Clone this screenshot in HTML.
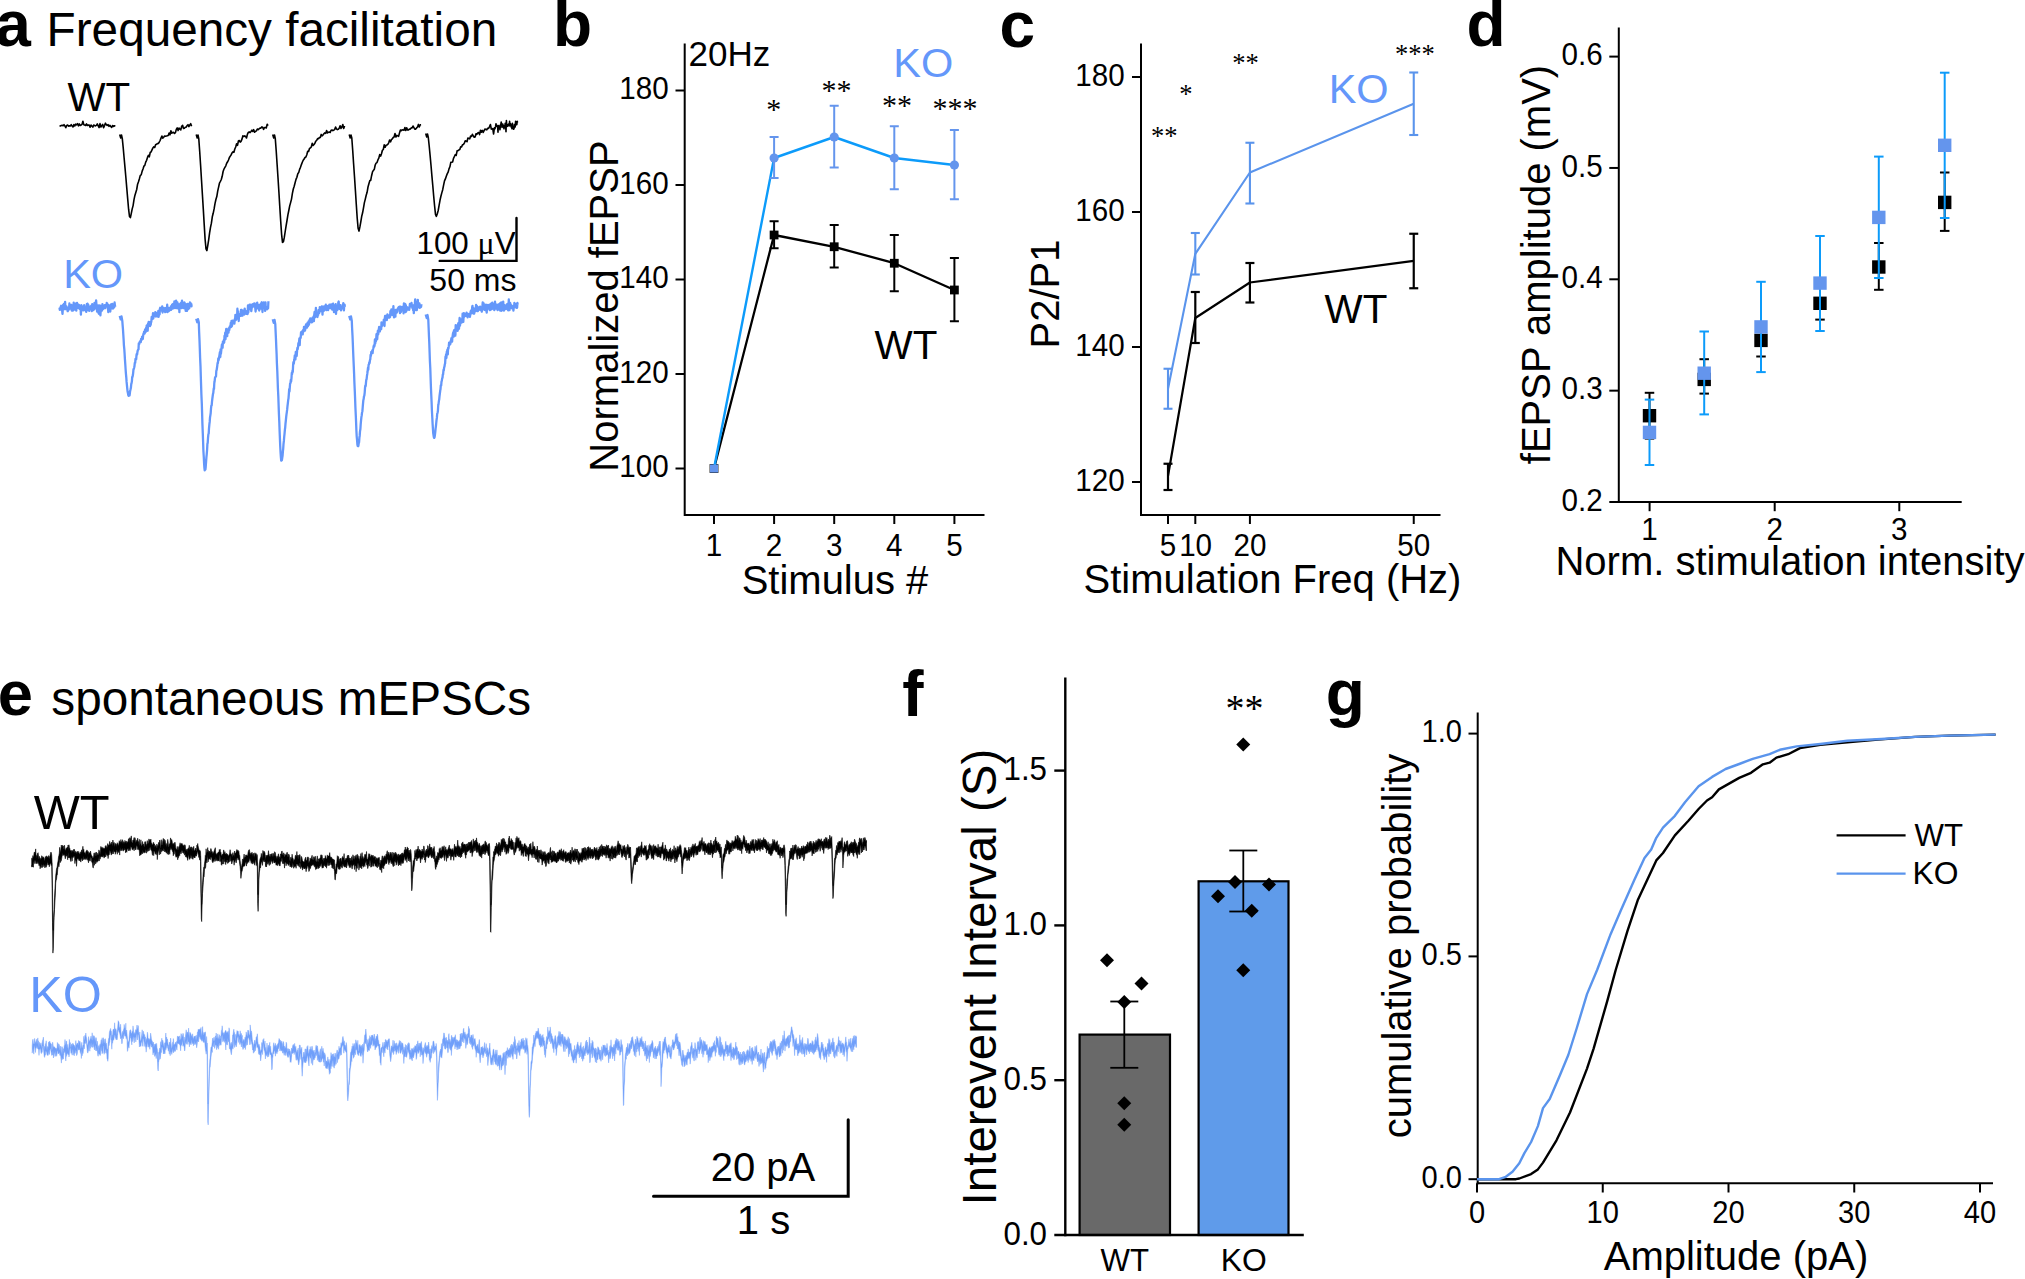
<!DOCTYPE html>
<html><head><meta charset="utf-8"><title>Figure</title>
<style>html,body{margin:0;padding:0;background:#fff;}svg{display:block;}text{white-space:pre;}</style>
</head><body>
<svg width="2025" height="1279" viewBox="0 0 2025 1279">
<rect width="2025" height="1279" fill="#fff"/>
<text x="-4.7" y="46" font-size="64" text-anchor="start" font-weight="bold" fill="#000" font-family='"Liberation Sans", sans-serif'>a</text>
<text x="46.6" y="45.6" font-size="47.7" text-anchor="start" fill="#000" font-family='"Liberation Sans", sans-serif'>Frequency facilitation</text>
<text x="67.4" y="111.4" font-size="40.4" text-anchor="start" fill="#000" font-family='"Liberation Sans", sans-serif'>WT</text>
<text x="63.2" y="287.6" font-size="41.5" text-anchor="start" fill="#6497FA" font-family='"Liberation Sans", sans-serif'>KO</text>
<polyline points="59.5,125.8 60.4,126.0 61.3,125.6 62.2,125.3 63.1,125.8 64.0,124.7 64.9,126.0 65.8,127.7 66.7,125.4 67.6,125.0 68.5,126.1 69.4,125.9 70.3,125.9 71.2,124.7 72.1,125.9 73.0,127.0 73.9,124.6 74.8,126.0 75.7,124.2 76.6,124.8 77.5,123.7 78.4,125.8 79.3,123.9 80.2,125.5 81.1,125.0 82.0,124.4 82.9,121.3 83.8,124.7 84.7,125.0 85.6,125.5 86.5,123.9 87.4,125.5 88.3,125.0 89.2,125.1 90.1,127.2 91.0,125.1 91.9,126.0 92.8,127.1 93.7,125.1 94.6,125.5 95.5,125.9 96.4,125.4 97.3,123.9 98.2,125.9 99.1,127.6 100.0,123.6 100.9,127.0 101.8,125.5 102.7,124.4 103.6,127.7 104.5,125.6 105.4,123.2 106.3,124.6 107.2,125.4 108.1,124.7 109.0,126.3 109.9,125.3 110.8,126.4 111.7,127.5 112.6,125.5 113.5,126.4 114.4,125.7 115.3,126.3" fill="none" stroke="#000" stroke-width="1.6" stroke-linejoin="round"/>
<polyline points="119.7,134.5 120.7,138.0 121.5,135.0 122.3,138.7 123.2,147.6 124.1,157.7 125.0,167.6 125.9,177.7 126.8,188.4 127.7,198.9 128.6,209.2 129.5,216.5 130.4,217.6 131.3,213.4 132.2,208.9 133.1,205.6 134.0,199.7 134.9,195.4 135.8,192.4 136.7,189.5 137.6,184.2 138.5,181.8 139.4,178.8 140.3,175.4 141.2,174.9 142.1,171.4 143.0,169.0 143.9,166.2 144.8,165.4 145.7,162.1 146.6,160.3 147.5,157.4 148.4,155.3 149.3,156.8 150.2,152.5 151.1,151.8 152.0,149.9 152.9,147.9 153.8,146.8 154.7,147.5 155.6,144.7 156.5,144.3 157.4,143.6 158.3,143.5 159.2,142.2 160.1,140.5 161.0,138.1 161.9,136.1 162.8,138.1 163.7,137.2 164.6,136.0 165.5,136.3 166.4,136.0 167.3,135.8 168.2,135.5 169.1,133.1 170.0,134.8 170.9,130.8 171.8,133.2 172.7,132.5 173.6,132.4 174.5,133.5 175.4,132.7 176.3,129.4 177.2,127.9 178.1,130.6 179.0,128.1 179.9,129.1 180.8,129.9 181.7,126.2 182.6,125.3 183.5,128.5 184.4,128.2 185.3,127.2 186.2,127.2 187.1,125.6 188.0,124.7 188.9,126.6 189.8,124.9 190.7,123.7 191.6,126.3" fill="none" stroke="#000" stroke-width="1.6" stroke-linejoin="round"/>
<polyline points="196.2,134.5 197.2,138.0 198.0,135.0 198.8,139.0 199.7,151.5 200.6,165.2 201.5,180.0 202.4,194.5 203.3,209.1 204.2,224.4 205.1,239.2 206.0,248.9 206.9,250.6 207.8,245.3 208.7,239.7 209.6,232.8 210.5,227.3 211.4,223.2 212.3,216.8 213.2,213.3 214.1,208.9 215.0,203.7 215.9,199.5 216.8,196.6 217.7,191.1 218.6,187.1 219.5,183.0 220.4,181.3 221.3,179.5 222.2,176.3 223.1,171.5 224.0,169.0 224.9,167.3 225.8,165.8 226.7,163.2 227.6,161.8 228.5,160.0 229.4,157.5 230.3,156.1 231.2,154.7 232.1,152.8 233.0,151.8 233.9,152.3 234.8,149.0 235.7,147.0 236.6,143.7 237.5,145.3 238.4,141.0 239.3,140.5 240.2,142.1 241.1,141.3 242.0,139.1 242.9,135.8 243.8,136.5 244.7,135.8 245.6,136.4 246.5,138.0 247.4,134.4 248.3,132.4 249.2,131.9 250.1,132.6 251.0,131.5 251.9,130.2 252.8,131.5 253.7,129.7 254.6,132.2 255.5,131.4 256.4,130.8 257.3,129.0 258.2,129.7 259.1,128.8 260.0,128.0 260.9,128.1 261.8,126.9 262.7,127.3 263.6,129.3 264.5,127.5 265.4,127.5 266.3,127.9 267.2,124.3 268.1,125.6" fill="none" stroke="#000" stroke-width="1.6" stroke-linejoin="round"/>
<polyline points="272.7,134.5 273.7,138.0 274.5,135.0 275.3,138.7 276.2,150.7 277.1,164.2 278.0,177.7 278.9,192.0 279.8,206.9 280.7,221.2 281.6,234.3 282.5,242.4 283.4,241.9 284.3,237.4 285.2,231.5 286.1,225.9 287.0,220.5 287.9,214.8 288.8,210.5 289.7,205.9 290.6,202.6 291.5,199.1 292.4,193.3 293.3,189.0 294.2,186.2 295.1,182.8 296.0,179.4 296.9,177.2 297.8,173.7 298.7,172.6 299.6,169.4 300.5,167.3 301.4,164.6 302.3,162.3 303.2,160.2 304.1,159.0 305.0,157.5 305.9,157.0 306.8,154.8 307.7,151.3 308.6,151.5 309.5,148.5 310.4,147.9 311.3,147.0 312.2,143.4 313.1,145.5 314.0,144.5 314.9,143.2 315.8,141.2 316.7,140.3 317.6,138.6 318.5,138.8 319.4,137.6 320.3,137.4 321.2,134.4 322.1,135.9 323.0,135.0 323.9,133.7 324.8,132.8 325.7,133.4 326.6,130.5 327.5,132.9 328.4,132.3 329.3,132.0 330.2,132.4 331.1,130.2 332.0,130.0 332.9,130.7 333.8,130.1 334.7,129.4 335.6,127.0 336.5,128.8 337.4,129.6 338.3,129.3 339.2,128.2 340.1,125.7 341.0,128.4 341.9,127.0 342.8,124.5 343.7,128.5 344.6,126.0" fill="none" stroke="#000" stroke-width="1.6" stroke-linejoin="round"/>
<polyline points="349.2,134.5 350.2,138.0 351.0,135.0 351.8,138.0 352.7,150.2 353.6,163.7 354.5,176.8 355.4,190.5 356.3,204.5 357.2,218.0 358.1,228.2 359.0,231.1 359.9,226.9 360.8,221.8 361.7,216.4 362.6,212.8 363.5,207.8 364.4,202.6 365.3,199.1 366.2,195.3 367.1,192.3 368.0,187.0 368.9,183.8 369.8,180.6 370.7,180.4 371.6,175.7 372.5,171.9 373.4,170.4 374.3,169.3 375.2,165.0 376.1,163.1 377.0,162.6 377.9,159.9 378.8,158.2 379.7,154.6 380.6,156.1 381.5,153.7 382.4,150.3 383.3,149.5 384.2,144.8 385.1,147.3 386.0,145.3 386.9,145.0 387.8,144.4 388.7,142.8 389.6,140.0 390.5,141.9 391.4,139.6 392.3,138.9 393.2,137.5 394.1,137.0 395.0,133.5 395.9,137.0 396.8,135.4 397.7,135.8 398.6,136.4 399.5,132.9 400.4,130.0 401.3,130.7 402.2,129.9 403.1,130.0 404.0,130.2 404.9,127.5 405.8,130.4 406.7,127.7 407.6,130.0 408.5,129.9 409.4,129.1 410.3,129.1 411.2,127.9 412.1,127.9 413.0,126.0 413.9,127.6 414.8,129.2 415.7,129.1 416.6,127.9 417.5,127.0 418.4,124.4 419.3,126.9 420.2,124.8 421.1,124.7" fill="none" stroke="#000" stroke-width="1.6" stroke-linejoin="round"/>
<polyline points="425.7,133.5 426.7,137.0 427.5,134.0 428.3,137.5 429.2,146.0 430.1,155.4 431.0,165.3 431.9,175.9 432.8,185.8 433.7,196.3 434.6,206.0 435.5,214.3 436.4,216.3 437.3,213.7 438.2,210.5 439.1,205.3 440.0,200.3 440.9,196.3 441.8,192.9 442.7,189.7 443.6,185.2 444.5,180.9 445.4,178.9 446.3,176.2 447.2,173.9 448.1,172.2 449.0,168.9 449.9,166.8 450.8,162.4 451.7,162.3 452.6,162.0 453.5,158.4 454.4,156.5 455.3,154.7 456.2,155.4 457.1,150.9 458.0,150.7 458.9,149.9 459.8,149.6 460.7,146.8 461.6,146.9 462.5,144.8 463.4,144.5 464.3,143.1 465.2,140.9 466.1,141.1 467.0,141.7 467.9,138.0 468.8,138.4 469.7,138.9 470.6,136.0 471.5,136.5 472.4,134.3 473.3,135.8 474.2,137.3 475.1,137.0 476.0,133.7 476.9,134.3 477.8,133.0 478.7,132.5 479.6,134.6 480.5,130.2 481.4,132.2 482.3,130.4 483.2,132.4 484.1,130.6 485.0,129.0 485.9,129.4 486.8,129.8 487.7,128.2 488.6,128.5 489.5,126.6 490.4,124.5 491.3,129.0 492.0,129.2 492.4,129.0 492.8,128.5 493.2,131.7 493.6,134.0 494.0,130.8 494.4,127.9 494.8,129.0 495.2,128.2 495.6,126.4 496.0,123.7 496.4,126.2 496.8,125.3 497.2,126.5 497.6,126.3 498.0,132.2 498.4,125.5 498.8,127.3 499.2,126.1 499.6,128.0 500.0,129.7 500.4,125.0 500.8,124.7 501.2,122.1 501.6,123.9 502.0,127.5 502.4,126.6 502.8,124.1 503.2,125.6 503.6,126.5 504.0,128.8 504.4,125.6 504.8,126.9 505.2,123.3 505.6,124.3 506.0,131.8 506.4,120.5 506.8,126.0 507.2,126.4 507.6,126.2 508.0,124.9 508.4,124.2 508.8,125.0 509.2,125.8 509.6,121.4 510.0,125.7 510.4,123.5 510.8,124.7 511.2,126.9 511.6,127.4 512.0,128.8 512.4,123.2 512.8,128.5 513.2,127.9 513.6,129.2 514.0,128.9 514.4,124.6 514.8,125.3 515.2,126.9 515.6,121.3 516.0,124.8 516.4,124.0 516.8,124.6 517.2,121.3 517.6,122.6" fill="none" stroke="#000" stroke-width="1.6" stroke-linejoin="round"/>
<polyline points="59.5,307.6 59.8,309.9 60.2,309.1 60.5,307.1 60.8,306.7 61.1,305.8 61.5,308.7 61.8,307.4 62.1,310.1 62.5,313.9 62.8,309.0 63.1,305.0 63.5,305.9 63.8,304.1 64.1,303.8 64.4,309.1 64.8,305.9 65.1,301.8 65.4,307.1 65.8,309.2 66.1,306.5 66.4,306.2 66.8,307.4 67.1,308.9 67.4,309.6 67.7,311.2 68.1,310.3 68.4,309.8 68.7,309.8 69.1,307.8 69.4,303.5 69.7,306.6 70.1,307.4 70.4,305.9 70.7,308.7 71.0,305.8 71.4,304.9 71.7,310.5 72.0,309.1 72.4,307.8 72.7,309.9 73.0,310.5 73.4,309.4 73.7,302.6 74.0,306.1 74.3,306.6 74.7,305.5 75.0,307.9 75.3,309.7 75.7,305.5 76.0,303.5 76.3,310.6 76.7,304.5 77.0,302.9 77.3,306.5 77.6,307.0 78.0,304.3 78.3,307.9 78.6,305.2 79.0,305.0 79.3,307.8 79.6,308.9 80.0,306.5 80.3,308.5 80.6,308.3 80.9,314.6 81.3,305.1 81.6,310.5 81.9,307.8 82.3,306.8 82.6,309.3 82.9,309.2 83.3,310.3 83.6,308.5 83.9,305.4 84.2,305.2 84.6,307.9 84.9,308.4 85.2,310.4 85.6,308.8 85.9,310.5 86.2,311.8 86.6,308.0 86.9,303.8 87.2,304.5 87.5,303.6 87.9,310.1 88.2,304.6 88.5,309.0 88.9,308.0 89.2,310.8 89.5,308.6 89.9,306.6 90.2,306.4 90.5,306.9 90.8,307.2 91.2,305.7 91.5,307.0 91.8,311.2 92.2,304.2 92.5,308.8 92.8,306.2 93.2,309.0 93.5,310.1 93.8,307.8 94.1,309.1 94.5,302.8 94.8,308.6 95.1,304.9 95.5,307.7 95.8,306.8 96.1,300.4 96.5,305.4 96.8,307.9 97.1,311.6 97.4,308.7 97.8,309.2 98.1,305.4 98.4,312.5 98.8,313.7 99.1,309.1 99.4,308.3 99.8,305.4 100.1,310.8 100.4,315.3 100.7,310.9 101.1,311.1 101.4,310.0 101.7,305.8 102.1,310.5 102.4,304.2 102.7,306.3 103.1,307.1 103.4,308.8 103.7,307.2 104.0,308.0 104.4,305.9 104.7,305.1 105.0,308.2 105.4,306.3 105.7,305.0 106.0,305.6 106.4,306.3 106.7,303.0 107.0,304.9 107.3,303.7 107.7,308.3 108.0,308.7 108.3,312.2 108.7,305.1 109.0,306.4 109.3,309.2 109.7,307.6 110.0,307.0 110.3,311.5 110.6,306.8 111.0,304.4 111.3,304.9 111.6,308.3 112.0,308.1 112.3,303.9 112.6,305.1 113.0,308.5 113.3,308.0 113.6,304.7 113.9,307.6 114.3,307.0 114.6,302.5 114.9,305.3 115.3,306.7" fill="none" stroke="#6497FA" stroke-width="2.3" stroke-linejoin="round"/>
<polyline points="119.7,315.9 120.7,319.4 121.5,316.4 122.3,320.9 122.6,324.9 123.0,329.7 123.3,334.5 123.6,339.1 123.9,345.1 124.3,349.2 124.6,353.6 124.9,358.9 125.3,364.5 125.6,369.2 125.9,373.3 126.3,377.7 126.6,381.9 126.9,384.8 127.2,388.1 127.6,391.6 127.9,392.9 128.2,394.9 128.6,395.9 128.9,395.7 129.2,394.6 129.6,395.4 129.9,392.9 130.2,390.6 130.5,389.6 130.9,387.8 131.2,384.5 131.5,383.4 131.9,381.3 132.2,377.0 132.5,377.0 132.9,375.1 133.2,372.6 133.5,369.2 133.8,369.0 134.2,367.5 134.5,366.0 134.8,362.8 135.2,362.8 135.5,358.9 135.8,358.7 136.2,359.1 136.5,355.1 136.8,353.8 137.1,354.7 137.5,351.6 137.8,350.4 138.1,349.7 138.5,349.5 138.8,343.4 139.1,344.4 139.5,342.8 139.8,341.8 140.1,341.4 140.4,341.0 140.8,342.1 141.1,338.8 141.4,340.0 141.8,339.6 142.1,336.7 142.4,337.1 142.8,338.9 143.1,336.0 143.4,333.9 143.7,334.0 144.1,331.7 144.4,333.0 144.7,333.5 145.1,329.4 145.4,329.6 145.7,331.9 146.1,327.8 146.4,328.8 146.7,325.5 147.0,325.2 147.4,325.6 147.7,330.8 148.0,323.9 148.4,322.9 148.7,321.9 149.0,323.0 149.4,324.4 149.7,322.6 150.0,326.2 150.3,322.0 150.7,324.8 151.0,322.3 151.3,321.8 151.7,316.8 152.0,319.3 152.3,319.0 152.7,318.1 153.0,313.1 153.3,318.5 153.6,315.6 154.0,315.1 154.3,315.0 154.6,314.6 155.0,316.2 155.3,312.2 155.6,313.7 156.0,316.5 156.3,315.6 156.6,314.5 156.9,314.1 157.3,312.8 157.6,314.2 157.9,316.5 158.3,311.0 158.6,316.9 158.9,314.8 159.3,311.6 159.6,314.4 159.9,308.8 160.2,307.8 160.6,308.3 160.9,309.9 161.2,309.9 161.6,309.2 161.9,310.9 162.2,306.3 162.6,312.5 162.9,307.9 163.2,310.3 163.5,310.9 163.9,309.2 164.2,308.0 164.5,308.4 164.9,310.9 165.2,312.1 165.5,311.9 165.9,307.8 166.2,308.4 166.5,307.6 166.8,311.1 167.2,304.7 167.5,312.2 167.8,307.7 168.2,307.6 168.5,309.5 168.8,311.2 169.2,308.6 169.5,310.3 169.8,308.0 170.1,310.1 170.5,309.5 170.8,306.5 171.1,309.8 171.5,307.4 171.8,307.6 172.1,304.6 172.5,306.1 172.8,308.5 173.1,303.9 173.4,308.3 173.8,307.4 174.1,306.4 174.4,301.4 174.8,306.2 175.1,308.0 175.4,304.6 175.8,306.7 176.1,300.6 176.4,308.0 176.7,304.8 177.1,308.2 177.4,302.3 177.7,308.3 178.1,305.9 178.4,308.5 178.7,304.7 179.1,305.7 179.4,312.1 179.7,304.3 180.0,304.0 180.4,305.1 180.7,303.1 181.0,307.8 181.4,308.1 181.7,302.4 182.0,300.6 182.4,307.2 182.7,307.2 183.0,307.2 183.3,308.1 183.7,303.7 184.0,305.7 184.3,302.3 184.7,303.0 185.0,308.7 185.3,304.3 185.7,310.9 186.0,306.1 186.3,304.5 186.6,308.6 187.0,310.8 187.3,307.4 187.6,303.8 188.0,307.0 188.3,309.2 188.6,304.7 189.0,304.3 189.3,308.1 189.6,305.6 189.9,302.5 190.3,304.6 190.6,303.2 190.9,305.3 191.3,304.0 191.6,306.4 191.9,306.0" fill="none" stroke="#6497FA" stroke-width="2.3" stroke-linejoin="round"/>
<polyline points="196.2,318.7 197.2,322.2 198.0,319.2 198.8,322.3 199.1,331.3 199.5,340.1 199.8,348.4 200.1,357.6 200.5,366.1 200.8,376.4 201.1,385.6 201.4,394.8 201.8,403.4 202.1,413.1 202.4,423.6 202.8,433.4 203.1,441.8 203.4,450.7 203.8,457.3 204.1,463.5 204.4,467.8 204.7,470.4 205.1,469.2 205.4,469.5 205.7,467.0 206.1,461.4 206.4,457.3 206.7,454.6 207.1,449.7 207.4,443.9 207.7,442.9 208.0,438.2 208.4,434.2 208.7,433.6 209.0,428.3 209.4,424.2 209.7,421.9 210.0,417.7 210.4,415.1 210.7,413.0 211.0,408.6 211.3,405.8 211.7,405.3 212.0,401.6 212.3,399.0 212.7,396.0 213.0,393.8 213.3,392.9 213.7,388.5 214.0,388.9 214.3,383.0 214.6,381.6 215.0,377.8 215.3,377.2 215.6,376.7 216.0,376.5 216.3,371.0 216.6,370.2 217.0,367.8 217.3,365.6 217.6,362.9 217.9,363.1 218.3,358.3 218.6,360.3 218.9,358.5 219.3,356.2 219.6,354.3 219.9,352.2 220.3,357.2 220.6,349.5 220.9,353.9 221.2,351.1 221.6,347.5 221.9,344.5 222.2,347.6 222.6,347.7 222.9,341.5 223.2,341.4 223.6,343.1 223.9,339.8 224.2,342.5 224.5,335.8 224.9,337.3 225.2,332.7 225.5,339.3 225.9,332.2 226.2,329.0 226.5,332.9 226.9,332.4 227.2,336.2 227.5,329.6 227.8,329.9 228.2,330.7 228.5,332.7 228.8,328.2 229.2,330.3 229.5,328.6 229.8,326.5 230.2,326.7 230.5,326.1 230.8,322.8 231.1,327.0 231.5,321.0 231.8,326.3 232.1,325.1 232.5,322.4 232.8,320.6 233.1,321.8 233.5,323.0 233.8,323.4 234.1,322.2 234.4,323.6 234.8,319.2 235.1,319.8 235.4,314.8 235.8,320.0 236.1,317.6 236.4,315.8 236.8,318.6 237.1,316.8 237.4,308.7 237.7,314.9 238.1,311.3 238.4,317.1 238.7,321.0 239.1,314.4 239.4,315.7 239.7,314.5 240.1,315.1 240.4,315.0 240.7,315.9 241.0,309.8 241.4,315.4 241.7,309.8 242.0,312.7 242.4,315.7 242.7,315.1 243.0,310.8 243.4,310.7 243.7,310.5 244.0,311.6 244.3,314.5 244.7,308.7 245.0,311.8 245.3,312.3 245.7,312.1 246.0,312.2 246.3,313.9 246.7,311.2 247.0,311.5 247.3,311.3 247.6,314.0 248.0,305.4 248.3,312.5 248.6,308.8 249.0,308.7 249.3,307.0 249.6,304.7 250.0,307.8 250.3,306.6 250.6,309.5 250.9,304.7 251.3,311.2 251.6,308.7 251.9,306.8 252.3,305.5 252.6,305.5 252.9,304.1 253.3,305.3 253.6,306.5 253.9,305.8 254.2,303.5 254.6,306.2 254.9,305.0 255.2,307.3 255.6,311.5 255.9,308.6 256.2,306.4 256.6,303.1 256.9,303.3 257.2,302.6 257.5,308.4 257.9,304.8 258.2,306.3 258.5,304.8 258.9,307.3 259.2,310.5 259.5,305.7 259.9,306.4 260.2,304.6 260.5,308.7 260.8,303.9 261.2,303.3 261.5,302.7 261.8,302.3 262.2,306.4 262.5,312.0 262.8,303.5 263.2,308.2 263.5,305.7 263.8,302.5 264.1,304.9 264.5,305.6 264.8,304.7 265.1,310.9 265.5,302.4 265.8,308.4 266.1,308.8 266.5,306.8 266.8,307.8 267.1,309.3 267.4,307.6 267.8,307.9 268.1,308.3 268.4,301.2" fill="none" stroke="#6497FA" stroke-width="2.3" stroke-linejoin="round"/>
<polyline points="272.7,319.3 273.7,322.8 274.5,319.8 275.3,324.3 275.6,331.4 276.0,339.7 276.3,347.4 276.6,354.0 276.9,363.1 277.3,371.2 277.6,379.5 277.9,388.2 278.3,396.0 278.6,404.8 278.9,413.4 279.3,422.0 279.6,430.8 279.9,438.3 280.2,445.8 280.6,452.9 280.9,457.4 281.2,460.7 281.6,459.9 281.9,460.1 282.2,458.0 282.6,455.5 282.9,451.4 283.2,448.8 283.5,444.1 283.9,440.7 284.2,436.8 284.5,434.1 284.9,429.6 285.2,427.5 285.5,423.6 285.9,420.0 286.2,416.9 286.5,414.4 286.8,412.3 287.2,409.2 287.5,406.0 287.8,403.7 288.2,400.1 288.5,398.6 288.8,394.7 289.2,389.1 289.5,391.5 289.8,387.3 290.1,383.6 290.5,383.0 290.8,380.0 291.1,381.7 291.5,378.0 291.8,372.9 292.1,374.1 292.5,370.6 292.8,372.0 293.1,365.2 293.4,362.1 293.8,363.7 294.1,361.0 294.4,359.3 294.8,355.4 295.1,358.5 295.4,359.4 295.8,351.9 296.1,356.2 296.4,352.0 296.7,356.0 297.1,350.5 297.4,347.9 297.7,349.2 298.1,346.5 298.4,343.2 298.7,344.8 299.1,341.5 299.4,338.3 299.7,345.1 300.0,338.8 300.4,337.2 300.7,337.9 301.0,332.6 301.4,331.9 301.7,332.5 302.0,331.5 302.4,332.6 302.7,334.4 303.0,330.1 303.3,331.9 303.7,331.4 304.0,326.9 304.3,329.6 304.7,326.8 305.0,330.5 305.3,329.0 305.7,327.7 306.0,324.5 306.3,327.3 306.6,325.3 307.0,327.6 307.3,325.3 307.6,322.7 308.0,326.0 308.3,324.6 308.6,321.3 309.0,324.6 309.3,320.6 309.6,319.8 309.9,320.7 310.3,318.3 310.6,318.9 310.9,318.9 311.3,322.4 311.6,322.3 311.9,318.7 312.3,322.0 312.6,317.7 312.9,318.0 313.2,318.6 313.6,316.4 313.9,321.2 314.2,315.2 314.6,311.8 314.9,317.4 315.2,313.6 315.6,314.3 315.9,307.9 316.2,316.4 316.5,316.2 316.9,315.9 317.2,315.6 317.5,317.0 317.9,313.0 318.2,314.9 318.5,310.1 318.9,310.0 319.2,312.9 319.5,311.4 319.8,307.2 320.2,310.4 320.5,309.1 320.8,308.3 321.2,311.1 321.5,309.3 321.8,306.3 322.2,307.8 322.5,314.6 322.8,306.9 323.1,310.4 323.5,311.3 323.8,310.7 324.1,306.3 324.5,307.2 324.8,308.2 325.1,309.7 325.5,306.3 325.8,304.7 326.1,309.7 326.4,310.1 326.8,308.4 327.1,306.1 327.4,308.3 327.8,308.1 328.1,310.2 328.4,305.6 328.8,308.1 329.1,307.0 329.4,304.6 329.7,308.2 330.1,307.5 330.4,306.5 330.7,308.2 331.1,304.4 331.4,307.7 331.7,308.8 332.1,308.1 332.4,309.7 332.7,304.1 333.0,303.6 333.4,307.7 333.7,308.1 334.0,312.1 334.4,308.6 334.7,305.2 335.0,309.5 335.4,305.8 335.7,304.2 336.0,313.9 336.3,307.8 336.7,308.4 337.0,307.3 337.3,310.1 337.7,305.6 338.0,308.0 338.3,302.4 338.7,301.5 339.0,308.1 339.3,308.9 339.6,306.5 340.0,306.9 340.3,306.6 340.6,305.1 341.0,310.3 341.3,308.5 341.6,308.1 342.0,307.5 342.3,308.4 342.6,307.0 342.9,307.4 343.3,303.2 343.6,306.7 343.9,310.3 344.3,304.4 344.6,304.8 344.9,306.9" fill="none" stroke="#6497FA" stroke-width="2.3" stroke-linejoin="round"/>
<polyline points="349.2,315.9 350.2,319.4 351.0,316.4 351.8,321.0 352.1,328.3 352.5,335.5 352.8,342.6 353.1,350.5 353.4,357.8 353.8,366.6 354.1,373.9 354.4,382.5 354.8,391.3 355.1,398.7 355.4,407.2 355.8,415.5 356.1,422.5 356.4,430.8 356.7,436.5 357.1,440.5 357.4,444.6 357.7,445.9 358.1,446.3 358.4,445.9 358.7,443.3 359.1,442.1 359.4,437.6 359.7,435.7 360.0,431.4 360.4,429.0 360.7,424.3 361.0,421.0 361.4,417.1 361.7,415.5 362.0,412.8 362.4,411.2 362.7,407.5 363.0,403.8 363.3,400.6 363.7,398.8 364.0,396.2 364.3,395.9 364.7,392.7 365.0,388.1 365.3,385.7 365.7,386.0 366.0,382.4 366.3,379.6 366.6,379.2 367.0,375.5 367.3,373.7 367.6,371.5 368.0,367.7 368.3,369.8 368.6,364.9 369.0,364.2 369.3,362.3 369.6,363.2 369.9,360.5 370.3,359.2 370.6,354.8 370.9,355.8 371.3,351.9 371.6,353.4 371.9,352.1 372.3,350.4 372.6,353.1 372.9,349.7 373.2,348.8 373.6,347.1 373.9,345.3 374.2,346.6 374.6,345.3 374.9,339.5 375.2,343.6 375.6,341.5 375.9,341.4 376.2,339.2 376.5,334.1 376.9,333.8 377.2,339.3 377.5,334.4 377.9,330.6 378.2,334.4 378.5,332.1 378.9,328.7 379.2,326.8 379.5,327.7 379.8,331.4 380.2,329.5 380.5,328.1 380.8,329.1 381.2,329.1 381.5,322.4 381.8,326.2 382.2,324.4 382.5,323.0 382.8,324.1 383.1,324.5 383.5,323.6 383.8,319.7 384.1,321.1 384.5,326.0 384.8,318.4 385.1,316.0 385.5,319.4 385.8,319.7 386.1,319.5 386.4,315.6 386.8,320.1 387.1,316.0 387.4,314.5 387.8,315.6 388.1,316.1 388.4,317.5 388.8,317.2 389.1,316.0 389.4,317.6 389.7,315.2 390.1,316.9 390.4,311.4 390.7,310.7 391.1,315.0 391.4,309.5 391.7,311.9 392.1,312.4 392.4,311.6 392.7,311.4 393.0,315.1 393.4,306.2 393.7,314.1 394.0,317.3 394.4,311.8 394.7,311.7 395.0,313.4 395.4,316.6 395.7,309.8 396.0,312.1 396.3,311.2 396.7,312.7 397.0,311.0 397.3,311.6 397.7,308.6 398.0,309.4 398.3,307.7 398.7,307.2 399.0,308.9 399.3,309.0 399.6,306.7 400.0,313.1 400.3,309.5 400.6,306.7 401.0,311.9 401.3,306.9 401.6,310.0 402.0,308.9 402.3,309.5 402.6,308.4 402.9,306.7 403.3,308.3 403.6,313.4 403.9,303.3 404.3,308.8 404.6,308.9 404.9,305.4 405.3,304.0 405.6,312.1 405.9,305.5 406.2,311.4 406.6,307.9 406.9,307.0 407.2,308.0 407.6,308.6 407.9,309.7 408.2,308.7 408.6,307.7 408.9,307.5 409.2,309.9 409.5,308.3 409.9,303.9 410.2,304.6 410.5,306.4 410.9,304.1 411.2,304.2 411.5,302.9 411.9,305.5 412.2,306.9 412.5,308.3 412.8,305.8 413.2,310.3 413.5,305.4 413.8,313.1 414.2,308.1 414.5,306.7 414.8,304.6 415.2,299.3 415.5,305.6 415.8,306.4 416.1,310.1 416.5,302.3 416.8,310.2 417.1,305.2 417.5,307.4 417.8,299.9 418.1,306.0 418.5,305.3 418.8,307.3 419.1,306.1 419.4,303.3 419.8,307.8 420.1,306.9 420.4,306.4 420.8,307.1 421.1,307.0 421.4,304.1" fill="none" stroke="#6497FA" stroke-width="2.3" stroke-linejoin="round"/>
<polyline points="425.7,314.5 426.7,318.0 427.5,315.0 428.3,319.7 428.6,327.3 429.0,336.7 429.3,343.4 429.6,352.1 429.9,361.0 430.3,368.5 430.6,377.7 430.9,386.5 431.3,395.8 431.6,402.4 431.9,410.5 432.3,417.8 432.6,423.8 432.9,428.3 433.2,433.0 433.6,435.7 433.9,437.4 434.2,437.9 434.6,437.2 434.9,435.0 435.2,432.6 435.6,428.6 435.9,426.3 436.2,423.5 436.5,420.3 436.9,417.7 437.2,413.8 437.5,413.1 437.9,411.1 438.2,405.8 438.5,404.3 438.9,400.9 439.2,399.6 439.5,396.4 439.8,394.0 440.2,390.8 440.5,389.3 440.8,385.4 441.2,385.5 441.5,381.7 441.8,380.8 442.2,378.1 442.5,377.9 442.8,374.6 443.1,374.5 443.5,369.9 443.8,370.3 444.1,367.6 444.5,366.5 444.8,364.3 445.1,363.6 445.5,356.6 445.8,358.7 446.1,354.4 446.4,358.0 446.8,351.6 447.1,351.9 447.4,349.6 447.8,354.4 448.1,347.9 448.4,348.8 448.8,346.2 449.1,342.6 449.4,344.1 449.7,344.7 450.1,342.6 450.4,344.0 450.7,341.1 451.1,340.3 451.4,338.2 451.7,339.1 452.1,341.7 452.4,337.2 452.7,335.6 453.0,333.3 453.4,332.2 453.7,336.7 454.0,330.4 454.4,330.0 454.7,331.9 455.0,331.0 455.4,335.7 455.7,325.1 456.0,330.2 456.3,330.6 456.7,325.9 457.0,326.3 457.3,328.7 457.7,330.8 458.0,324.7 458.3,323.2 458.7,328.4 459.0,328.7 459.3,323.2 459.6,318.0 460.0,325.6 460.3,321.4 460.6,323.3 461.0,320.5 461.3,319.1 461.6,319.1 462.0,322.3 462.3,322.1 462.6,313.7 462.9,316.3 463.3,321.9 463.6,316.7 463.9,313.2 464.3,316.6 464.6,316.3 464.9,315.3 465.3,314.6 465.6,314.4 465.9,313.6 466.2,315.9 466.6,312.7 466.9,314.2 467.2,314.1 467.6,317.3 467.9,315.4 468.2,313.8 468.6,314.5 468.9,314.4 469.2,314.9 469.5,314.0 469.9,316.8 470.2,315.2 470.5,312.1 470.9,310.8 471.2,313.5 471.5,312.3 471.9,310.7 472.2,307.1 472.5,305.8 472.8,311.5 473.2,313.5 473.5,313.6 473.8,308.6 474.2,313.6 474.5,309.6 474.8,311.9 475.2,310.9 475.5,307.8 475.8,308.0 476.1,304.9 476.5,307.4 476.8,305.9 477.1,311.1 477.5,309.6 477.8,311.2 478.1,309.7 478.5,307.5 478.8,309.7 479.1,307.5 479.4,309.4 479.8,309.7 480.1,306.6 480.4,308.7 480.8,308.2 481.1,307.6 481.4,310.2 481.8,311.7 482.1,306.8 482.4,306.7 482.7,302.5 483.1,307.7 483.4,307.1 483.7,303.5 484.1,309.5 484.4,309.9 484.7,306.6 485.1,307.7 485.4,306.3 485.7,310.3 486.0,304.6 486.4,306.9 486.7,312.6 487.0,308.6 487.4,309.0 487.7,307.4 488.0,304.8 488.4,307.6 488.7,308.7 489.0,305.3 489.3,308.2 489.7,310.1 490.0,310.1 490.3,304.1 490.7,305.2 491.0,303.6 491.3,309.4 491.7,308.7 492.0,309.0 492.3,302.7 492.6,307.3 493.0,305.8 493.3,308.0 493.6,304.1 494.0,305.7 494.3,310.2 494.6,304.8 495.0,301.6 495.3,305.5 495.6,304.0 495.9,306.3 496.3,308.7 496.6,304.8 496.9,308.3 497.3,306.2 497.6,310.1 497.9,309.9 498.3,304.4 498.6,305.7 498.9,305.2 499.2,306.3 499.6,308.2 499.9,303.5 500.2,310.6 500.6,304.2 500.9,306.3 501.2,302.3 501.6,310.8 501.9,304.5 502.2,305.8 502.5,305.8 502.9,308.2 503.2,301.6 503.5,306.3 503.9,310.7 504.2,304.9 504.5,306.6 504.9,308.9 505.2,305.6 505.5,307.4 505.8,309.2 506.2,306.4 506.5,307.0 506.8,304.3 507.2,308.1 507.5,303.8 507.8,309.1 508.2,310.3 508.5,305.0 508.8,299.5 509.1,308.3 509.5,310.1 509.8,304.4 510.1,302.8 510.5,304.2 510.8,308.2 511.1,307.4 511.5,305.4 511.8,306.0 512.1,308.3 512.4,306.6 512.8,306.6 513.1,306.1 513.4,310.6 513.8,307.2 514.1,306.7 514.4,302.8 514.8,304.1 515.1,305.9 515.4,303.8 515.7,307.4 516.1,306.8 516.4,305.1 516.7,307.9 517.1,307.7 517.4,302.9 517.7,304.6" fill="none" stroke="#6497FA" stroke-width="2.3" stroke-linejoin="round"/>
<polyline points="439.7,260.9 516.5,260.9 516.5,218" fill="none" stroke="#000" stroke-width="2.4" stroke-linecap="round" stroke-linejoin="miter"/>
<text x="515.5" y="253.7" font-size="31.3" text-anchor="end" font-family='"Liberation Sans", sans-serif'>100 <tspan font-family='"Liberation Serif", serif' font-size="32">μ</tspan>V</text>
<text x="516.5" y="291.1" font-size="32" text-anchor="end" fill="#000" font-family='"Liberation Sans", sans-serif'>50 ms</text>
<text x="553" y="46" font-size="64" text-anchor="start" font-weight="bold" fill="#000" font-family='"Liberation Sans", sans-serif'>b</text>
<polyline points="684.7,43.5 684.7,515 984.5,515" fill="none" stroke="#000" stroke-width="2"/>
<line x1="675.5" y1="468.5" x2="684.7" y2="468.5" stroke="#000" stroke-width="2" stroke-linecap="butt"/>
<text transform="translate(668.6 477.3) scale(0.94 1)" font-size="31.5" text-anchor="end" fill="#000" font-family='"Liberation Sans", sans-serif'>100</text>
<line x1="675.5" y1="374.0" x2="684.7" y2="374.0" stroke="#000" stroke-width="2" stroke-linecap="butt"/>
<text transform="translate(668.6 382.8) scale(0.94 1)" font-size="31.5" text-anchor="end" fill="#000" font-family='"Liberation Sans", sans-serif'>120</text>
<line x1="675.5" y1="279.5" x2="684.7" y2="279.5" stroke="#000" stroke-width="2" stroke-linecap="butt"/>
<text transform="translate(668.6 288.3) scale(0.94 1)" font-size="31.5" text-anchor="end" fill="#000" font-family='"Liberation Sans", sans-serif'>140</text>
<line x1="675.5" y1="185.0" x2="684.7" y2="185.0" stroke="#000" stroke-width="2" stroke-linecap="butt"/>
<text transform="translate(668.6 193.8) scale(0.94 1)" font-size="31.5" text-anchor="end" fill="#000" font-family='"Liberation Sans", sans-serif'>160</text>
<line x1="675.5" y1="90.5" x2="684.7" y2="90.5" stroke="#000" stroke-width="2" stroke-linecap="butt"/>
<text transform="translate(668.6 99.3) scale(0.94 1)" font-size="31.5" text-anchor="end" fill="#000" font-family='"Liberation Sans", sans-serif'>180</text>
<line x1="714.0" y1="515" x2="714.0" y2="524" stroke="#000" stroke-width="2" stroke-linecap="butt"/>
<text transform="translate(714.0 556) scale(0.94 1)" font-size="31.5" text-anchor="middle" fill="#000" font-family='"Liberation Sans", sans-serif'>1</text>
<line x1="774.1" y1="515" x2="774.1" y2="524" stroke="#000" stroke-width="2" stroke-linecap="butt"/>
<text transform="translate(774.1 556) scale(0.94 1)" font-size="31.5" text-anchor="middle" fill="#000" font-family='"Liberation Sans", sans-serif'>2</text>
<line x1="834.2" y1="515" x2="834.2" y2="524" stroke="#000" stroke-width="2" stroke-linecap="butt"/>
<text transform="translate(834.2 556) scale(0.94 1)" font-size="31.5" text-anchor="middle" fill="#000" font-family='"Liberation Sans", sans-serif'>3</text>
<line x1="894.3" y1="515" x2="894.3" y2="524" stroke="#000" stroke-width="2" stroke-linecap="butt"/>
<text transform="translate(894.3 556) scale(0.94 1)" font-size="31.5" text-anchor="middle" fill="#000" font-family='"Liberation Sans", sans-serif'>4</text>
<line x1="954.4" y1="515" x2="954.4" y2="524" stroke="#000" stroke-width="2" stroke-linecap="butt"/>
<text transform="translate(954.4 556) scale(0.94 1)" font-size="31.5" text-anchor="middle" fill="#000" font-family='"Liberation Sans", sans-serif'>5</text>
<text x="835" y="594" font-size="40" text-anchor="middle" fill="#000" font-family='"Liberation Sans", sans-serif'>Stimulus #</text>
<text x="618.3" y="306" font-size="40" text-anchor="middle" fill="#000" font-family='"Liberation Sans", sans-serif' transform="rotate(-90 618.3 306)">Normalized fEPSP</text>
<text x="688.6" y="65.8" font-size="35" text-anchor="start" fill="#000" font-family='"Liberation Sans", sans-serif'>20Hz</text>
<text x="893.3" y="77" font-size="41.5" text-anchor="start" fill="#6497FA" font-family='"Liberation Sans", sans-serif'>KO</text>
<text x="874.6" y="358.7" font-size="40.4" text-anchor="start" fill="#000" font-family='"Liberation Sans", sans-serif'>WT</text>
<polyline points="714.0,468.5 774.1,235.0 834.2,246.8 894.3,263.2 954.4,290.0" fill="none" stroke="#000" stroke-width="2.3" stroke-linejoin="round"/>
<rect x="709.6" y="464.1" width="8.8" height="8.8" fill="#000"/>
<line x1="774.1" y1="221.25" x2="774.1" y2="248.25" stroke="#000" stroke-width="2" stroke-linecap="butt"/>
<line x1="769.6" y1="221.25" x2="778.6" y2="221.25" stroke="#000" stroke-width="2" stroke-linecap="butt"/>
<line x1="769.6" y1="248.25" x2="778.6" y2="248.25" stroke="#000" stroke-width="2" stroke-linecap="butt"/>
<rect x="769.7" y="230.6" width="8.8" height="8.8" fill="#000"/>
<line x1="834.2" y1="225" x2="834.2" y2="267.5" stroke="#000" stroke-width="2" stroke-linecap="butt"/>
<line x1="829.7" y1="225" x2="838.7" y2="225" stroke="#000" stroke-width="2" stroke-linecap="butt"/>
<line x1="829.7" y1="267.5" x2="838.7" y2="267.5" stroke="#000" stroke-width="2" stroke-linecap="butt"/>
<rect x="829.8000000000001" y="242.35" width="8.8" height="8.8" fill="#000"/>
<line x1="894.3" y1="235" x2="894.3" y2="291.25" stroke="#000" stroke-width="2" stroke-linecap="butt"/>
<line x1="889.8" y1="235" x2="898.8" y2="235" stroke="#000" stroke-width="2" stroke-linecap="butt"/>
<line x1="889.8" y1="291.25" x2="898.8" y2="291.25" stroke="#000" stroke-width="2" stroke-linecap="butt"/>
<rect x="889.9" y="258.85" width="8.8" height="8.8" fill="#000"/>
<line x1="954.4" y1="258" x2="954.4" y2="321.25" stroke="#000" stroke-width="2" stroke-linecap="butt"/>
<line x1="949.9" y1="258" x2="958.9" y2="258" stroke="#000" stroke-width="2" stroke-linecap="butt"/>
<line x1="949.9" y1="321.25" x2="958.9" y2="321.25" stroke="#000" stroke-width="2" stroke-linecap="butt"/>
<rect x="950.0" y="285.6" width="8.8" height="8.8" fill="#000"/>
<polyline points="714.0,468.5 774.1,158.0 834.2,137.0 894.3,158.0 954.4,165.0" fill="none" stroke="#0C9BFA" stroke-width="2.4" stroke-linejoin="round"/>
<rect x="710.0" y="464.5" width="8" height="8" fill="#6495ED"/>
<line x1="774.1" y1="137" x2="774.1" y2="178" stroke="#6495ED" stroke-width="2" stroke-linecap="butt"/>
<line x1="769.6" y1="137" x2="778.6" y2="137" stroke="#6495ED" stroke-width="2" stroke-linecap="butt"/>
<line x1="769.6" y1="178" x2="778.6" y2="178" stroke="#6495ED" stroke-width="2" stroke-linecap="butt"/>
<circle cx="774.1" cy="158" r="4.6" fill="#6495ED"/>
<line x1="834.2" y1="105.75" x2="834.2" y2="167.5" stroke="#6495ED" stroke-width="2" stroke-linecap="butt"/>
<line x1="829.7" y1="105.75" x2="838.7" y2="105.75" stroke="#6495ED" stroke-width="2" stroke-linecap="butt"/>
<line x1="829.7" y1="167.5" x2="838.7" y2="167.5" stroke="#6495ED" stroke-width="2" stroke-linecap="butt"/>
<circle cx="834.2" cy="137" r="4.6" fill="#6495ED"/>
<line x1="894.3" y1="126.25" x2="894.3" y2="189.25" stroke="#6495ED" stroke-width="2" stroke-linecap="butt"/>
<line x1="889.8" y1="126.25" x2="898.8" y2="126.25" stroke="#6495ED" stroke-width="2" stroke-linecap="butt"/>
<line x1="889.8" y1="189.25" x2="898.8" y2="189.25" stroke="#6495ED" stroke-width="2" stroke-linecap="butt"/>
<circle cx="894.3" cy="158" r="4.6" fill="#6495ED"/>
<line x1="954.4" y1="130" x2="954.4" y2="199.25" stroke="#6495ED" stroke-width="2" stroke-linecap="butt"/>
<line x1="949.9" y1="130" x2="958.9" y2="130" stroke="#6495ED" stroke-width="2" stroke-linecap="butt"/>
<line x1="949.9" y1="199.25" x2="958.9" y2="199.25" stroke="#6495ED" stroke-width="2" stroke-linecap="butt"/>
<circle cx="954.4" cy="165" r="4.6" fill="#6495ED"/>
<text x="773.75" y="118.75" font-size="30" text-anchor="middle" fill="#000" font-family='"Liberation Serif", serif'>*</text>
<text x="836.5" y="99.7" font-size="30" text-anchor="middle" fill="#000" font-family='"Liberation Serif", serif'>**</text>
<text x="897" y="115" font-size="30" text-anchor="middle" fill="#000" font-family='"Liberation Serif", serif'>**</text>
<text x="955" y="118.1" font-size="30" text-anchor="middle" fill="#000" font-family='"Liberation Serif", serif'>***</text>
<text x="999.4" y="46.5" font-size="64" text-anchor="start" font-weight="bold" fill="#000" font-family='"Liberation Sans", sans-serif'>c</text>
<polyline points="1141,43.5 1141,515 1440.5,515" fill="none" stroke="#000" stroke-width="2"/>
<line x1="1132" y1="482.0" x2="1141" y2="482.0" stroke="#000" stroke-width="2" stroke-linecap="butt"/>
<text transform="translate(1124.7 490.8) scale(0.94 1)" font-size="31.5" text-anchor="end" fill="#000" font-family='"Liberation Sans", sans-serif'>120</text>
<line x1="1132" y1="347.0" x2="1141" y2="347.0" stroke="#000" stroke-width="2" stroke-linecap="butt"/>
<text transform="translate(1124.7 355.8) scale(0.94 1)" font-size="31.5" text-anchor="end" fill="#000" font-family='"Liberation Sans", sans-serif'>140</text>
<line x1="1132" y1="212.0" x2="1141" y2="212.0" stroke="#000" stroke-width="2" stroke-linecap="butt"/>
<text transform="translate(1124.7 220.8) scale(0.94 1)" font-size="31.5" text-anchor="end" fill="#000" font-family='"Liberation Sans", sans-serif'>160</text>
<line x1="1132" y1="77.0" x2="1141" y2="77.0" stroke="#000" stroke-width="2" stroke-linecap="butt"/>
<text transform="translate(1124.7 85.8) scale(0.94 1)" font-size="31.5" text-anchor="end" fill="#000" font-family='"Liberation Sans", sans-serif'>180</text>
<line x1="1168.0" y1="515" x2="1168.0" y2="524" stroke="#000" stroke-width="2" stroke-linecap="butt"/>
<text transform="translate(1168.0 555.5) scale(0.94 1)" font-size="31.5" text-anchor="middle" fill="#000" font-family='"Liberation Sans", sans-serif'>5</text>
<line x1="1195.305" y1="515" x2="1195.305" y2="524" stroke="#000" stroke-width="2" stroke-linecap="butt"/>
<text transform="translate(1195.605 555.5) scale(0.94 1)" font-size="31.5" text-anchor="middle" fill="#000" font-family='"Liberation Sans", sans-serif'>10</text>
<line x1="1249.915" y1="515" x2="1249.915" y2="524" stroke="#000" stroke-width="2" stroke-linecap="butt"/>
<text transform="translate(1249.915 555.5) scale(0.94 1)" font-size="31.5" text-anchor="middle" fill="#000" font-family='"Liberation Sans", sans-serif'>20</text>
<line x1="1413.745" y1="515" x2="1413.745" y2="524" stroke="#000" stroke-width="2" stroke-linecap="butt"/>
<text transform="translate(1413.745 555.5) scale(0.94 1)" font-size="31.5" text-anchor="middle" fill="#000" font-family='"Liberation Sans", sans-serif'>50</text>
<text x="1272.5" y="593" font-size="40" text-anchor="middle" fill="#000" font-family='"Liberation Sans", sans-serif'>Stimulation Freq (Hz)</text>
<text x="1058.5" y="294" font-size="40" text-anchor="middle" fill="#000" font-family='"Liberation Sans", sans-serif' transform="rotate(-90 1058.5 294)">P2/P1</text>
<text x="1328.7" y="102.5" font-size="41.5" text-anchor="start" fill="#6497FA" font-family='"Liberation Sans", sans-serif'>KO</text>
<text x="1324.6" y="322.5" font-size="40.4" text-anchor="start" fill="#000" font-family='"Liberation Sans", sans-serif'>WT</text>
<polyline points="1168.0,476.0 1195.3,318.0 1249.9,282.5 1413.7,260.8" fill="none" stroke="#000" stroke-width="2.2" stroke-linejoin="round"/>
<line x1="1168.0" y1="463.75" x2="1168.0" y2="490" stroke="#000" stroke-width="2.2" stroke-linecap="butt"/>
<line x1="1163.5" y1="463.75" x2="1172.5" y2="463.75" stroke="#000" stroke-width="2.2" stroke-linecap="butt"/>
<line x1="1163.5" y1="490" x2="1172.5" y2="490" stroke="#000" stroke-width="2.2" stroke-linecap="butt"/>
<line x1="1195.305" y1="292" x2="1195.305" y2="343" stroke="#000" stroke-width="2.2" stroke-linecap="butt"/>
<line x1="1190.805" y1="292" x2="1199.805" y2="292" stroke="#000" stroke-width="2.2" stroke-linecap="butt"/>
<line x1="1190.805" y1="343" x2="1199.805" y2="343" stroke="#000" stroke-width="2.2" stroke-linecap="butt"/>
<line x1="1249.915" y1="263" x2="1249.915" y2="302.5" stroke="#000" stroke-width="2.2" stroke-linecap="butt"/>
<line x1="1245.415" y1="263" x2="1254.415" y2="263" stroke="#000" stroke-width="2.2" stroke-linecap="butt"/>
<line x1="1245.415" y1="302.5" x2="1254.415" y2="302.5" stroke="#000" stroke-width="2.2" stroke-linecap="butt"/>
<line x1="1413.745" y1="233.75" x2="1413.745" y2="288.25" stroke="#000" stroke-width="2.2" stroke-linecap="butt"/>
<line x1="1409.245" y1="233.75" x2="1418.245" y2="233.75" stroke="#000" stroke-width="2.2" stroke-linecap="butt"/>
<line x1="1409.245" y1="288.25" x2="1418.245" y2="288.25" stroke="#000" stroke-width="2.2" stroke-linecap="butt"/>
<polyline points="1168.0,388.8 1195.3,253.8 1249.9,172.5 1413.7,103.8" fill="none" stroke="#5A94EC" stroke-width="2.1" stroke-linejoin="round"/>
<line x1="1168.0" y1="368.75" x2="1168.0" y2="408.75" stroke="#5A94EC" stroke-width="2.1" stroke-linecap="butt"/>
<line x1="1163.5" y1="368.75" x2="1172.5" y2="368.75" stroke="#5A94EC" stroke-width="2.1" stroke-linecap="butt"/>
<line x1="1163.5" y1="408.75" x2="1172.5" y2="408.75" stroke="#5A94EC" stroke-width="2.1" stroke-linecap="butt"/>
<line x1="1195.305" y1="233" x2="1195.305" y2="274.5" stroke="#5A94EC" stroke-width="2.1" stroke-linecap="butt"/>
<line x1="1190.805" y1="233" x2="1199.805" y2="233" stroke="#5A94EC" stroke-width="2.1" stroke-linecap="butt"/>
<line x1="1190.805" y1="274.5" x2="1199.805" y2="274.5" stroke="#5A94EC" stroke-width="2.1" stroke-linecap="butt"/>
<line x1="1249.915" y1="142.75" x2="1249.915" y2="203.5" stroke="#5A94EC" stroke-width="2.1" stroke-linecap="butt"/>
<line x1="1245.415" y1="142.75" x2="1254.415" y2="142.75" stroke="#5A94EC" stroke-width="2.1" stroke-linecap="butt"/>
<line x1="1245.415" y1="203.5" x2="1254.415" y2="203.5" stroke="#5A94EC" stroke-width="2.1" stroke-linecap="butt"/>
<line x1="1413.745" y1="72.5" x2="1413.745" y2="135" stroke="#5A94EC" stroke-width="2.1" stroke-linecap="butt"/>
<line x1="1409.245" y1="72.5" x2="1418.245" y2="72.5" stroke="#5A94EC" stroke-width="2.1" stroke-linecap="butt"/>
<line x1="1409.245" y1="135" x2="1418.245" y2="135" stroke="#5A94EC" stroke-width="2.1" stroke-linecap="butt"/>
<text x="1164.3" y="145.4" font-size="26.5" text-anchor="middle" fill="#000" font-family='"Liberation Serif", serif'>**</text>
<text x="1185.75" y="103.4" font-size="26.5" text-anchor="middle" fill="#000" font-family='"Liberation Serif", serif'>*</text>
<text x="1245.5" y="71.9" font-size="26.5" text-anchor="middle" fill="#000" font-family='"Liberation Serif", serif'>**</text>
<text x="1414.8" y="62.7" font-size="26.5" text-anchor="middle" fill="#000" font-family='"Liberation Serif", serif'>***</text>
<text x="1466.4" y="46" font-size="64" text-anchor="start" font-weight="bold" fill="#000" font-family='"Liberation Sans", sans-serif'>d</text>
<line x1="1618.8" y1="27.5" x2="1618.8" y2="503" stroke="#000" stroke-width="2"/>
<line x1="1609.3" y1="502" x2="1961.7" y2="502" stroke="#000" stroke-width="2"/>
<line x1="1609.3" y1="390.65000000000003" x2="1618.8" y2="390.65000000000003" stroke="#000" stroke-width="2" stroke-linecap="butt"/>
<line x1="1609.3" y1="279.29999999999995" x2="1618.8" y2="279.29999999999995" stroke="#000" stroke-width="2" stroke-linecap="butt"/>
<line x1="1609.3" y1="167.95" x2="1618.8" y2="167.95" stroke="#000" stroke-width="2" stroke-linecap="butt"/>
<line x1="1609.3" y1="56.60000000000002" x2="1618.8" y2="56.60000000000002" stroke="#000" stroke-width="2" stroke-linecap="butt"/>
<text transform="translate(1602.7 510.8) scale(0.94 1)" font-size="31.5" text-anchor="end" fill="#000" font-family='"Liberation Sans", sans-serif'>0.2</text>
<text transform="translate(1602.7 399.45000000000005) scale(0.94 1)" font-size="31.5" text-anchor="end" fill="#000" font-family='"Liberation Sans", sans-serif'>0.3</text>
<text transform="translate(1602.7 288.09999999999997) scale(0.94 1)" font-size="31.5" text-anchor="end" fill="#000" font-family='"Liberation Sans", sans-serif'>0.4</text>
<text transform="translate(1602.7 176.75) scale(0.94 1)" font-size="31.5" text-anchor="end" fill="#000" font-family='"Liberation Sans", sans-serif'>0.5</text>
<text transform="translate(1602.7 65.40000000000002) scale(0.94 1)" font-size="31.5" text-anchor="end" fill="#000" font-family='"Liberation Sans", sans-serif'>0.6</text>
<line x1="1649.6" y1="502" x2="1649.6" y2="511.2" stroke="#000" stroke-width="2" stroke-linecap="butt"/>
<text transform="translate(1649.6 540.3) scale(0.94 1)" font-size="31.5" text-anchor="middle" fill="#000" font-family='"Liberation Sans", sans-serif'>1</text>
<line x1="1774.7" y1="502" x2="1774.7" y2="511.2" stroke="#000" stroke-width="2" stroke-linecap="butt"/>
<text transform="translate(1774.7 540.3) scale(0.94 1)" font-size="31.5" text-anchor="middle" fill="#000" font-family='"Liberation Sans", sans-serif'>2</text>
<line x1="1899.3" y1="502" x2="1899.3" y2="511.2" stroke="#000" stroke-width="2" stroke-linecap="butt"/>
<text transform="translate(1899.3 540.3) scale(0.94 1)" font-size="31.5" text-anchor="middle" fill="#000" font-family='"Liberation Sans", sans-serif'>3</text>
<text x="1790" y="574.7" font-size="40" text-anchor="middle" fill="#000" font-family='"Liberation Sans", sans-serif'>Norm. stimulation intensity</text>
<text x="1550" y="264.5" font-size="40" text-anchor="middle" fill="#000" font-family='"Liberation Sans", sans-serif' transform="rotate(-90 1550 264.5)">fEPSP amplitude (mV)</text>
<line x1="1649.5" y1="392.8" x2="1649.5" y2="438.6" stroke="#000" stroke-width="2" stroke-linecap="butt"/>
<line x1="1644.75" y1="392.8" x2="1654.25" y2="392.8" stroke="#000" stroke-width="2" stroke-linecap="butt"/>
<line x1="1644.75" y1="438.6" x2="1654.25" y2="438.6" stroke="#000" stroke-width="2" stroke-linecap="butt"/>
<rect x="1642.8" y="409.0" width="13.4" height="13.4" fill="#000"/>
<line x1="1704.2" y1="359.2" x2="1704.2" y2="393.6" stroke="#000" stroke-width="2" stroke-linecap="butt"/>
<line x1="1699.45" y1="359.2" x2="1708.95" y2="359.2" stroke="#000" stroke-width="2" stroke-linecap="butt"/>
<line x1="1699.45" y1="393.6" x2="1708.95" y2="393.6" stroke="#000" stroke-width="2" stroke-linecap="butt"/>
<rect x="1697.5" y="372.7" width="13.4" height="13.4" fill="#000"/>
<line x1="1761" y1="324" x2="1761" y2="356.5" stroke="#000" stroke-width="2" stroke-linecap="butt"/>
<line x1="1756.25" y1="324" x2="1765.75" y2="324" stroke="#000" stroke-width="2" stroke-linecap="butt"/>
<line x1="1756.25" y1="356.5" x2="1765.75" y2="356.5" stroke="#000" stroke-width="2" stroke-linecap="butt"/>
<rect x="1754.3" y="333.7" width="13.4" height="13.4" fill="#000"/>
<line x1="1820" y1="287" x2="1820" y2="319.6" stroke="#000" stroke-width="2" stroke-linecap="butt"/>
<line x1="1815.25" y1="287" x2="1824.75" y2="287" stroke="#000" stroke-width="2" stroke-linecap="butt"/>
<line x1="1815.25" y1="319.6" x2="1824.75" y2="319.6" stroke="#000" stroke-width="2" stroke-linecap="butt"/>
<rect x="1813.3" y="296.6" width="13.4" height="13.4" fill="#000"/>
<line x1="1878.8" y1="243" x2="1878.8" y2="289.8" stroke="#000" stroke-width="2" stroke-linecap="butt"/>
<line x1="1874.05" y1="243" x2="1883.55" y2="243" stroke="#000" stroke-width="2" stroke-linecap="butt"/>
<line x1="1874.05" y1="289.8" x2="1883.55" y2="289.8" stroke="#000" stroke-width="2" stroke-linecap="butt"/>
<rect x="1872.1" y="260.3" width="13.4" height="13.4" fill="#000"/>
<line x1="1944.7" y1="172.5" x2="1944.7" y2="230.9" stroke="#000" stroke-width="2" stroke-linecap="butt"/>
<line x1="1939.95" y1="172.5" x2="1949.45" y2="172.5" stroke="#000" stroke-width="2" stroke-linecap="butt"/>
<line x1="1939.95" y1="230.9" x2="1949.45" y2="230.9" stroke="#000" stroke-width="2" stroke-linecap="butt"/>
<rect x="1938.0" y="195.70000000000002" width="13.4" height="13.4" fill="#000"/>
<line x1="1649.5" y1="399.6" x2="1649.5" y2="465" stroke="#0C9BFA" stroke-width="2" stroke-linecap="butt"/>
<line x1="1644.75" y1="399.6" x2="1654.25" y2="399.6" stroke="#0C9BFA" stroke-width="2" stroke-linecap="butt"/>
<line x1="1644.75" y1="465" x2="1654.25" y2="465" stroke="#0C9BFA" stroke-width="2" stroke-linecap="butt"/>
<rect x="1642.8" y="425.7" width="13.4" height="13.4" fill="#6495ED"/>
<line x1="1704.2" y1="331.5" x2="1704.2" y2="414.4" stroke="#0C9BFA" stroke-width="2" stroke-linecap="butt"/>
<line x1="1699.45" y1="331.5" x2="1708.95" y2="331.5" stroke="#0C9BFA" stroke-width="2" stroke-linecap="butt"/>
<line x1="1699.45" y1="414.4" x2="1708.95" y2="414.4" stroke="#0C9BFA" stroke-width="2" stroke-linecap="butt"/>
<rect x="1697.5" y="366.5" width="13.4" height="13.4" fill="#6495ED"/>
<line x1="1761" y1="281.8" x2="1761" y2="372.1" stroke="#0C9BFA" stroke-width="2" stroke-linecap="butt"/>
<line x1="1756.25" y1="281.8" x2="1765.75" y2="281.8" stroke="#0C9BFA" stroke-width="2" stroke-linecap="butt"/>
<line x1="1756.25" y1="372.1" x2="1765.75" y2="372.1" stroke="#0C9BFA" stroke-width="2" stroke-linecap="butt"/>
<rect x="1754.3" y="320.2" width="13.4" height="13.4" fill="#6495ED"/>
<line x1="1820" y1="236" x2="1820" y2="331" stroke="#0C9BFA" stroke-width="2" stroke-linecap="butt"/>
<line x1="1815.25" y1="236" x2="1824.75" y2="236" stroke="#0C9BFA" stroke-width="2" stroke-linecap="butt"/>
<line x1="1815.25" y1="331" x2="1824.75" y2="331" stroke="#0C9BFA" stroke-width="2" stroke-linecap="butt"/>
<rect x="1813.3" y="276.40000000000003" width="13.4" height="13.4" fill="#6495ED"/>
<line x1="1878.8" y1="156.6" x2="1878.8" y2="278" stroke="#0C9BFA" stroke-width="2" stroke-linecap="butt"/>
<line x1="1874.05" y1="156.6" x2="1883.55" y2="156.6" stroke="#0C9BFA" stroke-width="2" stroke-linecap="butt"/>
<line x1="1874.05" y1="278" x2="1883.55" y2="278" stroke="#0C9BFA" stroke-width="2" stroke-linecap="butt"/>
<rect x="1872.1" y="210.70000000000002" width="13.4" height="13.4" fill="#6495ED"/>
<line x1="1944.7" y1="72.7" x2="1944.7" y2="218" stroke="#0C9BFA" stroke-width="2" stroke-linecap="butt"/>
<line x1="1939.95" y1="72.7" x2="1949.45" y2="72.7" stroke="#0C9BFA" stroke-width="2" stroke-linecap="butt"/>
<line x1="1939.95" y1="218" x2="1949.45" y2="218" stroke="#0C9BFA" stroke-width="2" stroke-linecap="butt"/>
<rect x="1938.0" y="138.60000000000002" width="13.4" height="13.4" fill="#6495ED"/>
<text x="-2.2" y="715.3" font-size="63.3" text-anchor="start" font-weight="bold" fill="#000" font-family='"Liberation Sans", sans-serif'>e</text>
<text x="51.3" y="715" font-size="47.7" text-anchor="start" fill="#000" font-family='"Liberation Sans", sans-serif'>spontaneous mEPSCs</text>
<text x="33.7" y="829" font-size="48.8" text-anchor="start" fill="#000" font-family='"Liberation Sans", sans-serif'>WT</text>
<text x="29.3" y="1011.6" font-size="50.3" text-anchor="start" fill="#6497FA" font-family='"Liberation Sans", sans-serif'>KO</text>
<polygon points="31.7,858.7 32.1,857.8 32.5,860.4 32.9,855.6 33.3,857.3 33.7,857.0 34.1,852.8 34.5,852.0 34.9,854.1 35.3,851.7 35.7,848.9 36.1,856.9 36.5,855.5 36.9,858.0 37.3,853.7 37.7,853.2 38.1,852.7 38.5,856.1 38.9,859.5 39.3,856.3 39.7,857.3 40.1,859.7 40.5,858.4 40.9,858.5 41.3,858.5 41.7,855.7 42.1,856.2 42.5,857.2 42.9,857.4 43.3,856.8 43.7,857.8 44.1,857.8 44.5,860.9 44.9,859.9 45.3,856.8 45.7,857.3 46.1,856.0 46.5,855.9 46.9,857.4 47.3,856.9 47.7,856.7 48.1,858.3 48.5,855.6 48.9,857.8 49.3,858.7 49.7,856.2 50.1,855.4 50.5,853.4 50.9,852.1 51.3,852.7 51.7,855.0 52.1,863.3 52.5,888.1 52.9,922.2 53.3,930.3 53.7,915.1 54.1,909.5 54.5,897.8 54.9,890.1 55.3,883.0 55.7,875.8 56.1,872.5 56.5,868.8 56.9,867.7 57.3,866.2 57.7,862.7 58.1,861.0 58.5,857.0 58.9,855.5 59.3,853.2 59.7,847.3 60.1,849.6 60.5,853.2 60.9,850.1 61.3,845.0 61.7,847.2 62.1,846.7 62.5,845.3 62.9,846.7 63.3,845.8 63.7,848.6 64.1,849.4 64.5,845.2 64.9,849.0 65.3,850.5 65.7,849.7 66.1,848.3 66.5,847.9 66.9,848.6 67.3,847.0 67.7,848.9 68.1,845.0 68.5,850.7 68.9,844.8 69.3,847.7 69.7,848.0 70.1,849.9 70.5,850.9 70.9,850.6 71.3,850.5 71.7,852.7 72.1,850.3 72.5,851.2 72.9,851.3 73.3,851.5 73.7,849.3 74.1,850.9 74.5,849.4 74.9,852.9 75.3,852.3 75.7,851.3 76.1,854.1 76.5,852.3 76.9,852.5 77.3,851.4 77.7,853.4 78.1,851.2 78.5,852.6 78.9,853.0 79.3,853.9 79.7,854.3 80.1,851.8 80.5,853.2 80.9,853.4 81.3,851.6 81.7,849.8 82.1,852.6 82.5,849.9 82.9,846.3 83.3,851.1 83.7,849.2 84.1,852.3 84.5,853.1 84.9,852.6 85.3,854.8 85.7,852.8 86.1,851.1 86.5,851.2 86.9,849.9 87.3,850.5 87.7,852.2 88.1,851.4 88.5,852.3 88.9,854.5 89.3,852.6 89.7,853.1 90.1,852.9 90.5,851.1 90.9,853.3 91.3,854.9 91.7,855.6 92.1,856.0 92.5,857.4 92.9,858.0 93.3,857.6 93.7,856.1 94.1,852.9 94.5,856.8 94.9,853.0 95.3,852.5 95.7,855.4 96.1,856.1 96.5,852.1 96.9,853.7 97.3,853.2 97.7,855.0 98.1,855.3 98.5,853.6 98.9,849.9 99.3,851.1 99.7,851.9 100.1,854.7 100.5,849.6 100.9,846.4 101.3,848.8 101.7,847.6 102.1,847.3 102.5,848.9 102.9,847.5 103.3,847.9 103.7,848.7 104.1,848.6 104.5,848.5 104.9,848.3 105.3,846.2 105.7,845.7 106.1,845.6 106.5,849.1 106.9,846.7 107.3,847.5 107.7,843.6 108.1,845.4 108.5,844.8 108.9,845.2 109.3,844.7 109.7,841.4 110.1,843.1 110.5,844.3 110.9,844.6 111.3,843.2 111.7,842.1 112.1,846.1 112.5,843.5 112.9,840.0 113.3,842.7 113.7,843.5 114.1,842.4 114.5,844.8 114.9,846.8 115.3,843.3 115.7,845.6 116.1,843.8 116.5,846.9 116.9,844.7 117.3,842.7 117.7,843.6 118.1,845.0 118.5,845.8 118.9,843.2 119.3,840.7 119.7,843.0 120.1,841.8 120.5,843.4 120.9,839.5 121.3,842.8 121.7,841.5 122.1,843.4 122.5,839.7 122.9,841.3 123.3,841.5 123.7,843.4 124.1,842.2 124.5,843.9 124.9,840.4 125.3,841.3 125.7,841.8 126.1,843.4 126.5,841.4 126.9,841.2 127.3,841.8 127.7,843.0 128.1,841.8 128.5,839.0 128.9,838.6 129.3,842.9 129.7,837.8 130.1,837.8 130.5,840.5 130.9,838.0 131.3,835.9 131.7,841.1 132.1,842.7 132.5,843.2 132.9,840.1 133.3,840.6 133.7,839.4 134.1,837.6 134.5,841.2 134.9,837.7 135.3,839.2 135.7,842.8 136.1,841.8 136.5,840.5 136.9,840.6 137.3,839.6 137.7,838.2 138.1,843.2 138.5,841.5 138.9,844.1 139.3,839.3 139.7,845.8 140.1,843.8 140.5,844.5 140.9,839.8 141.3,845.2 141.7,845.8 142.1,845.2 142.5,841.5 142.9,844.2 143.3,844.3 143.7,843.9 144.1,846.7 144.5,847.0 144.9,841.7 145.3,844.6 145.7,841.6 146.1,844.7 146.5,844.4 146.9,846.0 147.3,840.6 147.7,844.1 148.1,843.5 148.5,842.1 148.9,838.9 149.3,839.9 149.7,841.4 150.1,839.6 150.5,841.1 150.9,839.2 151.3,843.6 151.7,842.9 152.1,845.3 152.5,844.6 152.9,844.6 153.3,842.4 153.7,842.5 154.1,845.2 154.5,843.9 154.9,847.5 155.3,845.4 155.7,845.8 156.1,847.8 156.5,847.5 156.9,844.0 157.3,847.7 157.7,845.4 158.1,845.8 158.5,842.9 158.9,842.3 159.3,844.0 159.7,840.0 160.1,841.2 160.5,847.4 160.9,847.3 161.3,839.7 161.7,844.7 162.1,845.2 162.5,842.4 162.9,840.2 163.3,838.4 163.7,840.0 164.1,842.4 164.5,839.4 164.9,840.6 165.3,840.6 165.7,845.3 166.1,843.4 166.5,844.9 166.9,846.7 167.3,843.2 167.7,839.4 168.1,841.8 168.5,846.6 168.9,847.2 169.3,843.8 169.7,844.0 170.1,843.2 170.5,837.9 170.9,839.2 171.3,840.6 171.7,839.6 172.1,841.1 172.5,844.5 172.9,843.6 173.3,843.8 173.7,844.6 174.1,842.9 174.5,846.4 174.9,842.1 175.3,844.3 175.7,847.6 176.1,849.1 176.5,850.1 176.9,848.8 177.3,846.4 177.7,849.8 178.1,849.7 178.5,847.4 178.9,846.4 179.3,846.5 179.7,845.0 180.1,842.8 180.5,845.8 180.9,844.0 181.3,843.5 181.7,844.3 182.1,843.5 182.5,845.1 182.9,845.2 183.3,846.0 183.7,846.1 184.1,844.7 184.5,847.7 184.9,844.8 185.3,846.0 185.7,850.5 186.1,849.3 186.5,850.0 186.9,850.7 187.3,848.8 187.7,852.4 188.1,848.4 188.5,848.1 188.9,847.8 189.3,845.3 189.7,849.9 190.1,848.6 190.5,847.2 190.9,846.8 191.3,847.0 191.7,847.1 192.1,851.0 192.5,849.0 192.9,847.5 193.3,850.8 193.7,846.3 194.1,850.1 194.5,850.4 194.9,850.8 195.3,848.7 195.7,848.1 196.1,851.3 196.5,850.3 196.9,845.2 197.3,846.6 197.7,843.5 198.1,846.1 198.5,847.7 198.9,849.4 199.3,849.9 199.7,850.8 200.1,850.5 200.5,851.4 200.9,861.6 201.3,892.1 201.7,904.5 202.1,893.1 202.5,884.4 202.9,878.0 203.3,871.9 203.7,867.4 204.1,867.9 204.5,863.4 204.9,860.9 205.3,855.4 205.7,856.7 206.1,848.8 206.5,853.9 206.9,852.5 207.3,851.8 207.7,847.6 208.1,851.4 208.5,850.5 208.9,852.5 209.3,851.0 209.7,851.7 210.1,852.9 210.5,849.8 210.9,848.5 211.3,849.6 211.7,851.9 212.1,851.4 212.5,852.2 212.9,854.0 213.3,852.7 213.7,852.1 214.1,851.1 214.5,849.8 214.9,848.9 215.3,847.7 215.7,853.2 216.1,853.4 216.5,853.9 216.9,855.1 217.3,853.2 217.7,853.8 218.1,852.1 218.5,852.0 218.9,853.0 219.3,849.7 219.7,850.5 220.1,849.2 220.5,851.9 220.9,852.3 221.3,854.9 221.7,856.1 222.1,855.2 222.5,854.0 222.9,854.7 223.3,852.7 223.7,849.9 224.1,852.4 224.5,854.1 224.9,851.6 225.3,854.2 225.7,854.1 226.1,854.0 226.5,853.3 226.9,854.4 227.3,854.4 227.7,854.1 228.1,856.3 228.5,855.7 228.9,855.0 229.3,854.6 229.7,853.1 230.1,849.7 230.5,853.0 230.9,853.5 231.3,856.1 231.7,854.2 232.1,857.0 232.5,854.9 232.9,852.6 233.3,854.6 233.7,855.0 234.1,856.8 234.5,851.1 234.9,854.2 235.3,853.1 235.7,854.3 236.1,851.4 236.5,851.0 236.9,849.5 237.3,850.5 237.7,851.0 238.1,850.3 238.5,852.1 238.9,851.4 239.3,855.6 239.7,855.4 240.1,860.4 240.5,863.6 240.9,867.6 241.3,867.6 241.7,865.6 242.1,863.4 242.5,859.3 242.9,858.9 243.3,859.8 243.7,858.0 244.1,854.1 244.5,859.1 244.9,857.3 245.3,856.9 245.7,854.9 246.1,855.4 246.5,855.2 246.9,854.9 247.3,855.9 247.7,855.5 248.1,852.3 248.5,850.8 248.9,849.9 249.3,849.6 249.7,851.5 250.1,855.0 250.5,853.7 250.9,852.9 251.3,852.8 251.7,855.1 252.1,852.3 252.5,856.7 252.9,854.2 253.3,857.1 253.7,853.1 254.1,855.4 254.5,857.8 254.9,852.7 255.3,854.6 255.7,853.7 256.1,853.3 256.5,857.8 256.9,854.3 257.3,855.6 257.7,867.8 258.1,894.7 258.5,879.5 258.9,871.7 259.3,864.3 259.7,861.1 260.1,858.4 260.5,858.1 260.9,856.8 261.3,853.4 261.7,854.9 262.1,858.7 262.5,855.6 262.9,850.5 263.3,851.6 263.7,854.2 264.1,851.2 264.5,852.4 264.9,852.4 265.3,857.0 265.7,859.7 266.1,855.0 266.5,857.1 266.9,856.2 267.3,855.1 267.7,856.5 268.1,854.2 268.5,850.7 268.9,855.0 269.3,855.8 269.7,857.3 270.1,854.0 270.5,855.9 270.9,856.8 271.3,853.9 271.7,855.4 272.1,853.4 272.5,856.4 272.9,856.1 273.3,853.3 273.7,856.2 274.1,856.0 274.5,851.7 274.9,852.2 275.3,852.6 275.7,855.2 276.1,856.9 276.5,859.3 276.9,856.3 277.3,856.4 277.7,858.5 278.1,855.0 278.5,853.8 278.9,858.2 279.3,856.7 279.7,858.7 280.1,857.7 280.5,853.9 280.9,854.9 281.3,853.4 281.7,851.3 282.1,851.0 282.5,854.8 282.9,854.5 283.3,854.7 283.7,852.8 284.1,856.9 284.5,856.8 284.9,853.8 285.3,855.0 285.7,855.3 286.1,854.9 286.5,854.3 286.9,852.4 287.3,852.4 287.7,856.3 288.1,857.0 288.5,854.3 288.9,854.2 289.3,855.1 289.7,859.4 290.1,861.6 290.5,858.5 290.9,857.1 291.3,859.0 291.7,858.6 292.1,854.2 292.5,857.4 292.9,857.9 293.3,859.6 293.7,862.3 294.1,859.5 294.5,860.6 294.9,859.0 295.3,855.5 295.7,855.3 296.1,856.0 296.5,857.0 296.9,851.5 297.3,858.8 297.7,855.1 298.1,859.2 298.5,856.6 298.9,855.0 299.3,857.1 299.7,854.5 300.1,855.2 300.5,862.5 300.9,861.9 301.3,856.4 301.7,857.0 302.1,858.5 302.5,861.1 302.9,861.1 303.3,862.0 303.7,861.8 304.1,862.0 304.5,861.2 304.9,859.0 305.3,858.1 305.7,857.2 306.1,860.8 306.5,860.3 306.9,860.8 307.3,857.2 307.7,857.2 308.1,856.9 308.5,857.8 308.9,863.2 309.3,861.5 309.7,861.8 310.1,857.9 310.5,859.5 310.9,859.4 311.3,858.4 311.7,856.7 312.1,855.3 312.5,859.5 312.9,859.4 313.3,860.2 313.7,856.8 314.1,856.7 314.5,859.7 314.9,857.3 315.3,856.2 315.7,860.1 316.1,861.6 316.5,861.9 316.9,858.5 317.3,855.9 317.7,860.8 318.1,862.3 318.5,858.9 318.9,858.9 319.3,858.5 319.7,860.2 320.1,857.8 320.5,857.8 320.9,854.8 321.3,856.9 321.7,854.8 322.1,855.3 322.5,858.8 322.9,860.0 323.3,861.8 323.7,858.2 324.1,859.8 324.5,858.3 324.9,859.4 325.3,855.6 325.7,856.4 326.1,858.5 326.5,858.7 326.9,859.0 327.3,854.9 327.7,856.7 328.1,856.0 328.5,856.1 328.9,855.7 329.3,855.6 329.7,852.6 330.1,856.3 330.5,857.4 330.9,856.9 331.3,857.3 331.7,857.4 332.1,859.3 332.5,859.1 332.9,858.8 333.3,860.6 333.7,859.3 334.1,859.9 334.5,860.1 334.9,868.5 335.3,870.6 335.7,869.0 336.1,863.9 336.5,864.8 336.9,861.3 337.3,855.7 337.7,856.4 338.1,861.2 338.5,856.5 338.9,859.0 339.3,859.0 339.7,862.7 340.1,858.8 340.5,858.8 340.9,858.0 341.3,861.7 341.7,860.5 342.1,858.0 342.5,856.5 342.9,858.1 343.3,858.1 343.7,857.4 344.1,853.6 344.5,860.4 344.9,860.1 345.3,860.1 345.7,858.5 346.1,858.0 346.5,858.8 346.9,858.4 347.3,855.5 347.7,855.6 348.1,859.0 348.5,855.0 348.9,856.0 349.3,859.7 349.7,858.0 350.1,858.9 350.5,858.3 350.9,860.9 351.3,859.7 351.7,856.6 352.1,860.8 352.5,859.5 352.9,854.8 353.3,856.0 353.7,858.2 354.1,859.2 354.5,859.0 354.9,855.9 355.3,858.2 355.7,856.3 356.1,854.9 356.5,856.8 356.9,859.1 357.3,854.2 357.7,858.0 358.1,855.6 358.5,858.6 358.9,858.3 359.3,861.5 359.7,858.6 360.1,856.1 360.5,858.4 360.9,853.5 361.3,859.2 361.7,857.7 362.1,852.6 362.5,859.2 362.9,856.4 363.3,858.3 363.7,858.7 364.1,858.0 364.5,856.5 364.9,854.3 365.3,856.1 365.7,854.4 366.1,855.6 366.5,851.5 366.9,858.8 367.3,859.1 367.7,860.0 368.1,857.5 368.5,856.2 368.9,853.6 369.3,856.5 369.7,853.9 370.1,856.3 370.5,856.4 370.9,857.5 371.3,854.8 371.7,856.1 372.1,856.3 372.5,855.9 372.9,855.0 373.3,855.7 373.7,858.3 374.1,856.9 374.5,856.4 374.9,857.8 375.3,856.6 375.7,859.5 376.1,859.6 376.5,857.7 376.9,858.6 377.3,859.6 377.7,858.3 378.1,857.6 378.5,858.8 378.9,857.6 379.3,857.5 379.7,862.9 380.1,864.2 380.5,861.6 380.9,860.0 381.3,860.8 381.7,860.0 382.1,855.8 382.5,856.1 382.9,860.5 383.3,857.6 383.7,859.9 384.1,856.2 384.5,858.1 384.9,855.6 385.3,856.7 385.7,857.4 386.1,854.1 386.5,855.5 386.9,851.9 387.3,850.7 387.7,854.7 388.1,854.0 388.5,852.2 388.9,853.8 389.3,856.0 389.7,854.4 390.1,852.1 390.5,852.8 390.9,853.7 391.3,853.5 391.7,856.5 392.1,852.0 392.5,855.8 392.9,858.5 393.3,854.3 393.7,852.8 394.1,852.6 394.5,853.8 394.9,854.4 395.3,853.1 395.7,852.2 396.1,855.8 396.5,853.6 396.9,854.7 397.3,856.9 397.7,854.8 398.1,854.4 398.5,853.9 398.9,856.4 399.3,854.7 399.7,855.7 400.1,854.9 400.5,854.4 400.9,854.4 401.3,856.0 401.7,853.2 402.1,855.1 402.5,852.8 402.9,853.3 403.3,853.8 403.7,855.4 404.1,851.8 404.5,849.7 404.9,851.2 405.3,847.0 405.7,851.6 406.1,849.3 406.5,850.6 406.9,848.8 407.3,846.9 407.7,849.3 408.1,848.0 408.5,852.8 408.9,850.0 409.3,850.3 409.7,851.9 410.1,853.8 410.5,849.4 410.9,850.7 411.3,855.6 411.7,877.8 412.1,877.4 412.5,867.9 412.9,864.8 413.3,860.5 413.7,862.2 414.1,859.0 414.5,857.3 414.9,850.4 415.3,853.9 415.7,852.7 416.1,849.4 416.5,852.9 416.9,850.0 417.3,849.1 417.7,850.1 418.1,846.1 418.5,850.6 418.9,851.2 419.3,849.5 419.7,849.4 420.1,850.2 420.5,850.5 420.9,851.4 421.3,851.2 421.7,851.8 422.1,849.0 422.5,850.5 422.9,851.2 423.3,851.2 423.7,845.9 424.1,846.4 424.5,850.4 424.9,854.4 425.3,851.7 425.7,850.5 426.1,850.9 426.5,849.1 426.9,851.1 427.3,850.2 427.7,845.6 428.1,845.9 428.5,849.8 428.9,849.2 429.3,847.3 429.7,843.9 430.1,847.6 430.5,847.2 430.9,847.4 431.3,849.1 431.7,847.0 432.1,851.4 432.5,850.6 432.9,848.5 433.3,848.3 433.7,850.3 434.1,846.4 434.5,851.0 434.9,851.8 435.3,859.4 435.7,858.4 436.1,857.9 436.5,855.9 436.9,859.1 437.3,855.0 437.7,852.4 438.1,853.2 438.5,853.1 438.9,852.6 439.3,848.6 439.7,851.8 440.1,847.7 440.5,850.0 440.9,850.7 441.3,850.3 441.7,849.6 442.1,846.7 442.5,849.8 442.9,846.5 443.3,847.0 443.7,849.7 444.1,845.7 444.5,850.2 444.9,850.4 445.3,849.8 445.7,846.8 446.1,850.1 446.5,850.4 446.9,849.3 447.3,850.1 447.7,850.8 448.1,848.8 448.5,847.5 448.9,846.6 449.3,845.1 449.7,848.3 450.1,848.9 450.5,849.2 450.9,848.6 451.3,850.4 451.7,849.6 452.1,850.0 452.5,849.6 452.9,848.4 453.3,850.2 453.7,853.0 454.1,848.1 454.5,844.2 454.9,846.6 455.3,847.4 455.7,846.5 456.1,846.3 456.5,847.9 456.9,847.6 457.3,845.4 457.7,840.1 458.1,844.6 458.5,848.0 458.9,845.7 459.3,847.8 459.7,847.3 460.1,846.5 460.5,850.1 460.9,848.2 461.3,848.3 461.7,843.4 462.1,845.1 462.5,842.3 462.9,841.9 463.3,845.0 463.7,845.1 464.1,843.9 464.5,845.2 464.9,844.0 465.3,847.2 465.7,844.6 466.1,847.5 466.5,844.0 466.9,844.5 467.3,843.5 467.7,845.6 468.1,845.5 468.5,842.9 468.9,842.1 469.3,844.6 469.7,842.3 470.1,843.4 470.5,841.8 470.9,842.6 471.3,841.5 471.7,840.4 472.1,844.4 472.5,847.0 472.9,843.7 473.3,838.9 473.7,843.4 474.1,842.6 474.5,840.8 474.9,842.6 475.3,842.2 475.7,840.1 476.1,841.7 476.5,837.9 476.9,841.5 477.3,842.2 477.7,842.4 478.1,845.4 478.5,844.7 478.9,845.7 479.3,843.2 479.7,845.0 480.1,845.9 480.5,850.5 480.9,845.8 481.3,848.1 481.7,846.1 482.1,845.1 482.5,844.9 482.9,846.8 483.3,844.2 483.7,843.9 484.1,844.5 484.5,847.1 484.9,842.0 485.3,840.9 485.7,844.3 486.1,842.3 486.5,844.3 486.9,845.0 487.3,845.5 487.7,847.0 488.1,844.4 488.5,843.8 488.9,847.5 489.3,843.3 489.7,846.9 490.1,861.2 490.5,892.8 490.9,904.9 491.3,893.9 491.7,880.8 492.1,872.2 492.5,868.2 492.9,857.0 493.3,857.0 493.7,851.5 494.1,852.8 494.5,849.2 494.9,849.0 495.3,846.0 495.7,846.4 496.1,847.2 496.5,842.9 496.9,846.0 497.3,846.5 497.7,845.2 498.1,844.1 498.5,845.9 498.9,842.2 499.3,847.8 499.7,842.7 500.1,844.2 500.5,845.5 500.9,844.2 501.3,839.4 501.7,841.1 502.1,840.6 502.5,838.6 502.9,839.5 503.3,842.2 503.7,838.2 504.1,839.5 504.5,839.4 504.9,841.5 505.3,842.3 505.7,841.8 506.1,846.3 506.5,844.3 506.9,845.5 507.3,844.6 507.7,845.0 508.1,844.5 508.5,838.4 508.9,838.6 509.3,836.0 509.7,839.3 510.1,842.0 510.5,840.8 510.9,842.4 511.3,838.5 511.7,841.2 512.1,839.9 512.5,841.5 512.9,841.8 513.3,841.9 513.7,846.1 514.1,849.2 514.5,849.0 514.9,842.5 515.3,843.5 515.7,841.6 516.1,837.9 516.5,842.3 516.9,836.4 517.3,837.8 517.7,840.4 518.1,838.4 518.5,840.8 518.9,837.7 519.3,842.2 519.7,841.4 520.1,840.5 520.5,841.0 520.9,841.6 521.3,845.7 521.7,844.5 522.1,843.9 522.5,845.2 522.9,847.2 523.3,846.8 523.7,846.5 524.1,844.1 524.5,843.9 524.9,843.4 525.3,845.9 525.7,844.8 526.1,848.7 526.5,845.8 526.9,848.0 527.3,848.6 527.7,848.4 528.1,846.7 528.5,850.0 528.9,847.2 529.3,847.9 529.7,844.1 530.1,846.8 530.5,844.0 530.9,843.3 531.3,848.5 531.7,849.8 532.1,849.0 532.5,848.6 532.9,841.7 533.3,846.5 533.7,846.4 534.1,848.0 534.5,846.2 534.9,847.5 535.3,849.3 535.7,851.9 536.1,850.0 536.5,849.4 536.9,851.1 537.3,846.0 537.7,850.6 538.1,851.6 538.5,850.3 538.9,850.6 539.3,850.0 539.7,850.8 540.1,853.9 540.5,851.2 540.9,849.7 541.3,850.7 541.7,852.8 542.1,854.9 542.5,854.7 542.9,851.3 543.3,855.2 543.7,852.3 544.1,855.4 544.5,852.1 544.9,851.5 545.3,852.6 545.7,855.0 546.1,855.2 546.5,854.9 546.9,853.7 547.3,855.1 547.7,853.0 548.1,853.2 548.5,852.7 548.9,852.3 549.3,852.9 549.7,853.4 550.1,849.2 550.5,847.4 550.9,853.8 551.3,851.6 551.7,854.5 552.1,856.8 552.5,850.6 552.9,854.0 553.3,855.2 553.7,850.9 554.1,853.7 554.5,851.5 554.9,852.8 555.3,853.3 555.7,854.2 556.1,853.2 556.5,856.8 556.9,854.8 557.3,852.2 557.7,851.8 558.1,852.9 558.5,852.2 558.9,852.1 559.3,849.9 559.7,849.9 560.1,852.6 560.5,850.5 560.9,851.5 561.3,848.7 561.7,852.9 562.1,851.1 562.5,853.7 562.9,852.3 563.3,850.4 563.7,849.7 564.1,852.1 564.5,853.6 564.9,852.6 565.3,851.5 565.7,852.9 566.1,851.7 566.5,854.4 566.9,854.6 567.3,853.0 567.7,853.1 568.1,852.8 568.5,853.5 568.9,852.3 569.3,852.9 569.7,853.7 570.1,851.4 570.5,850.1 570.9,851.9 571.3,854.3 571.7,852.6 572.1,847.2 572.5,854.1 572.9,851.5 573.3,851.0 573.7,850.3 574.1,850.7 574.5,853.8 574.9,848.7 575.3,853.8 575.7,850.2 576.1,849.0 576.5,851.7 576.9,851.5 577.3,849.1 577.7,852.8 578.1,857.9 578.5,851.5 578.9,852.5 579.3,853.2 579.7,853.6 580.1,852.7 580.5,854.9 580.9,853.9 581.3,852.6 581.7,853.8 582.1,848.4 582.5,851.3 582.9,848.5 583.3,848.0 583.7,848.0 584.1,851.7 584.5,850.2 584.9,847.2 585.3,852.5 585.7,847.9 586.1,848.5 586.5,850.6 586.9,850.7 587.3,849.2 587.7,847.1 588.1,848.1 588.5,846.6 588.9,848.4 589.3,848.1 589.7,851.5 590.1,847.4 590.5,848.6 590.9,851.0 591.3,849.4 591.7,849.8 592.1,849.1 592.5,849.3 592.9,850.6 593.3,851.8 593.7,849.9 594.1,848.2 594.5,847.1 594.9,849.0 595.3,848.4 595.7,849.9 596.1,849.6 596.5,849.4 596.9,847.4 597.3,850.6 597.7,850.9 598.1,851.0 598.5,849.3 598.9,850.1 599.3,846.8 599.7,851.0 600.1,848.7 600.5,845.7 600.9,849.8 601.3,848.6 601.7,844.4 602.1,845.8 602.5,846.4 602.9,846.5 603.3,846.0 603.7,847.8 604.1,848.8 604.5,847.8 604.9,846.0 605.3,848.4 605.7,846.9 606.1,849.4 606.5,844.8 606.9,845.2 607.3,847.5 607.7,845.8 608.1,846.6 608.5,845.1 608.9,851.1 609.3,848.3 609.7,850.6 610.1,848.7 610.5,849.7 610.9,848.4 611.3,846.9 611.7,847.4 612.1,845.7 612.5,851.1 612.9,846.6 613.3,848.2 613.7,849.2 614.1,848.5 614.5,847.8 614.9,846.3 615.3,846.2 615.7,847.6 616.1,850.4 616.5,849.4 616.9,845.9 617.3,844.7 617.7,843.3 618.1,840.8 618.5,842.9 618.9,844.8 619.3,843.5 619.7,844.8 620.1,845.3 620.5,844.9 620.9,844.6 621.3,848.4 621.7,848.9 622.1,849.3 622.5,850.4 622.9,845.7 623.3,846.7 623.7,848.3 624.1,845.4 624.5,845.5 624.9,847.9 625.3,847.5 625.7,849.9 626.1,851.5 626.5,848.4 626.9,846.7 627.3,847.5 627.7,844.3 628.1,844.9 628.5,847.3 628.9,847.7 629.3,846.8 629.7,847.7 630.1,849.1 630.5,847.0 630.9,854.8 631.3,864.7 631.7,873.9 632.1,871.5 632.5,869.0 632.9,866.3 633.3,862.7 633.7,860.9 634.1,856.2 634.5,856.4 634.9,855.3 635.3,855.1 635.7,854.3 636.1,852.9 636.5,847.9 636.9,848.2 637.3,848.9 637.7,847.7 638.1,848.0 638.5,846.6 638.9,848.2 639.3,846.3 639.7,850.3 640.1,848.4 640.5,846.4 640.9,845.4 641.3,845.5 641.7,841.8 642.1,846.0 642.5,849.5 642.9,849.8 643.3,847.9 643.7,849.2 644.1,847.9 644.5,845.5 644.9,846.3 645.3,846.8 645.7,846.2 646.1,845.4 646.5,849.7 646.9,851.1 647.3,850.6 647.7,852.4 648.1,849.1 648.5,849.9 648.9,845.4 649.3,846.6 649.7,843.7 650.1,845.9 650.5,845.2 650.9,845.6 651.3,846.5 651.7,849.2 652.1,845.5 652.5,848.6 652.9,850.7 653.3,847.7 653.7,844.5 654.1,846.1 654.5,848.0 654.9,846.0 655.3,848.1 655.7,845.7 656.1,847.7 656.5,847.6 656.9,848.3 657.3,848.2 657.7,848.9 658.1,844.2 658.5,850.2 658.9,848.1 659.3,846.8 659.7,849.7 660.1,851.0 660.5,846.8 660.9,847.4 661.3,846.8 661.7,847.2 662.1,845.2 662.5,844.3 662.9,842.2 663.3,848.6 663.7,850.5 664.1,848.4 664.5,849.4 664.9,848.4 665.3,844.9 665.7,847.7 666.1,851.8 666.5,849.0 666.9,849.1 667.3,850.9 667.7,851.4 668.1,851.6 668.5,852.1 668.9,851.7 669.3,849.1 669.7,849.9 670.1,851.0 670.5,847.8 670.9,851.9 671.3,850.7 671.7,852.6 672.1,851.9 672.5,849.3 672.9,850.1 673.3,850.6 673.7,850.0 674.1,845.7 674.5,851.0 674.9,850.8 675.3,849.9 675.7,847.7 676.1,849.0 676.5,851.0 676.9,850.2 677.3,846.3 677.7,848.7 678.1,849.2 678.5,847.4 678.9,846.6 679.3,847.0 679.7,845.7 680.1,844.6 680.5,846.5 680.9,845.8 681.3,849.6 681.7,852.1 682.1,862.7 682.5,858.0 682.9,855.6 683.3,853.6 683.7,854.1 684.1,850.5 684.5,847.6 684.9,849.3 685.3,849.1 685.7,847.6 686.1,850.6 686.5,851.0 686.9,850.2 687.3,853.3 687.7,852.8 688.1,850.7 688.5,849.8 688.9,847.0 689.3,853.9 689.7,848.9 690.1,850.9 690.5,849.6 690.9,847.2 691.3,847.9 691.7,848.2 692.1,845.7 692.5,848.1 692.9,843.9 693.3,845.4 693.7,846.7 694.1,845.8 694.5,845.2 694.9,844.3 695.3,843.4 695.7,846.6 696.1,847.0 696.5,846.5 696.9,846.0 697.3,847.3 697.7,845.8 698.1,845.6 698.5,845.2 698.9,844.2 699.3,841.6 699.7,843.7 700.1,840.6 700.5,843.2 700.9,844.2 701.3,840.3 701.7,840.5 702.1,837.5 702.5,843.3 702.9,843.1 703.3,845.1 703.7,841.8 704.1,841.4 704.5,844.5 704.9,843.7 705.3,844.1 705.7,843.4 706.1,844.3 706.5,846.7 706.9,845.5 707.3,845.1 707.7,843.6 708.1,845.5 708.5,842.7 708.9,845.5 709.3,848.1 709.7,843.0 710.1,842.9 710.5,845.5 710.9,840.1 711.3,844.9 711.7,843.2 712.1,846.0 712.5,844.6 712.9,846.2 713.3,844.3 713.7,841.0 714.1,844.7 714.5,845.0 714.9,839.6 715.3,842.1 715.7,837.0 716.1,840.7 716.5,841.4 716.9,840.9 717.3,844.5 717.7,843.2 718.1,842.8 718.5,842.3 718.9,844.3 719.3,846.9 719.7,843.9 720.1,844.2 720.5,850.7 720.9,847.5 721.3,846.9 721.7,856.9 722.1,868.0 722.5,863.9 722.9,855.5 723.3,853.8 723.7,854.6 724.1,851.5 724.5,848.3 724.9,851.5 725.3,845.9 725.7,844.3 726.1,847.8 726.5,842.9 726.9,839.9 727.3,843.2 727.7,840.8 728.1,842.6 728.5,841.4 728.9,842.4 729.3,842.5 729.7,844.9 730.1,842.8 730.5,843.1 730.9,844.8 731.3,843.1 731.7,842.4 732.1,840.4 732.5,841.4 732.9,842.9 733.3,841.6 733.7,843.2 734.1,840.7 734.5,841.3 734.9,840.3 735.3,836.3 735.7,837.8 736.1,840.3 736.5,839.1 736.9,838.6 737.3,835.0 737.7,840.5 738.1,835.7 738.5,839.3 738.9,840.9 739.3,837.6 739.7,839.4 740.1,838.5 740.5,844.3 740.9,839.9 741.3,842.6 741.7,842.2 742.1,841.9 742.5,842.3 742.9,840.6 743.3,838.0 743.7,835.4 744.1,836.7 744.5,836.8 744.9,839.0 745.3,843.0 745.7,843.2 746.1,840.1 746.5,841.7 746.9,843.7 747.3,843.2 747.7,844.5 748.1,843.6 748.5,843.7 748.9,842.9 749.3,844.7 749.7,845.0 750.1,844.9 750.5,842.2 750.9,841.3 751.3,844.1 751.7,841.8 752.1,839.6 752.5,840.9 752.9,841.6 753.3,839.3 753.7,843.5 754.1,843.8 754.5,847.0 754.9,842.5 755.3,839.4 755.7,844.0 756.1,843.2 756.5,840.3 756.9,842.2 757.3,842.2 757.7,840.9 758.1,838.6 758.5,839.5 758.9,840.3 759.3,841.6 759.7,840.0 760.1,838.5 760.5,841.6 760.9,843.1 761.3,841.2 761.7,839.9 762.1,841.5 762.5,839.8 762.9,840.5 763.3,840.4 763.7,837.5 764.1,841.2 764.5,839.2 764.9,841.0 765.3,839.3 765.7,840.5 766.1,840.4 766.5,841.0 766.9,842.6 767.3,844.9 767.7,844.5 768.1,841.8 768.5,846.0 768.9,845.8 769.3,843.6 769.7,847.1 770.1,847.7 770.5,845.9 770.9,843.7 771.3,845.4 771.7,846.2 772.1,843.3 772.5,845.8 772.9,839.2 773.3,842.8 773.7,841.4 774.1,841.4 774.5,839.7 774.9,841.7 775.3,844.2 775.7,843.9 776.1,841.8 776.5,843.3 776.9,842.0 777.3,840.7 777.7,845.7 778.1,845.3 778.5,846.8 778.9,844.4 779.3,849.6 779.7,849.4 780.1,846.9 780.5,849.0 780.9,847.6 781.3,848.2 781.7,849.5 782.1,848.1 782.5,848.5 782.9,847.7 783.3,849.3 783.7,845.5 784.1,844.8 784.5,846.5 784.9,848.8 785.3,865.3 785.7,886.3 786.1,904.7 786.5,892.1 786.9,879.5 787.3,877.4 787.7,872.6 788.1,867.1 788.5,865.1 788.9,859.4 789.3,859.1 789.7,851.0 790.1,852.0 790.5,849.8 790.9,848.1 791.3,848.1 791.7,850.4 792.1,847.9 792.5,852.2 792.9,845.0 793.3,849.4 793.7,848.9 794.1,847.3 794.5,845.4 794.9,845.0 795.3,844.6 795.7,847.7 796.1,844.9 796.5,849.5 796.9,849.5 797.3,848.8 797.7,848.1 798.1,846.5 798.5,848.9 798.9,848.7 799.3,847.9 799.7,849.1 800.1,850.0 800.5,848.5 800.9,848.5 801.3,847.9 801.7,846.0 802.1,847.9 802.5,848.1 802.9,848.3 803.3,845.6 803.7,848.8 804.1,846.5 804.5,850.4 804.9,846.4 805.3,846.7 805.7,846.1 806.1,847.0 806.5,844.5 806.9,845.2 807.3,844.8 807.7,841.9 808.1,846.4 808.5,845.2 808.9,842.8 809.3,843.6 809.7,842.1 810.1,841.3 810.5,844.0 810.9,841.1 811.3,842.4 811.7,845.0 812.1,843.3 812.5,846.8 812.9,845.1 813.3,841.2 813.7,842.3 814.1,844.0 814.5,843.6 814.9,842.3 815.3,844.9 815.7,842.3 816.1,840.3 816.5,843.2 816.9,842.3 817.3,840.9 817.7,841.2 818.1,838.9 818.5,841.5 818.9,838.7 819.3,839.1 819.7,840.3 820.1,840.2 820.5,840.4 820.9,839.7 821.3,838.7 821.7,841.9 822.1,841.5 822.5,841.0 822.9,841.8 823.3,843.0 823.7,840.6 824.1,839.3 824.5,838.8 824.9,840.7 825.3,841.7 825.7,837.3 826.1,838.1 826.5,840.0 826.9,837.6 827.3,841.6 827.7,841.4 828.1,839.6 828.5,839.1 828.9,841.4 829.3,839.6 829.7,835.2 830.1,835.8 830.5,841.5 830.9,837.8 831.3,839.1 831.7,836.5 832.1,845.8 832.5,862.9 832.9,880.3 833.3,885.8 833.7,873.9 834.1,868.9 834.5,858.5 834.9,859.0 835.3,855.2 835.7,850.4 836.1,851.1 836.5,845.5 836.9,846.9 837.3,848.3 837.7,842.6 838.1,843.1 838.5,842.7 838.9,841.3 839.3,841.5 839.7,841.5 840.1,841.4 840.5,842.9 840.9,840.6 841.3,842.9 841.7,840.3 842.1,837.6 842.5,842.2 842.9,851.0 843.3,847.2 843.7,848.7 844.1,843.9 844.5,841.7 844.9,843.1 845.3,845.5 845.7,844.4 846.1,844.8 846.5,841.5 846.9,841.6 847.3,840.6 847.7,842.1 848.1,847.9 848.5,846.1 848.9,845.0 849.3,844.3 849.7,845.5 850.1,843.9 850.5,842.9 850.9,844.7 851.3,841.7 851.7,843.7 852.1,844.7 852.5,842.5 852.9,843.7 853.3,842.1 853.7,844.0 854.1,842.7 854.5,839.2 854.9,839.9 855.3,841.5 855.7,841.9 856.1,845.8 856.5,843.4 856.9,847.1 857.3,846.8 857.7,845.5 858.1,845.6 858.5,842.2 858.9,845.3 859.3,839.1 859.7,837.9 860.1,838.2 860.5,841.2 860.9,839.2 861.3,843.4 861.7,838.2 862.1,840.1 862.5,845.4 862.9,842.1 863.3,841.3 863.7,837.8 864.1,840.3 864.5,838.7 864.9,837.4 865.3,838.5 865.7,839.9 866.1,842.6 866.5,840.4 866.5,850.5 866.1,850.9 865.7,848.0 865.3,846.4 864.9,845.8 864.5,847.1 864.1,850.0 863.7,850.0 863.3,848.5 862.9,848.2 862.5,852.0 862.1,845.4 861.7,849.8 861.3,853.0 860.9,849.7 860.5,845.0 860.1,845.7 859.7,854.6 859.3,850.2 858.9,854.5 858.5,851.8 858.1,852.5 857.7,852.4 857.3,858.3 856.9,854.9 856.5,854.8 856.1,854.0 855.7,850.1 855.3,852.6 854.9,848.8 854.5,853.0 854.1,850.6 853.7,856.5 853.3,855.4 852.9,854.7 852.5,851.4 852.1,853.0 851.7,851.4 851.3,853.0 850.9,851.9 850.5,851.3 850.1,853.5 849.7,853.4 849.3,855.6 848.9,854.0 848.5,852.9 848.1,854.5 847.7,856.4 847.3,852.3 846.9,847.3 846.5,851.2 846.1,850.2 845.7,850.7 845.3,851.5 844.9,852.2 844.5,851.6 844.1,853.0 843.7,855.2 843.3,862.4 842.9,868.0 842.5,851.8 842.1,846.1 841.7,849.6 841.3,849.4 840.9,852.3 840.5,849.1 840.1,848.8 839.7,850.6 839.3,852.9 838.9,852.6 838.5,849.5 838.1,852.8 837.7,851.0 837.3,854.9 836.9,854.6 836.5,854.1 836.1,858.3 835.7,858.5 835.3,860.5 834.9,866.0 834.5,874.1 834.1,880.2 833.7,885.8 833.3,896.6 832.9,898.6 832.5,881.8 832.1,864.1 831.7,848.5 831.3,846.3 830.9,848.0 830.5,848.3 830.1,844.9 829.7,848.7 829.3,845.5 828.9,848.4 828.5,847.0 828.1,849.6 827.7,845.2 827.3,848.0 826.9,847.2 826.5,847.6 826.1,848.4 825.7,845.2 825.3,848.1 824.9,848.0 824.5,845.4 824.1,850.2 823.7,853.5 823.3,851.1 822.9,846.3 822.5,849.9 822.1,848.6 821.7,847.9 821.3,846.3 820.9,845.2 820.5,849.8 820.1,851.3 819.7,848.3 819.3,846.2 818.9,847.0 818.5,849.4 818.1,847.8 817.7,851.5 817.3,848.2 816.9,849.6 816.5,851.6 816.1,851.0 815.7,852.5 815.3,850.4 814.9,848.7 814.5,849.8 814.1,853.9 813.7,853.1 813.3,853.6 812.9,852.4 812.5,853.2 812.1,855.9 811.7,850.2 811.3,849.9 810.9,851.4 810.5,850.3 810.1,850.9 809.7,852.3 809.3,850.6 808.9,850.6 808.5,852.4 808.1,851.5 807.7,852.0 807.3,853.2 806.9,853.1 806.5,853.1 806.1,853.7 805.7,853.6 805.3,853.5 804.9,853.8 804.5,858.5 804.1,858.3 803.7,860.8 803.3,853.6 802.9,854.9 802.5,855.2 802.1,857.3 801.7,853.6 801.3,855.4 800.9,854.6 800.5,857.7 800.1,858.4 799.7,856.3 799.3,859.0 798.9,854.8 798.5,855.7 798.1,854.4 797.7,855.9 797.3,859.5 796.9,858.3 796.5,855.7 796.1,852.6 795.7,853.1 795.3,850.0 794.9,853.7 794.5,852.6 794.1,854.5 793.7,856.6 793.3,859.8 792.9,854.6 792.5,859.6 792.1,858.9 791.7,858.4 791.3,856.9 790.9,859.2 790.5,858.9 790.1,857.8 789.7,859.9 789.3,865.0 788.9,866.8 788.5,871.1 788.1,874.2 787.7,878.8 787.3,886.7 786.9,892.6 786.5,905.5 786.1,916.4 785.7,913.2 785.3,886.7 784.9,865.3 784.5,854.7 784.1,851.8 783.7,852.7 783.3,856.3 782.9,857.7 782.5,854.5 782.1,854.8 781.7,856.0 781.3,854.7 780.9,852.4 780.5,854.0 780.1,858.3 779.7,853.8 779.3,855.4 778.9,855.1 778.5,854.4 778.1,854.7 777.7,854.4 777.3,849.3 776.9,852.2 776.5,850.3 776.1,852.2 775.7,850.7 775.3,850.7 774.9,850.1 774.5,848.2 774.1,850.2 773.7,848.4 773.3,851.1 772.9,850.8 772.5,853.5 772.1,852.4 771.7,855.5 771.3,854.2 770.9,853.4 770.5,855.6 770.1,853.5 769.7,854.2 769.3,852.5 768.9,853.9 768.5,852.9 768.1,849.7 767.7,849.9 767.3,850.4 766.9,849.5 766.5,852.9 766.1,848.4 765.7,849.0 765.3,848.0 764.9,847.5 764.5,847.1 764.1,847.5 763.7,846.3 763.3,846.8 762.9,850.0 762.5,846.0 762.1,849.2 761.7,846.8 761.3,847.4 760.9,849.0 760.5,846.9 760.1,851.4 759.7,848.0 759.3,849.7 758.9,847.1 758.5,849.4 758.1,848.3 757.7,850.4 757.3,850.9 756.9,848.3 756.5,850.5 756.1,849.9 755.7,848.2 755.3,847.8 754.9,849.8 754.5,852.9 754.1,851.0 753.7,850.1 753.3,850.7 752.9,848.6 752.5,848.3 752.1,850.7 751.7,848.8 751.3,850.5 750.9,849.4 750.5,849.6 750.1,853.4 749.7,853.4 749.3,851.7 748.9,853.7 748.5,850.0 748.1,849.9 747.7,850.2 747.3,851.3 746.9,853.0 746.5,851.1 746.1,848.6 745.7,850.8 745.3,848.0 744.9,847.3 744.5,847.1 744.1,844.9 743.7,843.8 743.3,844.7 742.9,849.3 742.5,848.3 742.1,848.3 741.7,853.7 741.3,849.3 740.9,847.3 740.5,850.7 740.1,847.4 739.7,850.5 739.3,849.0 738.9,847.8 738.5,849.0 738.1,850.1 737.7,850.0 737.3,848.2 736.9,848.4 736.5,845.6 736.1,848.4 735.7,847.3 735.3,846.3 734.9,849.2 734.5,847.0 734.1,848.2 733.7,848.6 733.3,847.4 732.9,851.0 732.5,845.2 732.1,847.0 731.7,849.6 731.3,851.9 730.9,851.8 730.5,852.0 730.1,851.0 729.7,854.2 729.3,851.0 728.9,854.2 728.5,850.2 728.1,848.8 727.7,850.2 727.3,850.2 726.9,850.5 726.5,852.4 726.1,853.9 725.7,850.0 725.3,854.9 724.9,857.3 724.5,857.3 724.1,860.6 723.7,862.2 723.3,863.1 722.9,868.5 722.5,872.5 722.1,878.8 721.7,873.1 721.3,856.9 720.9,856.9 720.5,856.9 720.1,857.9 719.7,853.2 719.3,853.8 718.9,851.2 718.5,852.1 718.1,849.8 717.7,850.6 717.3,850.1 716.9,850.4 716.5,852.4 716.1,849.8 715.7,845.0 715.3,853.0 714.9,849.4 714.5,852.6 714.1,850.4 713.7,852.3 713.3,854.2 712.9,852.8 712.5,857.7 712.1,854.5 711.7,851.6 711.3,853.1 710.9,852.5 710.5,854.8 710.1,853.3 709.7,852.4 709.3,854.8 708.9,854.0 708.5,853.5 708.1,854.6 707.7,853.6 707.3,851.6 706.9,851.7 706.5,853.0 706.1,852.0 705.7,851.2 705.3,849.6 704.9,854.9 704.5,851.2 704.1,851.1 703.7,850.5 703.3,851.2 702.9,851.4 702.5,849.7 702.1,844.5 701.7,846.3 701.3,849.4 700.9,849.7 700.5,851.3 700.1,847.6 699.7,852.1 699.3,851.7 698.9,850.2 698.5,851.1 698.1,852.5 697.7,854.8 697.3,854.3 696.9,854.7 696.5,852.1 696.1,855.3 695.7,853.6 695.3,850.5 694.9,853.3 694.5,853.1 694.1,855.2 693.7,857.4 693.3,855.2 692.9,855.2 692.5,853.3 692.1,853.6 691.7,856.3 691.3,856.9 690.9,853.9 690.5,855.1 690.1,857.3 689.7,858.5 689.3,860.7 688.9,859.6 688.5,859.6 688.1,857.2 687.7,858.4 687.3,860.3 686.9,860.8 686.5,857.5 686.1,858.1 685.7,858.1 685.3,856.6 684.9,858.8 684.5,856.8 684.1,858.9 683.7,859.8 683.3,860.9 682.9,865.8 682.5,868.5 682.1,874.0 681.7,866.7 681.3,854.4 680.9,857.2 680.5,854.6 680.1,854.3 679.7,854.3 679.3,853.6 678.9,854.7 678.5,856.7 678.1,857.1 677.7,857.9 677.3,859.0 676.9,861.7 676.5,858.6 676.1,859.7 675.7,857.9 675.3,858.6 674.9,863.0 674.5,858.8 674.1,856.8 673.7,854.6 673.3,859.0 672.9,859.0 672.5,859.1 672.1,857.3 671.7,859.6 671.3,858.7 670.9,861.9 670.5,858.8 670.1,858.2 669.7,857.5 669.3,858.9 668.9,861.2 668.5,859.1 668.1,858.9 667.7,856.9 667.3,857.7 666.9,857.4 666.5,860.9 666.1,861.0 665.7,855.4 665.3,855.2 664.9,858.6 664.5,858.8 664.1,858.2 663.7,860.2 663.3,855.9 662.9,853.2 662.5,853.7 662.1,852.8 661.7,853.7 661.3,854.4 660.9,857.4 660.5,858.2 660.1,856.6 659.7,857.3 659.3,854.7 658.9,855.2 658.5,856.9 658.1,856.1 657.7,857.2 657.3,856.6 656.9,853.2 656.5,854.1 656.1,856.1 655.7,852.2 655.3,853.2 654.9,854.8 654.5,853.6 654.1,853.5 653.7,859.6 653.3,859.3 652.9,855.7 652.5,858.0 652.1,858.0 651.7,858.6 651.3,856.4 650.9,854.7 650.5,853.1 650.1,850.4 649.7,850.1 649.3,855.2 648.9,851.8 648.5,858.2 648.1,856.3 647.7,859.0 647.3,859.3 646.9,856.0 646.5,860.0 646.1,860.2 645.7,853.3 645.3,854.2 644.9,855.3 644.5,853.9 644.1,853.1 643.7,855.4 643.3,854.6 642.9,854.4 642.5,852.9 642.1,852.8 641.7,851.9 641.3,857.1 640.9,850.9 640.5,853.7 640.1,855.2 639.7,854.9 639.3,856.3 638.9,856.3 638.5,853.8 638.1,858.0 637.7,855.9 637.3,862.0 636.9,859.4 636.5,861.6 636.1,860.3 635.7,862.2 635.3,864.9 634.9,861.5 634.5,863.6 634.1,864.8 633.7,864.9 633.3,869.1 632.9,871.8 632.5,874.2 632.1,879.9 631.7,883.7 631.3,880.2 630.9,872.0 630.5,856.8 630.1,854.4 629.7,857.9 629.3,854.9 628.9,858.2 628.5,852.1 628.1,853.9 627.7,850.7 627.3,854.6 626.9,852.0 626.5,856.2 626.1,860.1 625.7,858.4 625.3,855.8 624.9,852.1 624.5,856.9 624.1,854.0 623.7,853.1 623.3,854.4 622.9,856.1 622.5,855.3 622.1,857.6 621.7,857.1 621.3,854.7 620.9,853.3 620.5,849.6 620.1,850.8 619.7,852.7 619.3,855.0 618.9,854.1 618.5,854.4 618.1,852.9 617.7,851.4 617.3,855.4 616.9,852.8 616.5,855.6 616.1,856.4 615.7,858.2 615.3,857.3 614.9,854.8 614.5,857.7 614.1,857.9 613.7,857.0 613.3,857.0 612.9,859.3 612.5,859.1 612.1,853.7 611.7,853.2 611.3,858.9 610.9,855.8 610.5,856.7 610.1,861.1 609.7,857.0 609.3,857.6 608.9,858.3 608.5,855.5 608.1,857.8 607.7,852.9 607.3,855.2 606.9,854.3 606.5,855.4 606.1,858.2 605.7,855.0 605.3,853.5 604.9,855.7 604.5,853.9 604.1,854.6 603.7,854.2 603.3,854.7 602.9,854.6 602.5,856.6 602.1,854.2 601.7,852.3 601.3,856.0 600.9,855.8 600.5,854.4 600.1,857.0 599.7,857.3 599.3,858.7 598.9,858.7 598.5,860.2 598.1,859.2 597.7,855.4 597.3,859.5 596.9,858.4 596.5,856.1 596.1,859.7 595.7,860.2 595.3,857.6 594.9,855.9 594.5,853.9 594.1,856.6 593.7,856.5 593.3,858.0 592.9,858.1 592.5,858.9 592.1,856.6 591.7,855.8 591.3,855.9 590.9,858.4 590.5,855.4 590.1,858.4 589.7,856.1 589.3,855.7 588.9,857.8 588.5,855.8 588.1,859.6 587.7,855.4 587.3,858.4 586.9,855.0 586.5,857.1 586.1,860.6 585.7,858.4 585.3,859.0 584.9,857.3 584.5,859.4 584.1,860.1 583.7,858.1 583.3,857.8 582.9,860.0 582.5,858.9 582.1,862.3 581.7,862.1 581.3,857.9 580.9,860.5 580.5,860.1 580.1,861.3 579.7,861.0 579.3,861.5 578.9,864.6 578.5,862.1 578.1,862.8 577.7,861.6 577.3,858.5 576.9,858.5 576.5,860.1 576.1,858.4 575.7,856.5 575.3,862.1 574.9,861.0 574.5,860.1 574.1,859.0 573.7,861.7 573.3,861.2 572.9,858.6 572.5,860.1 572.1,856.6 571.7,859.4 571.3,862.1 570.9,864.2 570.5,863.7 570.1,859.8 569.7,860.1 569.3,863.0 568.9,858.5 568.5,860.7 568.1,859.5 567.7,861.1 567.3,861.2 566.9,861.2 566.5,859.8 566.1,862.2 565.7,862.4 565.3,861.9 564.9,857.7 564.5,858.1 564.1,859.2 563.7,857.5 563.3,861.4 562.9,858.2 562.5,860.9 562.1,859.0 561.7,859.9 561.3,857.2 560.9,860.5 560.5,856.4 560.1,859.0 559.7,858.1 559.3,859.3 558.9,859.1 558.5,861.1 558.1,859.7 557.7,861.7 557.3,858.5 556.9,863.0 556.5,862.5 556.1,862.7 555.7,861.2 555.3,861.3 554.9,861.7 554.5,860.9 554.1,860.7 553.7,860.2 553.3,861.2 552.9,861.5 552.5,862.0 552.1,861.7 551.7,861.9 551.3,862.4 550.9,858.8 550.5,859.9 550.1,857.6 549.7,859.5 549.3,860.1 548.9,864.1 548.5,860.7 548.1,863.2 547.7,861.8 547.3,860.6 546.9,859.6 546.5,864.4 546.1,866.4 545.7,866.4 545.3,862.1 544.9,863.4 544.5,860.4 544.1,860.3 543.7,861.3 543.3,860.5 542.9,861.3 542.5,863.4 542.1,865.1 541.7,860.0 541.3,859.0 540.9,859.1 540.5,858.8 540.1,858.7 539.7,857.9 539.3,858.5 538.9,862.6 538.5,856.0 538.1,856.3 537.7,862.2 537.3,859.0 536.9,855.6 536.5,859.4 536.1,855.9 535.7,859.3 535.3,856.5 534.9,854.4 534.5,855.3 534.1,858.0 533.7,854.5 533.3,854.1 532.9,854.5 532.5,854.6 532.1,857.7 531.7,854.3 531.3,855.3 530.9,854.7 530.5,852.8 530.1,854.0 529.7,853.9 529.3,854.5 528.9,857.3 528.5,860.8 528.1,856.3 527.7,854.5 527.3,854.4 526.9,853.7 526.5,854.1 526.1,856.7 525.7,854.7 525.3,856.1 524.9,850.2 524.5,851.1 524.1,852.1 523.7,853.6 523.3,856.5 522.9,855.0 522.5,853.0 522.1,853.2 521.7,853.1 521.3,855.5 520.9,850.7 520.5,849.4 520.1,850.2 519.7,846.2 519.3,851.2 518.9,848.2 518.5,847.8 518.1,847.8 517.7,845.7 517.3,847.7 516.9,848.5 516.5,847.4 516.1,850.6 515.7,851.7 515.3,852.5 514.9,849.0 514.5,854.5 514.1,855.1 513.7,852.4 513.3,848.3 512.9,849.4 512.5,848.5 512.1,849.6 511.7,849.6 511.3,848.9 510.9,849.3 510.5,848.5 510.1,845.9 509.7,848.1 509.3,846.8 508.9,851.1 508.5,852.3 508.1,853.4 507.7,851.4 507.3,849.9 506.9,853.3 506.5,852.7 506.1,854.4 505.7,849.4 505.3,848.5 504.9,852.2 504.5,848.6 504.1,847.0 503.7,846.8 503.3,848.4 502.9,850.1 502.5,849.4 502.1,852.1 501.7,849.3 501.3,850.6 500.9,853.0 500.5,855.8 500.1,851.9 499.7,850.8 499.3,855.1 498.9,853.4 498.5,856.3 498.1,854.7 497.7,853.6 497.3,853.2 496.9,853.5 496.5,851.0 496.1,853.5 495.7,854.8 495.3,853.6 494.9,855.9 494.5,858.5 494.1,860.7 493.7,862.0 493.3,865.7 492.9,873.3 492.5,879.4 492.1,880.8 491.7,896.8 491.3,907.7 490.9,932.3 490.5,931.8 490.1,892.8 489.7,861.2 489.3,852.8 488.9,855.4 488.5,855.8 488.1,854.6 487.7,852.9 487.3,851.1 486.9,850.9 486.5,850.2 486.1,852.7 485.7,851.7 485.3,854.2 484.9,854.7 484.5,852.3 484.1,851.5 483.7,854.0 483.3,851.0 482.9,851.9 482.5,854.3 482.1,852.0 481.7,858.1 481.3,854.4 480.9,855.0 480.5,856.5 480.1,856.7 479.7,853.7 479.3,855.7 478.9,854.1 478.5,849.5 478.1,852.6 477.7,852.2 477.3,849.0 476.9,851.5 476.5,852.5 476.1,849.7 475.7,846.4 475.3,850.6 474.9,850.9 474.5,850.7 474.1,847.3 473.7,849.4 473.3,851.9 472.9,852.6 472.5,853.8 472.1,856.6 471.7,849.9 471.3,852.5 470.9,848.4 470.5,853.1 470.1,852.7 469.7,849.0 469.3,849.9 468.9,849.9 468.5,851.0 468.1,850.9 467.7,851.8 467.3,852.0 466.9,851.6 466.5,854.7 466.1,854.0 465.7,858.3 465.3,855.1 464.9,854.4 464.5,850.4 464.1,851.7 463.7,852.8 463.3,851.4 462.9,851.8 462.5,853.7 462.1,853.0 461.7,856.9 461.3,856.2 460.9,854.4 460.5,857.8 460.1,855.1 459.7,855.0 459.3,857.1 458.9,854.3 458.5,856.7 458.1,853.4 457.7,855.7 457.3,855.8 456.9,854.3 456.5,853.4 456.1,857.2 455.7,856.8 455.3,857.0 454.9,856.3 454.5,853.1 454.1,856.7 453.7,860.4 453.3,854.1 452.9,856.1 452.5,856.5 452.1,856.6 451.7,856.0 451.3,857.4 450.9,860.2 450.5,857.4 450.1,854.1 449.7,856.1 449.3,853.4 448.9,854.0 448.5,856.3 448.1,858.1 447.7,858.1 447.3,857.4 446.9,855.6 446.5,861.4 446.1,856.9 445.7,853.9 445.3,855.6 444.9,858.1 444.5,860.6 444.1,855.9 443.7,854.2 443.3,855.7 442.9,857.6 442.5,856.1 442.1,857.2 441.7,857.5 441.3,858.5 440.9,857.5 440.5,858.0 440.1,858.1 439.7,856.3 439.3,858.5 438.9,860.1 438.5,858.2 438.1,862.3 437.7,862.5 437.3,864.4 436.9,864.1 436.5,867.1 436.1,866.6 435.7,869.4 435.3,867.8 434.9,862.2 434.5,861.1 434.1,855.0 433.7,858.8 433.3,856.5 432.9,855.6 432.5,857.4 432.1,855.1 431.7,858.1 431.3,856.4 430.9,856.4 430.5,854.3 430.1,854.7 429.7,855.3 429.3,855.9 428.9,857.2 428.5,857.7 428.1,857.9 427.7,854.5 427.3,856.4 426.9,856.3 426.5,856.7 426.1,855.5 425.7,859.9 425.3,862.5 424.9,858.6 424.5,860.0 424.1,855.0 423.7,853.9 423.3,857.5 422.9,856.8 422.5,857.8 422.1,859.4 421.7,858.4 421.3,857.5 420.9,860.2 420.5,862.9 420.1,858.7 419.7,857.0 419.3,857.1 418.9,858.4 418.5,857.5 418.1,858.3 417.7,858.2 417.3,859.3 416.9,861.0 416.5,859.5 416.1,856.8 415.7,857.2 415.3,859.2 414.9,858.1 414.5,864.2 414.1,867.0 413.7,871.3 413.3,871.4 412.9,872.7 412.5,879.8 412.1,888.8 411.7,890.8 411.3,877.8 410.9,860.8 410.5,858.9 410.1,861.9 409.7,861.0 409.3,857.7 408.9,859.0 408.5,861.0 408.1,859.1 407.7,857.4 407.3,856.2 406.9,862.4 406.5,857.9 406.1,858.9 405.7,859.3 405.3,860.5 404.9,857.4 404.5,856.4 404.1,859.2 403.7,860.9 403.3,863.3 402.9,862.5 402.5,862.4 402.1,863.7 401.7,863.1 401.3,860.8 400.9,865.7 400.5,861.5 400.1,863.8 399.7,865.0 399.3,863.8 398.9,862.6 398.5,865.8 398.1,864.9 397.7,861.0 397.3,860.6 396.9,862.8 396.5,864.3 396.1,865.2 395.7,859.5 395.3,862.3 394.9,861.2 394.5,860.9 394.1,865.9 393.7,863.6 393.3,866.7 392.9,865.6 392.5,864.6 392.1,862.4 391.7,861.8 391.3,863.8 390.9,860.6 390.5,859.7 390.1,862.2 389.7,862.8 389.3,859.8 388.9,864.6 388.5,862.5 388.1,859.7 387.7,859.3 387.3,860.2 386.9,863.3 386.5,863.2 386.1,864.0 385.7,863.5 385.3,862.1 384.9,864.7 384.5,865.5 384.1,863.9 383.7,868.8 383.3,866.1 382.9,866.7 382.5,868.1 382.1,865.3 381.7,872.6 381.3,867.5 380.9,868.4 380.5,870.1 380.1,869.8 379.7,869.4 379.3,863.5 378.9,864.5 378.5,866.6 378.1,866.2 377.7,862.6 377.3,867.9 376.9,865.2 376.5,866.5 376.1,866.8 375.7,865.1 375.3,866.2 374.9,864.0 374.5,863.4 374.1,863.3 373.7,866.4 373.3,864.4 372.9,862.3 372.5,865.6 372.1,866.2 371.7,866.9 371.3,864.3 370.9,867.3 370.5,863.5 370.1,860.5 369.7,860.8 369.3,866.1 368.9,863.9 368.5,864.1 368.1,867.4 367.7,868.6 367.3,866.3 366.9,864.4 366.5,864.7 366.1,860.7 365.7,862.5 365.3,862.4 364.9,866.6 364.5,863.9 364.1,865.6 363.7,866.3 363.3,867.3 362.9,864.2 362.5,866.1 362.1,863.8 361.7,868.9 361.3,866.4 360.9,866.5 360.5,867.1 360.1,868.0 359.7,864.9 359.3,867.8 358.9,870.1 358.5,865.6 358.1,863.2 357.7,863.8 357.3,868.3 356.9,868.2 356.5,865.8 356.1,871.7 355.7,865.4 355.3,866.0 354.9,863.9 354.5,869.5 354.1,865.5 353.7,864.9 353.3,863.9 352.9,865.7 352.5,866.2 352.1,869.1 351.7,864.7 351.3,864.9 350.9,867.7 350.5,866.6 350.1,864.4 349.7,867.4 349.3,867.5 348.9,864.5 348.5,863.4 348.1,865.6 347.7,862.0 347.3,861.9 346.9,865.7 346.5,868.0 346.1,864.3 345.7,867.2 345.3,865.6 344.9,866.3 344.5,867.2 344.1,866.7 343.7,866.0 343.3,865.0 342.9,863.8 342.5,866.0 342.1,868.2 341.7,864.7 341.3,867.3 340.9,866.1 340.5,866.5 340.1,869.2 339.7,867.9 339.3,869.5 338.9,869.0 338.5,869.0 338.1,867.0 337.7,867.2 337.3,864.5 336.9,870.9 336.5,873.8 336.1,871.4 335.7,874.9 335.3,879.9 334.9,879.6 334.5,871.5 334.1,868.5 333.7,863.2 333.3,869.0 332.9,868.3 332.5,865.6 332.1,868.0 331.7,864.9 331.3,864.5 330.9,865.0 330.5,862.9 330.1,862.6 329.7,863.6 329.3,865.5 328.9,862.3 328.5,865.6 328.1,863.0 327.7,862.4 327.3,865.4 326.9,865.0 326.5,868.2 326.1,864.9 325.7,866.9 325.3,864.7 324.9,866.1 324.5,864.7 324.1,864.7 323.7,865.9 323.3,867.7 322.9,867.9 322.5,867.2 322.1,868.2 321.7,863.2 321.3,863.9 320.9,866.6 320.5,863.7 320.1,865.6 319.7,866.4 319.3,867.9 318.9,867.9 318.5,867.3 318.1,868.9 317.7,867.5 317.3,865.7 316.9,868.7 316.5,868.4 316.1,869.3 315.7,869.6 315.3,867.7 314.9,865.0 314.5,866.6 314.1,866.4 313.7,865.0 313.3,864.5 312.9,865.1 312.5,864.9 312.1,864.6 311.7,865.9 311.3,865.7 310.9,865.6 310.5,868.5 310.1,866.4 309.7,869.1 309.3,870.7 308.9,871.5 308.5,868.3 308.1,866.6 307.7,865.8 307.3,866.5 306.9,868.9 306.5,868.5 306.1,871.7 305.7,868.3 305.3,867.5 304.9,868.8 304.5,867.8 304.1,869.0 303.7,867.9 303.3,867.1 302.9,867.9 302.5,870.1 302.1,868.0 301.7,866.8 301.3,866.0 300.9,867.6 300.5,868.6 300.1,862.5 299.7,863.7 299.3,867.2 298.9,866.0 298.5,864.0 298.1,865.9 297.7,864.9 297.3,864.1 296.9,864.0 296.5,864.1 296.1,868.3 295.7,866.1 295.3,866.3 294.9,866.0 294.5,867.0 294.1,867.1 293.7,868.3 293.3,865.9 292.9,863.1 292.5,865.3 292.1,867.3 291.7,867.4 291.3,867.2 290.9,865.0 290.5,865.9 290.1,867.0 289.7,865.1 289.3,862.1 288.9,864.2 288.5,865.3 288.1,865.5 287.7,862.6 287.3,863.9 286.9,862.9 286.5,863.0 286.1,865.8 285.7,862.5 285.3,861.9 284.9,863.4 284.5,868.1 284.1,862.0 283.7,863.9 283.3,861.3 282.9,862.5 282.5,863.6 282.1,858.3 281.7,858.8 281.3,861.4 280.9,861.4 280.5,861.4 280.1,866.0 279.7,865.9 279.3,865.3 278.9,863.8 278.5,864.1 278.1,863.4 277.7,865.7 277.3,862.5 276.9,865.3 276.5,864.0 276.1,865.2 275.7,862.8 275.3,862.1 274.9,862.5 274.5,862.9 274.1,863.0 273.7,860.5 273.3,860.7 272.9,862.8 272.5,863.5 272.1,861.1 271.7,861.4 271.3,859.5 270.9,862.2 270.5,864.4 270.1,860.0 269.7,862.4 269.3,865.5 268.9,864.4 268.5,861.4 268.1,863.3 267.7,864.3 267.3,861.0 266.9,862.9 266.5,867.0 266.1,863.6 265.7,866.8 265.3,862.6 264.9,860.4 264.5,861.8 264.1,859.5 263.7,860.3 263.3,861.6 262.9,859.2 262.5,865.4 262.1,863.3 261.7,861.7 261.3,862.1 260.9,864.7 260.5,867.9 260.1,866.5 259.7,870.1 259.3,872.2 258.9,880.5 258.5,898.6 258.1,911.4 257.7,903.3 257.3,867.8 256.9,862.6 256.5,865.5 256.1,862.7 255.7,860.3 255.3,860.1 254.9,865.3 254.5,864.6 254.1,862.6 253.7,861.2 253.3,863.3 252.9,863.6 252.5,864.1 252.1,862.2 251.7,861.2 251.3,863.4 250.9,861.9 250.5,857.9 250.1,860.6 249.7,857.8 249.3,859.3 248.9,862.4 248.5,861.8 248.1,861.2 247.7,862.6 247.3,863.5 246.9,861.5 246.5,866.1 246.1,863.8 245.7,862.3 245.3,862.5 244.9,865.7 244.5,866.0 244.1,866.2 243.7,866.3 243.3,866.3 242.9,867.2 242.5,869.3 242.1,871.2 241.7,871.8 241.3,875.0 240.9,878.4 240.5,871.6 240.1,866.8 239.7,864.3 239.3,860.7 238.9,858.4 238.5,858.4 238.1,860.1 237.7,857.7 237.3,858.0 236.9,858.2 236.5,860.9 236.1,863.0 235.7,858.4 235.3,860.7 234.9,862.0 234.5,861.4 234.1,865.2 233.7,860.4 233.3,860.1 232.9,860.5 232.5,860.9 232.1,862.8 231.7,864.0 231.3,860.5 230.9,861.3 230.5,859.9 230.1,855.6 229.7,861.1 229.3,861.8 228.9,861.7 228.5,862.5 228.1,862.0 227.7,863.5 227.3,860.1 226.9,860.1 226.5,862.3 226.1,860.4 225.7,864.6 225.3,862.2 224.9,860.4 224.5,861.6 224.1,858.3 223.7,864.1 223.3,859.4 222.9,858.8 222.5,864.1 222.1,862.7 221.7,865.3 221.3,864.7 220.9,859.4 220.5,861.5 220.1,856.8 219.7,854.3 219.3,861.4 218.9,861.0 218.5,860.0 218.1,861.0 217.7,861.1 217.3,860.4 216.9,858.5 216.5,860.5 216.1,858.0 215.7,861.3 215.3,857.0 214.9,859.3 214.5,860.3 214.1,861.6 213.7,860.6 213.3,861.3 212.9,862.7 212.5,861.9 212.1,861.6 211.7,857.6 211.3,857.5 210.9,856.8 210.5,859.6 210.1,859.3 209.7,859.0 209.3,858.6 208.9,859.5 208.5,858.0 208.1,862.0 207.7,855.3 207.3,858.3 206.9,863.0 206.5,860.5 206.1,860.6 205.7,867.1 205.3,868.3 204.9,867.7 204.5,869.7 204.1,876.5 203.7,876.0 203.3,882.5 202.9,888.8 202.5,893.5 202.1,904.5 201.7,921.6 201.3,918.9 200.9,893.1 200.5,861.6 200.1,856.1 199.7,860.1 199.3,855.6 198.9,857.5 198.5,855.2 198.1,853.7 197.7,851.2 197.3,851.9 196.9,854.2 196.5,855.9 196.1,856.2 195.7,855.2 195.3,856.2 194.9,858.0 194.5,856.9 194.1,857.7 193.7,857.1 193.3,855.8 192.9,859.4 192.5,855.3 192.1,858.9 191.7,855.2 191.3,856.3 190.9,858.1 190.5,854.0 190.1,858.5 189.7,859.4 189.3,858.8 188.9,856.4 188.5,853.9 188.1,857.5 187.7,860.4 187.3,857.9 186.9,857.7 186.5,855.8 186.1,857.0 185.7,856.9 185.3,854.2 184.9,854.3 184.5,855.2 184.1,851.0 183.7,853.5 183.3,851.0 182.9,853.0 182.5,850.6 182.1,850.9 181.7,850.5 181.3,853.2 180.9,853.9 180.5,852.5 180.1,851.8 179.7,855.7 179.3,854.1 178.9,856.3 178.5,857.7 178.1,857.7 177.7,859.8 177.3,856.1 176.9,856.7 176.5,856.2 176.1,857.3 175.7,856.2 175.3,853.4 174.9,849.7 174.5,851.7 174.1,854.3 173.7,853.2 173.3,855.8 172.9,851.1 172.5,851.5 172.1,850.0 171.7,849.0 171.3,847.7 170.9,849.7 170.5,846.8 170.1,849.2 169.7,854.3 169.3,849.9 168.9,852.4 168.5,854.4 168.1,854.4 167.7,849.0 167.3,854.2 166.9,851.6 166.5,852.5 166.1,853.0 165.7,850.4 165.3,851.7 164.9,851.0 164.5,851.7 164.1,849.2 163.7,848.6 163.3,851.1 162.9,850.5 162.5,850.1 162.1,850.9 161.7,851.7 161.3,848.6 160.9,852.7 160.5,854.1 160.1,848.7 159.7,848.4 159.3,854.9 158.9,852.1 158.5,849.6 158.1,851.4 157.7,854.0 157.3,859.6 156.9,851.6 156.5,853.1 156.1,854.8 155.7,852.2 155.3,853.9 154.9,852.5 154.5,850.9 154.1,850.9 153.7,855.7 153.3,850.9 152.9,851.3 152.5,855.3 152.1,853.4 151.7,849.6 151.3,850.5 150.9,850.1 150.5,848.3 150.1,846.8 149.7,848.4 149.3,850.1 148.9,851.0 148.5,848.1 148.1,851.3 147.7,851.6 147.3,849.3 146.9,850.8 146.5,853.2 146.1,850.4 145.7,849.6 145.3,852.6 144.9,852.1 144.5,852.1 144.1,853.2 143.7,851.2 143.3,852.5 142.9,850.2 142.5,853.8 142.1,851.6 141.7,853.7 141.3,853.8 140.9,855.0 140.5,853.9 140.1,855.2 139.7,855.8 139.3,850.5 138.9,850.1 138.5,848.1 138.1,849.7 137.7,849.4 137.3,846.7 136.9,846.2 136.5,844.7 136.1,849.3 135.7,850.0 135.3,848.9 134.9,847.9 134.5,847.5 134.1,850.8 133.7,849.0 133.3,847.7 132.9,849.3 132.5,849.8 132.1,849.7 131.7,847.3 131.3,847.2 130.9,846.6 130.5,849.0 130.1,850.8 129.7,850.5 129.3,849.7 128.9,847.9 128.5,850.9 128.1,849.1 127.7,849.1 127.3,847.9 126.9,852.2 126.5,851.7 126.1,850.9 125.7,852.9 125.3,850.3 124.9,848.3 124.5,849.7 124.1,849.2 123.7,850.5 123.3,851.1 122.9,850.8 122.5,849.2 122.1,848.0 121.7,850.7 121.3,850.2 120.9,850.4 120.5,850.5 120.1,847.5 119.7,855.1 119.3,849.6 118.9,851.0 118.5,852.5 118.1,852.0 117.7,849.7 117.3,854.3 116.9,850.1 116.5,850.7 116.1,852.3 115.7,852.1 115.3,854.3 114.9,851.8 114.5,851.6 114.1,851.8 113.7,849.6 113.3,853.9 112.9,851.5 112.5,852.2 112.1,854.1 111.7,852.7 111.3,855.1 110.9,853.6 110.5,852.1 110.1,850.9 109.7,850.2 109.3,854.6 108.9,855.1 108.5,854.4 108.1,858.6 107.7,853.6 107.3,855.7 106.9,853.5 106.5,854.9 106.1,854.8 105.7,856.9 105.3,852.1 104.9,857.0 104.5,856.2 104.1,858.1 103.7,854.8 103.3,856.1 102.9,857.2 102.5,855.2 102.1,856.9 101.7,856.2 101.3,855.9 100.9,857.2 100.5,854.7 100.1,859.2 99.7,855.2 99.3,860.8 98.9,861.2 98.5,857.0 98.1,861.0 97.7,860.9 97.3,861.7 96.9,862.5 96.5,860.5 96.1,862.1 95.7,863.9 95.3,862.1 94.9,860.1 94.5,865.3 94.1,862.8 93.7,861.6 93.3,867.9 92.9,867.6 92.5,863.8 92.1,862.5 91.7,861.9 91.3,858.5 90.9,857.6 90.5,858.0 90.1,861.2 89.7,858.3 89.3,860.6 88.9,859.4 88.5,862.8 88.1,860.7 87.7,855.9 87.3,860.2 86.9,858.1 86.5,857.9 86.1,859.4 85.7,857.4 85.3,859.5 84.9,859.3 84.5,859.3 84.1,858.5 83.7,856.1 83.3,859.7 82.9,858.2 82.5,860.9 82.1,859.7 81.7,858.0 81.3,858.7 80.9,862.1 80.5,861.2 80.1,858.9 79.7,860.8 79.3,858.9 78.9,860.5 78.5,858.0 78.1,858.9 77.7,858.8 77.3,857.9 76.9,861.4 76.5,866.3 76.1,860.8 75.7,860.5 75.3,859.5 74.9,863.6 74.5,855.7 74.1,856.5 73.7,856.3 73.3,857.4 72.9,857.5 72.5,856.9 72.1,861.1 71.7,857.8 71.3,856.4 70.9,861.6 70.5,860.1 70.1,858.4 69.7,857.4 69.3,857.9 68.9,855.9 68.5,857.9 68.1,852.3 67.7,859.8 67.3,855.8 66.9,854.9 66.5,856.2 66.1,854.3 65.7,857.2 65.3,858.8 64.9,856.8 64.5,854.5 64.1,855.1 63.7,855.2 63.3,855.2 62.9,853.3 62.5,855.4 62.1,856.0 61.7,858.4 61.3,860.7 60.9,860.9 60.5,862.5 60.1,859.0 59.7,859.9 59.3,863.5 58.9,866.8 58.5,863.4 58.1,866.8 57.7,869.6 57.3,874.9 56.9,875.5 56.5,879.5 56.1,880.4 55.7,883.0 55.3,895.1 54.9,902.3 54.5,909.5 54.1,917.2 53.7,931.9 53.3,948.7 52.9,953.1 52.5,922.2 52.1,888.1 51.7,863.3 51.3,865.6 50.9,864.0 50.5,863.6 50.1,863.4 49.7,865.1 49.3,866.8 48.9,865.0 48.5,863.6 48.1,865.0 47.7,863.4 47.3,861.5 46.9,865.1 46.5,866.4 46.1,867.4 45.7,867.0 45.3,863.8 44.9,867.9 44.5,865.2 44.1,865.5 43.7,864.1 43.3,866.6 42.9,866.1 42.5,867.5 42.1,864.8 41.7,864.8 41.3,867.7 40.9,866.4 40.5,866.8 40.1,868.8 39.7,864.6 39.3,865.5 38.9,865.5 38.5,861.4 38.1,863.7 37.7,862.6 37.3,861.3 36.9,863.7 36.5,861.0 36.1,863.6 35.7,860.1 35.3,861.2 34.9,863.7 34.5,861.3 34.1,860.2 33.7,863.8 33.3,867.3 32.9,865.9 32.5,866.9 32.1,864.9 31.7,867.1" fill="#000" stroke="#000" stroke-width="0.6" stroke-linejoin="round" opacity="1.0"/>
<polygon points="32.2,1045.9 32.6,1040.4 33.0,1039.2 33.4,1042.9 33.8,1043.9 34.2,1043.9 34.6,1038.4 35.0,1040.4 35.4,1043.5 35.8,1042.0 36.2,1041.1 36.6,1039.2 37.0,1044.4 37.4,1040.9 37.8,1037.9 38.2,1041.2 38.6,1041.0 39.0,1048.7 39.4,1042.3 39.8,1043.2 40.2,1045.6 40.6,1044.2 41.0,1042.8 41.4,1045.9 41.8,1048.0 42.2,1042.9 42.6,1040.2 43.0,1039.3 43.4,1037.1 43.8,1046.9 44.2,1050.3 44.6,1046.3 45.0,1048.5 45.4,1043.7 45.8,1043.8 46.2,1040.8 46.6,1046.5 47.0,1050.5 47.4,1046.4 47.8,1048.3 48.2,1047.1 48.6,1041.9 49.0,1044.3 49.4,1041.8 49.8,1041.1 50.2,1043.8 50.6,1042.8 51.0,1044.4 51.4,1043.9 51.8,1050.8 52.2,1049.2 52.6,1042.2 53.0,1044.2 53.4,1048.0 53.8,1046.6 54.2,1047.3 54.6,1047.0 55.0,1047.4 55.4,1049.3 55.8,1048.1 56.2,1048.1 56.6,1048.9 57.0,1049.8 57.4,1042.5 57.8,1043.3 58.2,1048.6 58.6,1043.8 59.0,1044.3 59.4,1045.3 59.8,1049.9 60.2,1049.6 60.6,1046.1 61.0,1051.7 61.4,1054.7 61.8,1046.8 62.2,1046.8 62.6,1049.5 63.0,1055.0 63.4,1048.6 63.8,1049.9 64.2,1046.1 64.6,1044.7 65.0,1039.5 65.4,1043.9 65.8,1045.1 66.2,1041.3 66.6,1040.9 67.0,1047.5 67.4,1047.8 67.8,1044.3 68.2,1047.5 68.6,1050.9 69.0,1046.0 69.4,1039.4 69.8,1044.1 70.2,1042.5 70.6,1046.4 71.0,1047.7 71.4,1043.9 71.8,1044.3 72.2,1046.6 72.6,1043.6 73.0,1043.3 73.4,1044.2 73.8,1045.1 74.2,1045.3 74.6,1045.7 75.0,1047.0 75.4,1048.8 75.8,1040.6 76.2,1044.8 76.6,1045.1 77.0,1043.6 77.4,1043.1 77.8,1043.4 78.2,1045.6 78.6,1040.4 79.0,1042.5 79.4,1042.6 79.8,1041.0 80.2,1042.2 80.6,1048.5 81.0,1048.4 81.4,1045.7 81.8,1042.3 82.2,1047.7 82.6,1047.4 83.0,1045.0 83.4,1045.4 83.8,1036.3 84.2,1040.7 84.6,1039.1 85.0,1035.2 85.4,1037.6 85.8,1033.0 86.2,1036.4 86.6,1038.3 87.0,1043.2 87.4,1045.4 87.8,1045.1 88.2,1041.4 88.6,1036.6 89.0,1040.9 89.4,1040.5 89.8,1041.6 90.2,1038.7 90.6,1038.7 91.0,1036.1 91.4,1040.3 91.8,1038.1 92.2,1032.8 92.6,1040.1 93.0,1040.2 93.4,1035.6 93.8,1037.9 94.2,1035.8 94.6,1041.1 95.0,1037.5 95.4,1040.0 95.8,1042.0 96.2,1037.6 96.6,1044.8 97.0,1044.0 97.4,1041.2 97.8,1046.8 98.2,1052.1 98.6,1045.6 99.0,1049.0 99.4,1046.2 99.8,1044.9 100.2,1043.8 100.6,1046.1 101.0,1040.4 101.4,1039.6 101.8,1043.7 102.2,1037.8 102.6,1043.0 103.0,1044.1 103.4,1037.7 103.8,1040.3 104.2,1039.3 104.6,1042.7 105.0,1042.6 105.4,1038.7 105.8,1043.1 106.2,1046.0 106.6,1043.2 107.0,1049.4 107.4,1049.0 107.8,1049.0 108.2,1042.1 108.6,1038.5 109.0,1038.0 109.4,1032.3 109.8,1030.7 110.2,1029.7 110.6,1028.4 111.0,1031.4 111.4,1031.3 111.8,1040.1 112.2,1035.0 112.6,1035.0 113.0,1029.4 113.4,1029.6 113.8,1029.1 114.2,1031.2 114.6,1022.8 115.0,1028.6 115.4,1030.0 115.8,1028.6 116.2,1030.0 116.6,1033.1 117.0,1034.9 117.4,1029.9 117.8,1026.1 118.2,1020.7 118.6,1021.5 119.0,1022.0 119.4,1028.6 119.8,1027.2 120.2,1027.6 120.6,1024.2 121.0,1031.4 121.4,1034.7 121.8,1037.8 122.2,1034.0 122.6,1031.3 123.0,1034.3 123.4,1029.6 123.8,1029.4 124.2,1024.4 124.6,1028.3 125.0,1027.8 125.4,1033.3 125.8,1023.2 126.2,1033.4 126.6,1030.0 127.0,1033.7 127.4,1038.4 127.8,1043.8 128.2,1041.7 128.6,1041.5 129.0,1040.1 129.4,1034.2 129.8,1030.7 130.2,1030.0 130.6,1029.7 131.0,1032.4 131.4,1033.0 131.8,1033.7 132.2,1031.3 132.6,1032.3 133.0,1025.9 133.4,1029.4 133.8,1033.2 134.2,1034.3 134.6,1032.6 135.0,1034.6 135.4,1031.3 135.8,1029.5 136.2,1030.6 136.6,1029.6 137.0,1025.0 137.4,1029.6 137.8,1028.1 138.2,1025.5 138.6,1030.6 139.0,1034.0 139.4,1037.5 139.8,1032.0 140.2,1039.2 140.6,1040.4 141.0,1040.8 141.4,1037.3 141.8,1033.8 142.2,1029.8 142.6,1036.5 143.0,1036.3 143.4,1031.2 143.8,1033.4 144.2,1034.8 144.6,1034.6 145.0,1037.9 145.4,1036.9 145.8,1043.6 146.2,1038.5 146.6,1041.1 147.0,1037.4 147.4,1032.2 147.8,1034.4 148.2,1039.8 148.6,1038.6 149.0,1038.6 149.4,1040.5 149.8,1038.8 150.2,1039.1 150.6,1033.1 151.0,1035.2 151.4,1039.1 151.8,1040.2 152.2,1041.3 152.6,1041.7 153.0,1044.5 153.4,1042.1 153.8,1047.8 154.2,1044.0 154.6,1047.8 155.0,1045.3 155.4,1043.7 155.8,1044.0 156.2,1045.9 156.6,1043.3 157.0,1047.9 157.4,1049.3 157.8,1055.4 158.2,1061.8 158.6,1052.4 159.0,1052.8 159.4,1049.5 159.8,1048.1 160.2,1049.4 160.6,1041.7 161.0,1045.2 161.4,1044.3 161.8,1038.2 162.2,1043.1 162.6,1040.1 163.0,1041.0 163.4,1043.9 163.8,1045.4 164.2,1047.9 164.6,1043.0 165.0,1043.2 165.4,1041.5 165.8,1033.0 166.2,1038.8 166.6,1037.0 167.0,1040.7 167.4,1038.9 167.8,1042.3 168.2,1044.8 168.6,1045.0 169.0,1048.8 169.4,1042.0 169.8,1042.5 170.2,1045.1 170.6,1038.1 171.0,1042.1 171.4,1047.3 171.8,1048.4 172.2,1045.9 172.6,1042.3 173.0,1042.2 173.4,1038.6 173.8,1045.5 174.2,1043.9 174.6,1044.8 175.0,1044.7 175.4,1042.4 175.8,1042.2 176.2,1044.9 176.6,1041.4 177.0,1042.4 177.4,1036.3 177.8,1036.3 178.2,1037.0 178.6,1036.8 179.0,1036.3 179.4,1036.0 179.8,1040.3 180.2,1039.6 180.6,1039.0 181.0,1033.6 181.4,1034.2 181.8,1038.9 182.2,1036.3 182.6,1035.3 183.0,1033.3 183.4,1034.6 183.8,1042.1 184.2,1037.0 184.6,1044.9 185.0,1040.6 185.4,1036.7 185.8,1033.5 186.2,1029.8 186.6,1036.1 187.0,1031.8 187.4,1032.3 187.8,1032.7 188.2,1035.4 188.6,1028.1 189.0,1034.0 189.4,1039.1 189.8,1032.5 190.2,1032.4 190.6,1033.8 191.0,1033.7 191.4,1036.4 191.8,1035.5 192.2,1038.2 192.6,1033.8 193.0,1037.3 193.4,1039.5 193.8,1037.5 194.2,1036.0 194.6,1036.5 195.0,1036.9 195.4,1036.0 195.8,1040.2 196.2,1035.1 196.6,1041.0 197.0,1038.0 197.4,1032.1 197.8,1032.3 198.2,1029.4 198.6,1029.9 199.0,1029.0 199.4,1030.0 199.8,1029.6 200.2,1028.7 200.6,1030.5 201.0,1027.4 201.4,1036.4 201.8,1033.6 202.2,1030.6 202.6,1026.6 203.0,1034.5 203.4,1035.1 203.8,1032.4 204.2,1033.4 204.6,1032.4 205.0,1034.4 205.4,1031.8 205.8,1040.2 206.2,1047.3 206.6,1036.5 207.0,1044.0 207.4,1043.3 207.8,1085.0 208.2,1104.0 208.6,1091.4 209.0,1076.3 209.4,1067.8 209.8,1059.9 210.2,1057.6 210.6,1051.2 211.0,1047.1 211.4,1047.5 211.8,1045.7 212.2,1042.5 212.6,1038.1 213.0,1040.5 213.4,1041.3 213.8,1037.7 214.2,1037.2 214.6,1041.6 215.0,1040.1 215.4,1035.9 215.8,1037.2 216.2,1033.0 216.6,1038.0 217.0,1037.6 217.4,1038.9 217.8,1033.9 218.2,1036.7 218.6,1039.5 219.0,1037.8 219.4,1034.7 219.8,1039.3 220.2,1039.0 220.6,1035.9 221.0,1035.9 221.4,1030.5 221.8,1030.1 222.2,1025.8 222.6,1031.4 223.0,1033.2 223.4,1033.0 223.8,1035.1 224.2,1032.4 224.6,1034.8 225.0,1031.5 225.4,1030.7 225.8,1030.3 226.2,1031.5 226.6,1032.4 227.0,1032.9 227.4,1032.3 227.8,1031.5 228.2,1031.3 228.6,1035.5 229.0,1027.8 229.4,1029.6 229.8,1041.9 230.2,1043.0 230.6,1044.6 231.0,1047.0 231.4,1042.3 231.8,1043.4 232.2,1044.9 232.6,1035.1 233.0,1035.0 233.4,1031.9 233.8,1029.2 234.2,1032.2 234.6,1032.6 235.0,1039.7 235.4,1040.9 235.8,1034.2 236.2,1036.5 236.6,1033.9 237.0,1030.6 237.4,1031.1 237.8,1031.6 238.2,1031.2 238.6,1034.9 239.0,1034.2 239.4,1036.2 239.8,1035.2 240.2,1030.8 240.6,1034.8 241.0,1034.4 241.4,1033.4 241.8,1037.2 242.2,1035.3 242.6,1042.8 243.0,1041.1 243.4,1039.9 243.8,1039.3 244.2,1039.6 244.6,1043.0 245.0,1037.1 245.4,1038.7 245.8,1036.2 246.2,1031.9 246.6,1034.2 247.0,1035.4 247.4,1036.6 247.8,1030.0 248.2,1030.4 248.6,1030.6 249.0,1034.2 249.4,1034.7 249.8,1035.6 250.2,1024.9 250.6,1029.2 251.0,1033.8 251.4,1030.9 251.8,1033.3 252.2,1038.2 252.6,1042.4 253.0,1042.5 253.4,1047.7 253.8,1044.3 254.2,1043.9 254.6,1040.5 255.0,1040.2 255.4,1045.5 255.8,1041.0 256.2,1037.2 256.6,1036.7 257.0,1035.9 257.4,1033.8 257.8,1041.3 258.2,1044.0 258.6,1045.8 259.0,1044.2 259.4,1046.0 259.8,1046.4 260.2,1049.9 260.6,1052.0 261.0,1049.9 261.4,1049.5 261.8,1042.4 262.2,1045.2 262.6,1043.1 263.0,1039.5 263.4,1041.6 263.8,1038.5 264.2,1045.1 264.6,1044.0 265.0,1041.0 265.4,1051.2 265.8,1047.3 266.2,1051.1 266.6,1052.4 267.0,1043.0 267.4,1052.7 267.8,1047.4 268.2,1045.1 268.6,1045.9 269.0,1048.3 269.4,1044.7 269.8,1042.3 270.2,1050.1 270.6,1046.2 271.0,1051.2 271.4,1054.1 271.8,1052.7 272.2,1055.9 272.6,1054.1 273.0,1051.1 273.4,1045.0 273.8,1042.7 274.2,1044.9 274.6,1046.1 275.0,1046.7 275.4,1043.3 275.8,1045.5 276.2,1048.1 276.6,1045.4 277.0,1047.2 277.4,1044.2 277.8,1044.4 278.2,1042.9 278.6,1042.6 279.0,1038.5 279.4,1039.1 279.8,1040.3 280.2,1042.4 280.6,1040.3 281.0,1042.6 281.4,1042.6 281.8,1041.0 282.2,1047.6 282.6,1043.7 283.0,1042.3 283.4,1041.6 283.8,1043.8 284.2,1049.0 284.6,1046.1 285.0,1047.5 285.4,1048.4 285.8,1046.4 286.2,1042.2 286.6,1043.3 287.0,1050.2 287.4,1048.5 287.8,1052.4 288.2,1050.9 288.6,1048.6 289.0,1049.8 289.4,1049.1 289.8,1051.0 290.2,1050.9 290.6,1053.0 291.0,1056.5 291.4,1048.9 291.8,1048.0 292.2,1049.5 292.6,1046.2 293.0,1044.7 293.4,1044.5 293.8,1045.4 294.2,1047.2 294.6,1043.4 295.0,1046.1 295.4,1049.1 295.8,1046.3 296.2,1050.2 296.6,1051.7 297.0,1052.8 297.4,1049.7 297.8,1053.2 298.2,1048.0 298.6,1059.3 299.0,1055.6 299.4,1045.0 299.8,1045.2 300.2,1045.2 300.6,1050.7 301.0,1049.3 301.4,1048.4 301.8,1047.3 302.2,1060.9 302.6,1057.3 303.0,1058.1 303.4,1053.6 303.8,1052.0 304.2,1052.6 304.6,1057.4 305.0,1048.8 305.4,1049.0 305.8,1057.5 306.2,1049.1 306.6,1053.4 307.0,1046.5 307.4,1049.3 307.8,1045.6 308.2,1050.9 308.6,1054.0 309.0,1052.8 309.4,1049.3 309.8,1052.4 310.2,1046.5 310.6,1049.8 311.0,1049.1 311.4,1050.7 311.8,1046.4 312.2,1046.3 312.6,1050.0 313.0,1050.7 313.4,1052.2 313.8,1050.5 314.2,1050.1 314.6,1055.1 315.0,1052.3 315.4,1052.9 315.8,1046.8 316.2,1045.2 316.6,1048.0 317.0,1046.0 317.4,1045.9 317.8,1048.7 318.2,1051.3 318.6,1052.0 319.0,1055.4 319.4,1055.0 319.8,1051.3 320.2,1049.7 320.6,1048.7 321.0,1058.7 321.4,1052.4 321.8,1046.2 322.2,1050.8 322.6,1051.7 323.0,1048.2 323.4,1051.2 323.8,1052.1 324.2,1056.0 324.6,1052.9 325.0,1053.9 325.4,1055.2 325.8,1064.0 326.2,1061.0 326.6,1061.0 327.0,1061.2 327.4,1062.8 327.8,1056.9 328.2,1060.5 328.6,1062.6 329.0,1059.2 329.4,1063.9 329.8,1062.7 330.2,1060.3 330.6,1058.8 331.0,1052.6 331.4,1055.1 331.8,1056.3 332.2,1054.8 332.6,1054.0 333.0,1057.9 333.4,1053.6 333.8,1056.0 334.2,1057.1 334.6,1057.1 335.0,1053.0 335.4,1053.8 335.8,1057.4 336.2,1057.1 336.6,1052.9 337.0,1049.9 337.4,1050.5 337.8,1054.8 338.2,1051.7 338.6,1053.1 339.0,1046.2 339.4,1049.9 339.8,1048.2 340.2,1047.7 340.6,1047.8 341.0,1042.8 341.4,1044.7 341.8,1042.9 342.2,1041.4 342.6,1037.6 343.0,1036.4 343.4,1039.1 343.8,1043.0 344.2,1040.8 344.6,1044.2 345.0,1045.4 345.4,1045.4 345.8,1047.8 346.2,1042.5 346.6,1044.8 347.0,1051.2 347.4,1078.7 347.8,1088.6 348.2,1089.0 348.6,1085.0 349.0,1079.8 349.4,1068.5 349.8,1068.0 350.2,1059.1 350.6,1052.5 351.0,1052.1 351.4,1050.3 351.8,1048.5 352.2,1046.0 352.6,1049.7 353.0,1043.4 353.4,1046.4 353.8,1046.1 354.2,1045.3 354.6,1043.4 355.0,1049.9 355.4,1045.0 355.8,1039.8 356.2,1041.1 356.6,1043.1 357.0,1043.5 357.4,1046.9 357.8,1040.3 358.2,1051.2 358.6,1050.7 359.0,1044.7 359.4,1046.3 359.8,1044.4 360.2,1047.0 360.6,1046.6 361.0,1045.3 361.4,1048.2 361.8,1045.6 362.2,1046.4 362.6,1044.1 363.0,1049.0 363.4,1046.0 363.8,1042.6 364.2,1042.2 364.6,1035.4 365.0,1034.7 365.4,1034.0 365.8,1029.0 366.2,1032.7 366.6,1039.0 367.0,1044.5 367.4,1044.4 367.8,1039.5 368.2,1042.6 368.6,1043.5 369.0,1038.5 369.4,1041.7 369.8,1035.6 370.2,1043.1 370.6,1037.0 371.0,1039.5 371.4,1035.3 371.8,1036.1 372.2,1035.3 372.6,1035.0 373.0,1036.0 373.4,1039.2 373.8,1036.8 374.2,1034.0 374.6,1036.2 375.0,1041.5 375.4,1038.6 375.8,1040.0 376.2,1036.2 376.6,1036.5 377.0,1035.8 377.4,1034.1 377.8,1036.0 378.2,1040.1 378.6,1040.5 379.0,1043.9 379.4,1045.3 379.8,1044.0 380.2,1050.0 380.6,1054.6 381.0,1048.3 381.4,1047.8 381.8,1047.1 382.2,1047.3 382.6,1044.5 383.0,1042.2 383.4,1045.7 383.8,1048.0 384.2,1044.9 384.6,1042.1 385.0,1046.1 385.4,1039.7 385.8,1039.5 386.2,1041.5 386.6,1041.6 387.0,1040.1 387.4,1041.6 387.8,1042.4 388.2,1039.5 388.6,1039.6 389.0,1038.6 389.4,1039.0 389.8,1047.7 390.2,1051.3 390.6,1054.1 391.0,1048.4 391.4,1046.1 391.8,1045.8 392.2,1047.4 392.6,1046.2 393.0,1040.1 393.4,1046.9 393.8,1046.2 394.2,1040.8 394.6,1046.9 395.0,1043.2 395.4,1043.7 395.8,1045.6 396.2,1046.3 396.6,1042.8 397.0,1044.0 397.4,1045.8 397.8,1046.6 398.2,1045.3 398.6,1044.2 399.0,1042.4 399.4,1040.4 399.8,1042.3 400.2,1045.4 400.6,1040.9 401.0,1046.3 401.4,1042.5 401.8,1043.2 402.2,1043.2 402.6,1043.0 403.0,1044.5 403.4,1048.2 403.8,1051.3 404.2,1047.1 404.6,1051.8 405.0,1049.0 405.4,1044.4 405.8,1047.2 406.2,1052.9 406.6,1045.5 407.0,1045.3 407.4,1048.4 407.8,1043.6 408.2,1044.9 408.6,1042.8 409.0,1042.7 409.4,1043.9 409.8,1049.5 410.2,1051.5 410.6,1050.2 411.0,1053.4 411.4,1048.5 411.8,1053.2 412.2,1048.4 412.6,1048.8 413.0,1049.8 413.4,1050.5 413.8,1047.5 414.2,1049.5 414.6,1047.2 415.0,1045.5 415.4,1046.5 415.8,1045.9 416.2,1047.1 416.6,1044.1 417.0,1050.1 417.4,1043.7 417.8,1040.8 418.2,1043.9 418.6,1047.4 419.0,1043.0 419.4,1044.1 419.8,1046.9 420.2,1042.9 420.6,1044.8 421.0,1042.7 421.4,1041.5 421.8,1046.6 422.2,1047.8 422.6,1049.7 423.0,1052.3 423.4,1047.7 423.8,1050.0 424.2,1049.4 424.6,1045.8 425.0,1044.0 425.4,1042.5 425.8,1047.0 426.2,1047.4 426.6,1045.6 427.0,1046.9 427.4,1046.7 427.8,1045.3 428.2,1046.6 428.6,1042.0 429.0,1044.8 429.4,1052.7 429.8,1049.0 430.2,1056.8 430.6,1049.2 431.0,1048.6 431.4,1049.7 431.8,1045.5 432.2,1048.7 432.6,1047.0 433.0,1041.2 433.4,1041.2 433.8,1041.3 434.2,1044.1 434.6,1047.8 435.0,1046.8 435.4,1045.9 435.8,1048.3 436.2,1043.4 436.6,1048.8 437.0,1057.3 437.4,1083.4 437.8,1082.8 438.2,1073.2 438.6,1063.9 439.0,1060.1 439.4,1055.7 439.8,1051.7 440.2,1050.5 440.6,1049.1 441.0,1050.5 441.4,1043.6 441.8,1047.3 442.2,1047.2 442.6,1039.6 443.0,1038.9 443.4,1037.3 443.8,1032.9 444.2,1033.1 444.6,1036.0 445.0,1039.1 445.4,1038.1 445.8,1041.9 446.2,1037.1 446.6,1039.6 447.0,1041.8 447.4,1040.2 447.8,1041.6 448.2,1042.1 448.6,1035.4 449.0,1033.6 449.4,1043.0 449.8,1039.2 450.2,1040.4 450.6,1041.6 451.0,1042.9 451.4,1035.6 451.8,1035.4 452.2,1040.1 452.6,1037.4 453.0,1037.2 453.4,1039.9 453.8,1037.5 454.2,1038.1 454.6,1036.7 455.0,1037.3 455.4,1034.7 455.8,1040.6 456.2,1039.5 456.6,1040.0 457.0,1042.8 457.4,1039.8 457.8,1041.2 458.2,1041.4 458.6,1041.7 459.0,1040.5 459.4,1040.4 459.8,1042.6 460.2,1034.0 460.6,1035.8 461.0,1033.3 461.4,1038.8 461.8,1033.0 462.2,1033.4 462.6,1036.2 463.0,1032.9 463.4,1029.1 463.8,1028.3 464.2,1034.7 464.6,1033.0 465.0,1031.9 465.4,1037.0 465.8,1033.7 466.2,1038.8 466.6,1034.7 467.0,1038.4 467.4,1034.0 467.8,1033.8 468.2,1032.9 468.6,1026.3 469.0,1031.6 469.4,1028.5 469.8,1040.2 470.2,1037.0 470.6,1038.7 471.0,1035.3 471.4,1036.0 471.8,1034.9 472.2,1038.6 472.6,1037.6 473.0,1034.4 473.4,1037.7 473.8,1043.0 474.2,1038.8 474.6,1039.8 475.0,1038.4 475.4,1041.2 475.8,1044.3 476.2,1046.8 476.6,1046.2 477.0,1045.8 477.4,1045.1 477.8,1044.2 478.2,1049.5 478.6,1046.5 479.0,1041.3 479.4,1039.5 479.8,1048.7 480.2,1054.2 480.6,1052.3 481.0,1047.0 481.4,1047.0 481.8,1047.5 482.2,1048.5 482.6,1046.4 483.0,1049.5 483.4,1047.8 483.8,1051.9 484.2,1046.3 484.6,1042.5 485.0,1050.7 485.4,1048.5 485.8,1047.5 486.2,1043.6 486.6,1052.0 487.0,1050.5 487.4,1047.7 487.8,1049.7 488.2,1053.0 488.6,1051.9 489.0,1048.7 489.4,1047.6 489.8,1043.1 490.2,1050.3 490.6,1054.3 491.0,1057.4 491.4,1058.2 491.8,1057.4 492.2,1055.3 492.6,1056.3 493.0,1050.4 493.4,1049.2 493.8,1049.2 494.2,1052.2 494.6,1056.1 495.0,1054.0 495.4,1054.4 495.8,1049.9 496.2,1053.4 496.6,1054.3 497.0,1049.9 497.4,1056.7 497.8,1060.1 498.2,1055.0 498.6,1055.5 499.0,1056.7 499.4,1055.5 499.8,1056.1 500.2,1054.8 500.6,1056.3 501.0,1055.7 501.4,1064.2 501.8,1058.1 502.2,1057.6 502.6,1059.9 503.0,1053.3 503.4,1054.9 503.8,1052.7 504.2,1052.2 504.6,1053.9 505.0,1060.8 505.4,1052.1 505.8,1051.8 506.2,1050.8 506.6,1051.0 507.0,1050.8 507.4,1047.6 507.8,1052.0 508.2,1049.7 508.6,1050.0 509.0,1049.7 509.4,1048.2 509.8,1050.5 510.2,1049.1 510.6,1045.5 511.0,1050.8 511.4,1044.1 511.8,1046.4 512.2,1045.9 512.6,1044.5 513.0,1048.2 513.4,1045.8 513.8,1041.8 514.2,1043.8 514.6,1036.4 515.0,1039.1 515.4,1040.1 515.8,1046.9 516.2,1045.5 516.6,1048.2 517.0,1048.9 517.4,1045.7 517.8,1042.8 518.2,1045.2 518.6,1046.2 519.0,1040.4 519.4,1045.7 519.8,1045.7 520.2,1045.2 520.6,1042.0 521.0,1041.5 521.4,1038.8 521.8,1039.2 522.2,1041.8 522.6,1041.0 523.0,1038.0 523.4,1040.4 523.8,1042.3 524.2,1040.0 524.6,1046.4 525.0,1045.3 525.4,1045.5 525.8,1037.7 526.2,1040.3 526.6,1040.2 527.0,1038.4 527.4,1044.5 527.8,1045.8 528.2,1049.5 528.6,1071.2 529.0,1093.1 529.4,1106.5 529.8,1088.2 530.2,1081.1 530.6,1071.0 531.0,1061.5 531.4,1061.6 531.8,1059.7 532.2,1047.0 532.6,1047.1 533.0,1043.5 533.4,1042.9 533.8,1035.0 534.2,1037.4 534.6,1040.6 535.0,1036.8 535.4,1033.4 535.8,1033.3 536.2,1031.1 536.6,1032.3 537.0,1032.4 537.4,1030.8 537.8,1032.2 538.2,1028.1 538.6,1030.9 539.0,1032.9 539.4,1034.4 539.8,1034.6 540.2,1036.9 540.6,1033.8 541.0,1038.1 541.4,1038.3 541.8,1035.6 542.2,1038.5 542.6,1035.2 543.0,1034.5 543.4,1040.7 543.8,1037.3 544.2,1041.6 544.6,1040.8 545.0,1050.6 545.4,1049.7 545.8,1044.1 546.2,1040.4 546.6,1036.5 547.0,1037.7 547.4,1037.5 547.8,1027.0 548.2,1032.5 548.6,1032.8 549.0,1030.6 549.4,1031.6 549.8,1031.3 550.2,1026.9 550.6,1030.8 551.0,1036.3 551.4,1033.5 551.8,1036.0 552.2,1036.1 552.6,1039.3 553.0,1038.7 553.4,1040.4 553.8,1043.8 554.2,1041.3 554.6,1039.0 555.0,1035.6 555.4,1035.7 555.8,1037.8 556.2,1041.2 556.6,1043.1 557.0,1045.4 557.4,1037.3 557.8,1036.4 558.2,1036.3 558.6,1034.5 559.0,1031.3 559.4,1033.4 559.8,1036.9 560.2,1031.7 560.6,1034.7 561.0,1037.5 561.4,1035.8 561.8,1034.0 562.2,1035.8 562.6,1034.1 563.0,1035.1 563.4,1038.0 563.8,1042.1 564.2,1036.5 564.6,1040.0 565.0,1036.8 565.4,1042.0 565.8,1038.6 566.2,1041.6 566.6,1040.1 567.0,1041.7 567.4,1039.8 567.8,1038.8 568.2,1036.7 568.6,1039.6 569.0,1044.2 569.4,1038.5 569.8,1042.3 570.2,1044.0 570.6,1043.8 571.0,1043.3 571.4,1048.1 571.8,1050.0 572.2,1054.7 572.6,1051.9 573.0,1050.6 573.4,1049.7 573.8,1056.0 574.2,1052.2 574.6,1045.4 575.0,1049.2 575.4,1052.6 575.8,1049.0 576.2,1051.1 576.6,1046.8 577.0,1044.5 577.4,1044.0 577.8,1041.9 578.2,1044.8 578.6,1045.4 579.0,1047.8 579.4,1050.4 579.8,1045.9 580.2,1045.6 580.6,1045.1 581.0,1042.3 581.4,1049.9 581.8,1048.5 582.2,1047.2 582.6,1051.2 583.0,1048.6 583.4,1045.9 583.8,1052.7 584.2,1049.8 584.6,1048.5 585.0,1047.6 585.4,1044.2 585.8,1041.4 586.2,1040.9 586.6,1040.0 587.0,1047.2 587.4,1042.0 587.8,1050.0 588.2,1049.6 588.6,1047.0 589.0,1044.2 589.4,1037.0 589.8,1039.0 590.2,1051.7 590.6,1048.3 591.0,1043.1 591.4,1047.6 591.8,1045.0 592.2,1040.3 592.6,1044.0 593.0,1041.7 593.4,1047.7 593.8,1047.6 594.2,1049.4 594.6,1049.3 595.0,1048.3 595.4,1048.1 595.8,1050.9 596.2,1048.5 596.6,1052.8 597.0,1053.0 597.4,1051.2 597.8,1046.7 598.2,1047.7 598.6,1047.6 599.0,1049.2 599.4,1050.4 599.8,1049.9 600.2,1057.1 600.6,1050.1 601.0,1055.5 601.4,1052.6 601.8,1046.5 602.2,1049.0 602.6,1052.1 603.0,1044.9 603.4,1046.1 603.8,1045.3 604.2,1044.9 604.6,1047.8 605.0,1045.2 605.4,1046.9 605.8,1048.3 606.2,1047.8 606.6,1048.3 607.0,1043.4 607.4,1047.2 607.8,1051.0 608.2,1050.3 608.6,1054.6 609.0,1051.9 609.4,1052.1 609.8,1046.6 610.2,1045.5 610.6,1050.2 611.0,1039.8 611.4,1048.3 611.8,1046.7 612.2,1047.5 612.6,1047.1 613.0,1048.6 613.4,1047.1 613.8,1044.9 614.2,1044.2 614.6,1049.6 615.0,1043.1 615.4,1040.4 615.8,1041.9 616.2,1038.3 616.6,1039.7 617.0,1043.2 617.4,1041.2 617.8,1039.1 618.2,1040.6 618.6,1042.6 619.0,1040.8 619.4,1042.7 619.8,1045.9 620.2,1047.4 620.6,1046.8 621.0,1039.5 621.4,1042.1 621.8,1045.4 622.2,1044.6 622.6,1046.8 623.0,1055.1 623.4,1088.9 623.8,1083.9 624.2,1078.1 624.6,1065.3 625.0,1060.3 625.4,1054.1 625.8,1052.5 626.2,1048.5 626.6,1047.1 627.0,1049.2 627.4,1046.0 627.8,1043.2 628.2,1048.0 628.6,1049.5 629.0,1044.5 629.4,1045.1 629.8,1043.3 630.2,1046.0 630.6,1041.5 631.0,1040.6 631.4,1040.1 631.8,1037.3 632.2,1039.4 632.6,1036.6 633.0,1039.9 633.4,1042.0 633.8,1044.3 634.2,1046.4 634.6,1044.6 635.0,1043.4 635.4,1039.1 635.8,1044.2 636.2,1042.7 636.6,1040.7 637.0,1036.2 637.4,1039.1 637.8,1037.7 638.2,1040.3 638.6,1042.5 639.0,1043.0 639.4,1042.8 639.8,1040.4 640.2,1037.9 640.6,1040.3 641.0,1039.4 641.4,1040.2 641.8,1036.6 642.2,1040.7 642.6,1043.3 643.0,1041.1 643.4,1042.2 643.8,1045.8 644.2,1042.9 644.6,1049.8 645.0,1045.8 645.4,1040.9 645.8,1046.3 646.2,1048.2 646.6,1047.0 647.0,1045.2 647.4,1046.0 647.8,1049.0 648.2,1051.3 648.6,1049.4 649.0,1044.7 649.4,1050.9 649.8,1046.2 650.2,1046.8 650.6,1044.9 651.0,1043.9 651.4,1043.8 651.8,1042.8 652.2,1040.4 652.6,1042.0 653.0,1042.4 653.4,1051.8 653.8,1049.4 654.2,1048.5 654.6,1047.6 655.0,1049.9 655.4,1046.1 655.8,1047.9 656.2,1048.7 656.6,1051.1 657.0,1048.4 657.4,1049.3 657.8,1046.2 658.2,1049.9 658.6,1045.1 659.0,1043.8 659.4,1041.3 659.8,1047.9 660.2,1041.0 660.6,1050.6 661.0,1060.8 661.4,1063.8 661.8,1064.1 662.2,1051.3 662.6,1046.1 663.0,1041.4 663.4,1042.3 663.8,1043.1 664.2,1039.0 664.6,1038.8 665.0,1036.9 665.4,1037.1 665.8,1041.9 666.2,1043.5 666.6,1045.1 667.0,1046.6 667.4,1047.7 667.8,1048.4 668.2,1047.6 668.6,1045.0 669.0,1044.6 669.4,1047.2 669.8,1051.8 670.2,1046.4 670.6,1052.0 671.0,1054.3 671.4,1049.7 671.8,1045.1 672.2,1044.6 672.6,1040.0 673.0,1039.6 673.4,1042.2 673.8,1042.3 674.2,1042.0 674.6,1042.2 675.0,1040.0 675.4,1035.7 675.8,1033.9 676.2,1038.0 676.6,1033.8 677.0,1033.2 677.4,1040.1 677.8,1036.7 678.2,1041.5 678.6,1040.9 679.0,1044.7 679.4,1042.1 679.8,1042.0 680.2,1043.4 680.6,1047.5 681.0,1051.7 681.4,1056.0 681.8,1059.3 682.2,1058.1 682.6,1050.7 683.0,1050.1 683.4,1054.3 683.8,1054.6 684.2,1058.4 684.6,1057.4 685.0,1055.3 685.4,1057.1 685.8,1057.8 686.2,1055.2 686.6,1055.7 687.0,1052.8 687.4,1052.1 687.8,1053.1 688.2,1048.9 688.6,1054.2 689.0,1051.9 689.4,1052.7 689.8,1051.9 690.2,1051.7 690.6,1047.2 691.0,1045.9 691.4,1045.1 691.8,1042.2 692.2,1045.8 692.6,1051.7 693.0,1052.1 693.4,1048.2 693.8,1048.8 694.2,1049.8 694.6,1049.5 695.0,1042.6 695.4,1046.2 695.8,1049.7 696.2,1050.0 696.6,1048.8 697.0,1051.5 697.4,1044.1 697.8,1041.6 698.2,1043.9 698.6,1041.4 699.0,1047.8 699.4,1045.1 699.8,1038.3 700.2,1037.1 700.6,1042.5 701.0,1040.6 701.4,1039.6 701.8,1041.4 702.2,1043.0 702.6,1046.3 703.0,1042.5 703.4,1040.6 703.8,1047.3 704.2,1041.4 704.6,1044.2 705.0,1041.4 705.4,1044.3 705.8,1044.6 706.2,1045.0 706.6,1045.4 707.0,1044.3 707.4,1047.2 707.8,1051.0 708.2,1049.4 708.6,1051.4 709.0,1048.3 709.4,1047.6 709.8,1046.7 710.2,1048.9 710.6,1048.0 711.0,1047.6 711.4,1046.6 711.8,1048.0 712.2,1046.2 712.6,1046.1 713.0,1046.7 713.4,1042.6 713.8,1045.0 714.2,1044.3 714.6,1040.7 715.0,1047.1 715.4,1045.0 715.8,1047.7 716.2,1037.9 716.6,1036.3 717.0,1038.0 717.4,1039.5 717.8,1037.9 718.2,1040.5 718.6,1045.1 719.0,1048.7 719.4,1043.7 719.8,1036.4 720.2,1037.2 720.6,1038.4 721.0,1048.4 721.4,1042.2 721.8,1045.7 722.2,1047.9 722.6,1044.7 723.0,1046.2 723.4,1050.8 723.8,1048.9 724.2,1049.2 724.6,1049.5 725.0,1049.7 725.4,1043.8 725.8,1041.3 726.2,1044.4 726.6,1045.2 727.0,1046.0 727.4,1044.9 727.8,1046.2 728.2,1045.4 728.6,1050.9 729.0,1046.9 729.4,1045.3 729.8,1044.5 730.2,1043.6 730.6,1046.0 731.0,1042.7 731.4,1046.8 731.8,1050.5 732.2,1049.1 732.6,1054.2 733.0,1046.9 733.4,1047.9 733.8,1047.7 734.2,1048.9 734.6,1049.4 735.0,1047.9 735.4,1047.4 735.8,1042.1 736.2,1048.1 736.6,1046.3 737.0,1047.9 737.4,1047.8 737.8,1054.0 738.2,1051.1 738.6,1051.3 739.0,1051.8 739.4,1054.0 739.8,1054.1 740.2,1055.2 740.6,1052.0 741.0,1058.8 741.4,1054.4 741.8,1054.1 742.2,1056.3 742.6,1052.0 743.0,1054.1 743.4,1051.0 743.8,1058.5 744.2,1053.5 744.6,1051.7 745.0,1053.7 745.4,1054.3 745.8,1056.2 746.2,1055.2 746.6,1051.7 747.0,1050.5 747.4,1051.5 747.8,1049.5 748.2,1055.6 748.6,1050.5 749.0,1051.5 749.4,1051.5 749.8,1046.0 750.2,1049.1 750.6,1053.8 751.0,1056.9 751.4,1047.8 751.8,1050.6 752.2,1049.2 752.6,1047.3 753.0,1050.4 753.4,1051.3 753.8,1051.3 754.2,1054.6 754.6,1051.4 755.0,1046.2 755.4,1048.0 755.8,1053.2 756.2,1047.2 756.6,1045.4 757.0,1051.1 757.4,1053.9 757.8,1054.1 758.2,1052.6 758.6,1052.0 759.0,1059.3 759.4,1054.8 759.8,1054.8 760.2,1054.9 760.6,1056.8 761.0,1049.0 761.4,1058.3 761.8,1057.9 762.2,1055.4 762.6,1052.8 763.0,1054.2 763.4,1060.6 763.8,1053.7 764.2,1052.7 764.6,1052.2 765.0,1063.1 765.4,1063.1 765.8,1057.2 766.2,1056.7 766.6,1054.4 767.0,1051.4 767.4,1046.3 767.8,1052.6 768.2,1048.7 768.6,1048.2 769.0,1048.9 769.4,1048.1 769.8,1043.5 770.2,1043.4 770.6,1041.2 771.0,1043.8 771.4,1042.1 771.8,1042.1 772.2,1041.2 772.6,1046.7 773.0,1039.9 773.4,1042.5 773.8,1040.9 774.2,1039.3 774.6,1041.8 775.0,1040.9 775.4,1044.0 775.8,1045.4 776.2,1049.1 776.6,1049.3 777.0,1052.3 777.4,1047.3 777.8,1046.7 778.2,1046.7 778.6,1046.0 779.0,1049.2 779.4,1046.4 779.8,1045.5 780.2,1042.7 780.6,1043.9 781.0,1049.1 781.4,1041.1 781.8,1043.3 782.2,1040.8 782.6,1039.1 783.0,1035.1 783.4,1039.2 783.8,1039.6 784.2,1030.8 784.6,1036.9 785.0,1041.8 785.4,1040.9 785.8,1038.8 786.2,1038.6 786.6,1039.1 787.0,1037.4 787.4,1037.2 787.8,1036.3 788.2,1035.8 788.6,1039.8 789.0,1034.9 789.4,1042.9 789.8,1035.2 790.2,1036.6 790.6,1033.0 791.0,1030.7 791.4,1027.0 791.8,1026.7 792.2,1030.0 792.6,1030.4 793.0,1034.7 793.4,1034.5 793.8,1035.9 794.2,1040.3 794.6,1047.5 795.0,1039.1 795.4,1040.9 795.8,1041.2 796.2,1037.7 796.6,1042.1 797.0,1045.1 797.4,1044.0 797.8,1046.4 798.2,1043.4 798.6,1045.3 799.0,1045.9 799.4,1044.6 799.8,1034.9 800.2,1044.1 800.6,1041.4 801.0,1039.7 801.4,1043.4 801.8,1042.6 802.2,1040.0 802.6,1037.4 803.0,1043.8 803.4,1044.7 803.8,1047.5 804.2,1043.2 804.6,1049.1 805.0,1044.8 805.4,1043.6 805.8,1045.9 806.2,1044.7 806.6,1043.9 807.0,1047.4 807.4,1042.4 807.8,1038.2 808.2,1039.2 808.6,1044.0 809.0,1045.3 809.4,1044.6 809.8,1043.8 810.2,1042.9 810.6,1043.1 811.0,1043.7 811.4,1044.9 811.8,1043.3 812.2,1040.6 812.6,1043.5 813.0,1041.4 813.4,1045.6 813.8,1044.7 814.2,1044.3 814.6,1044.3 815.0,1039.7 815.4,1042.1 815.8,1036.9 816.2,1040.1 816.6,1041.9 817.0,1039.8 817.4,1033.5 817.8,1034.9 818.2,1038.0 818.6,1044.7 819.0,1044.9 819.4,1051.1 819.8,1047.3 820.2,1049.3 820.6,1053.6 821.0,1046.7 821.4,1042.5 821.8,1042.0 822.2,1042.4 822.6,1046.4 823.0,1044.2 823.4,1050.7 823.8,1047.9 824.2,1053.7 824.6,1051.8 825.0,1049.6 825.4,1046.7 825.8,1047.4 826.2,1049.9 826.6,1049.8 827.0,1049.8 827.4,1046.0 827.8,1043.2 828.2,1045.1 828.6,1042.5 829.0,1038.6 829.4,1045.0 829.8,1039.7 830.2,1045.5 830.6,1046.0 831.0,1043.2 831.4,1042.3 831.8,1044.5 832.2,1045.1 832.6,1039.3 833.0,1037.9 833.4,1043.4 833.8,1042.0 834.2,1042.2 834.6,1050.4 835.0,1052.6 835.4,1050.1 835.8,1049.4 836.2,1045.7 836.6,1045.3 837.0,1048.0 837.4,1045.5 837.8,1043.6 838.2,1042.2 838.6,1036.6 839.0,1041.8 839.4,1040.3 839.8,1043.3 840.2,1045.0 840.6,1041.7 841.0,1040.7 841.4,1045.2 841.8,1044.3 842.2,1043.3 842.6,1042.8 843.0,1045.2 843.4,1043.7 843.8,1044.8 844.2,1047.2 844.6,1047.3 845.0,1043.6 845.4,1041.5 845.8,1036.9 846.2,1041.6 846.6,1042.2 847.0,1049.1 847.4,1046.7 847.8,1045.5 848.2,1044.9 848.6,1042.1 849.0,1038.9 849.4,1044.2 849.8,1042.1 850.2,1041.2 850.6,1038.3 851.0,1046.8 851.4,1043.7 851.8,1042.6 852.2,1038.3 852.6,1040.1 853.0,1042.3 853.4,1036.2 853.8,1039.5 854.2,1035.3 854.6,1039.2 855.0,1041.0 855.4,1036.3 855.8,1035.7 856.2,1037.3 856.6,1036.6 856.6,1045.8 856.2,1047.7 855.8,1044.2 855.4,1043.4 855.0,1046.8 854.6,1045.8 854.2,1043.0 853.8,1049.8 853.4,1046.4 853.0,1049.5 852.6,1051.9 852.2,1044.4 851.8,1047.9 851.4,1051.7 851.0,1050.6 850.6,1049.0 850.2,1048.0 849.8,1047.2 849.4,1046.8 849.0,1045.6 848.6,1045.8 848.2,1048.8 847.8,1049.6 847.4,1055.0 847.0,1061.4 846.6,1051.8 846.2,1051.7 845.8,1046.9 845.4,1046.1 845.0,1051.1 844.6,1053.0 844.2,1056.6 843.8,1054.0 843.4,1051.1 843.0,1055.0 842.6,1049.3 842.2,1046.9 841.8,1052.7 841.4,1052.6 841.0,1051.5 840.6,1050.1 840.2,1053.4 839.8,1049.3 839.4,1046.4 839.0,1045.9 838.6,1046.3 838.2,1051.9 837.8,1050.2 837.4,1048.0 837.0,1056.4 836.6,1054.9 836.2,1050.2 835.8,1053.0 835.4,1055.2 835.0,1057.3 834.6,1058.2 834.2,1052.7 833.8,1056.6 833.4,1049.7 833.0,1051.9 832.6,1051.6 832.2,1049.9 831.8,1049.6 831.4,1047.4 831.0,1052.9 830.6,1054.1 830.2,1050.3 829.8,1053.7 829.4,1052.1 829.0,1056.8 828.6,1054.8 828.2,1050.8 827.8,1051.1 827.4,1054.3 827.0,1054.4 826.6,1062.4 826.2,1056.6 825.8,1056.9 825.4,1056.5 825.0,1054.5 824.6,1058.3 824.2,1059.8 823.8,1058.1 823.4,1055.6 823.0,1055.8 822.6,1050.9 822.2,1049.5 821.8,1051.9 821.4,1051.5 821.0,1053.6 820.6,1059.6 820.2,1058.5 819.8,1054.6 819.4,1057.8 819.0,1054.5 818.6,1049.0 818.2,1051.4 817.8,1046.3 817.4,1046.7 817.0,1050.0 816.6,1048.1 816.2,1047.9 815.8,1051.7 815.4,1050.6 815.0,1051.6 814.6,1052.6 814.2,1052.8 813.8,1054.5 813.4,1053.3 813.0,1049.2 812.6,1053.2 812.2,1050.1 811.8,1052.2 811.4,1050.4 811.0,1049.3 810.6,1051.8 810.2,1050.3 809.8,1050.5 809.4,1053.8 809.0,1050.6 808.6,1051.6 808.2,1051.5 807.8,1049.5 807.4,1049.5 807.0,1051.0 806.6,1054.9 806.2,1050.6 805.8,1048.5 805.4,1050.5 805.0,1054.2 804.6,1056.9 804.2,1053.6 803.8,1051.8 803.4,1054.1 803.0,1049.6 802.6,1049.3 802.2,1054.3 801.8,1054.1 801.4,1049.2 801.0,1052.9 800.6,1045.8 800.2,1051.9 799.8,1050.2 799.4,1051.2 799.0,1053.4 798.6,1053.0 798.2,1053.6 797.8,1055.9 797.4,1053.2 797.0,1048.0 796.6,1049.9 796.2,1047.9 795.8,1049.7 795.4,1049.1 795.0,1048.5 794.6,1055.7 794.2,1047.8 793.8,1043.1 793.4,1042.2 793.0,1046.5 792.6,1038.6 792.2,1037.7 791.8,1033.9 791.4,1032.1 791.0,1037.1 790.6,1041.6 790.2,1041.1 789.8,1042.9 789.4,1047.7 789.0,1046.7 788.6,1048.2 788.2,1045.3 787.8,1043.2 787.4,1044.3 787.0,1046.4 786.6,1044.0 786.2,1046.4 785.8,1046.0 785.4,1045.1 785.0,1051.1 784.6,1044.2 784.2,1045.3 783.8,1046.1 783.4,1050.3 783.0,1039.2 782.6,1053.2 782.2,1047.0 781.8,1047.2 781.4,1049.1 781.0,1055.8 780.6,1055.2 780.2,1053.3 779.8,1056.9 779.4,1056.9 779.0,1053.6 778.6,1050.0 778.2,1052.9 777.8,1054.9 777.4,1055.1 777.0,1059.7 776.6,1053.7 776.2,1055.6 775.8,1054.4 775.4,1053.6 775.0,1048.4 774.6,1048.5 774.2,1045.3 773.8,1051.2 773.4,1044.4 773.0,1050.3 772.6,1051.9 772.2,1055.5 771.8,1050.8 771.4,1053.4 771.0,1047.8 770.6,1050.1 770.2,1051.8 769.8,1048.3 769.4,1057.7 769.0,1052.6 768.6,1053.8 768.2,1058.1 767.8,1058.7 767.4,1057.4 767.0,1060.3 766.6,1061.3 766.2,1063.2 765.8,1068.1 765.4,1065.9 765.0,1069.5 764.6,1063.1 764.2,1062.9 763.8,1066.5 763.4,1072.1 763.0,1068.4 762.6,1061.7 762.2,1062.9 761.8,1063.4 761.4,1063.1 761.0,1060.6 760.6,1063.5 760.2,1064.5 759.8,1060.2 759.4,1062.8 759.0,1066.5 758.6,1061.4 758.2,1059.9 757.8,1062.0 757.4,1060.8 757.0,1059.3 756.6,1054.3 756.2,1053.2 755.8,1058.7 755.4,1054.8 755.0,1055.4 754.6,1057.6 754.2,1058.2 753.8,1060.8 753.4,1058.8 753.0,1060.2 752.6,1057.5 752.2,1064.5 751.8,1060.6 751.4,1058.5 751.0,1061.4 750.6,1057.5 750.2,1058.8 749.8,1057.3 749.4,1058.2 749.0,1060.3 748.6,1056.3 748.2,1062.6 747.8,1056.6 747.4,1060.7 747.0,1059.4 746.6,1058.7 746.2,1061.2 745.8,1061.9 745.4,1060.9 745.0,1063.8 744.6,1065.1 744.2,1063.5 743.8,1061.3 743.4,1058.8 743.0,1061.3 742.6,1063.8 742.2,1062.3 741.8,1061.6 741.4,1062.8 741.0,1064.8 740.6,1061.3 740.2,1061.5 739.8,1065.3 739.4,1058.3 739.0,1064.5 738.6,1059.0 738.2,1057.8 737.8,1058.8 737.4,1056.3 737.0,1053.0 736.6,1059.7 736.2,1053.1 735.8,1054.7 735.4,1055.4 735.0,1053.9 734.6,1055.7 734.2,1059.5 733.8,1059.7 733.4,1056.7 733.0,1056.2 732.6,1058.2 732.2,1054.2 731.8,1057.0 731.4,1055.7 731.0,1060.7 730.6,1054.9 730.2,1052.1 729.8,1052.8 729.4,1052.4 729.0,1056.1 728.6,1055.0 728.2,1051.5 727.8,1055.2 727.4,1056.5 727.0,1050.8 726.6,1054.0 726.2,1049.6 725.8,1051.6 725.4,1051.6 725.0,1056.4 724.6,1055.6 724.2,1054.6 723.8,1060.7 723.4,1057.4 723.0,1054.1 722.6,1052.5 722.2,1053.9 721.8,1055.2 721.4,1051.8 721.0,1056.6 720.6,1050.7 720.2,1056.7 719.8,1052.2 719.4,1055.0 719.0,1055.2 718.6,1053.4 718.2,1047.9 717.8,1046.3 717.4,1047.5 717.0,1045.1 716.6,1044.0 716.2,1052.5 715.8,1049.6 715.4,1056.3 715.0,1052.7 714.6,1048.7 714.2,1050.4 713.8,1051.4 713.4,1048.3 713.0,1051.8 712.6,1052.6 712.2,1053.6 711.8,1057.4 711.4,1053.7 711.0,1056.3 710.6,1057.5 710.2,1058.7 709.8,1060.8 709.4,1056.3 709.0,1056.9 708.6,1058.1 708.2,1062.7 707.8,1055.0 707.4,1054.2 707.0,1054.2 706.6,1054.8 706.2,1049.8 705.8,1049.9 705.4,1051.0 705.0,1050.7 704.6,1050.9 704.2,1049.9 703.8,1054.7 703.4,1047.3 703.0,1057.3 702.6,1051.6 702.2,1051.0 701.8,1053.8 701.4,1043.9 701.0,1048.2 700.6,1049.0 700.2,1050.0 699.8,1051.2 699.4,1052.5 699.0,1054.0 698.6,1048.6 698.2,1049.9 697.8,1047.2 697.4,1056.5 697.0,1058.1 696.6,1055.8 696.2,1056.1 695.8,1060.3 695.4,1052.7 695.0,1050.2 694.6,1056.5 694.2,1061.1 693.8,1060.3 693.4,1054.6 693.0,1058.3 692.6,1057.0 692.2,1053.9 691.8,1048.5 691.4,1053.6 691.0,1054.7 690.6,1059.1 690.2,1064.1 689.8,1059.1 689.4,1058.6 689.0,1057.6 688.6,1058.4 688.2,1057.6 687.8,1059.4 687.4,1059.8 687.0,1065.2 686.6,1061.6 686.2,1064.6 685.8,1061.0 685.4,1062.0 685.0,1065.9 684.6,1063.4 684.2,1067.0 683.8,1061.5 683.4,1061.6 683.0,1059.7 682.6,1066.5 682.2,1064.7 681.8,1065.2 681.4,1061.8 681.0,1059.8 680.6,1056.3 680.2,1056.1 679.8,1051.3 679.4,1051.7 679.0,1055.8 678.6,1049.4 678.2,1049.2 677.8,1045.8 677.4,1049.0 677.0,1040.9 676.6,1045.7 676.2,1041.8 675.8,1042.8 675.4,1043.8 675.0,1044.4 674.6,1047.5 674.2,1048.3 673.8,1049.9 673.4,1049.8 673.0,1047.6 672.6,1046.4 672.2,1048.5 671.8,1052.6 671.4,1056.1 671.0,1059.1 670.6,1057.9 670.2,1057.3 669.8,1056.6 669.4,1053.3 669.0,1051.9 668.6,1051.9 668.2,1052.0 667.8,1055.2 667.4,1058.5 667.0,1055.0 666.6,1052.5 666.2,1052.4 665.8,1047.5 665.4,1044.3 665.0,1050.3 664.6,1050.2 664.2,1047.0 663.8,1053.3 663.4,1050.6 663.0,1054.9 662.6,1059.6 662.2,1066.5 661.8,1068.4 661.4,1080.4 661.0,1086.7 660.6,1060.8 660.2,1051.7 659.8,1055.5 659.4,1049.7 659.0,1051.6 658.6,1050.3 658.2,1052.8 657.8,1053.7 657.4,1056.0 657.0,1056.2 656.6,1056.0 656.2,1059.0 655.8,1056.8 655.4,1053.8 655.0,1059.0 654.6,1055.1 654.2,1052.8 653.8,1057.5 653.4,1057.8 653.0,1052.0 652.6,1049.4 652.2,1051.2 651.8,1052.0 651.4,1047.4 651.0,1052.5 650.6,1054.0 650.2,1056.6 649.8,1052.2 649.4,1062.6 649.0,1055.8 648.6,1054.9 648.2,1056.8 647.8,1058.9 647.4,1057.7 647.0,1049.8 646.6,1061.1 646.2,1058.4 645.8,1054.4 645.4,1053.7 645.0,1056.2 644.6,1054.6 644.2,1049.8 643.8,1051.2 643.4,1050.8 643.0,1044.4 642.6,1049.0 642.2,1048.6 641.8,1043.6 641.4,1046.8 641.0,1046.8 640.6,1044.7 640.2,1047.0 639.8,1047.6 639.4,1055.5 639.0,1048.2 638.6,1046.3 638.2,1051.5 637.8,1047.7 637.4,1049.2 637.0,1042.6 636.6,1052.1 636.2,1048.0 635.8,1057.1 635.4,1044.5 635.0,1052.6 634.6,1055.7 634.2,1054.6 633.8,1048.6 633.4,1051.5 633.0,1043.3 632.6,1043.4 632.2,1045.8 631.8,1048.0 631.4,1048.9 631.0,1046.3 630.6,1049.4 630.2,1051.1 629.8,1053.2 629.4,1053.5 629.0,1052.0 628.6,1054.6 628.2,1051.0 627.8,1053.1 627.4,1056.0 627.0,1055.3 626.6,1053.3 626.2,1059.3 625.8,1057.4 625.4,1060.7 625.0,1067.5 624.6,1081.1 624.2,1085.9 623.8,1105.0 623.4,1105.6 623.0,1088.9 622.6,1055.1 622.2,1051.5 621.8,1048.4 621.4,1051.6 621.0,1052.1 620.6,1052.1 620.2,1055.1 619.8,1055.4 619.4,1050.0 619.0,1047.3 618.6,1049.7 618.2,1050.6 617.8,1045.2 617.4,1050.1 617.0,1047.5 616.6,1048.2 616.2,1046.0 615.8,1054.2 615.4,1045.5 615.0,1054.9 614.6,1061.0 614.2,1051.6 613.8,1056.1 613.4,1052.6 613.0,1054.6 612.6,1058.8 612.2,1053.1 611.8,1050.5 611.4,1052.2 611.0,1053.9 610.6,1056.8 610.2,1058.7 609.8,1052.5 609.4,1057.9 609.0,1059.4 608.6,1062.9 608.2,1056.7 607.8,1054.3 607.4,1054.5 607.0,1055.0 606.6,1054.7 606.2,1055.7 605.8,1052.3 605.4,1056.6 605.0,1054.4 604.6,1055.5 604.2,1051.1 603.8,1053.3 603.4,1049.9 603.0,1056.8 602.6,1059.8 602.2,1055.2 601.8,1052.6 601.4,1058.2 601.0,1061.4 600.6,1057.1 600.2,1060.2 599.8,1057.5 599.4,1059.0 599.0,1054.6 598.6,1053.7 598.2,1055.7 597.8,1059.9 597.4,1059.4 597.0,1058.4 596.6,1063.0 596.2,1052.8 595.8,1059.4 595.4,1062.2 595.0,1058.7 594.6,1058.1 594.2,1056.8 593.8,1055.6 593.4,1050.3 593.0,1049.5 592.6,1056.4 592.2,1057.9 591.8,1053.5 591.4,1053.7 591.0,1049.9 590.6,1055.4 590.2,1062.0 589.8,1062.8 589.4,1052.4 589.0,1052.7 588.6,1053.5 588.2,1054.1 587.8,1055.1 587.4,1052.7 587.0,1052.4 586.6,1047.2 586.2,1053.5 585.8,1049.4 585.4,1053.4 585.0,1056.0 584.6,1054.9 584.2,1053.8 583.8,1059.1 583.4,1056.8 583.0,1060.3 582.6,1061.3 582.2,1055.6 581.8,1059.0 581.4,1054.1 581.0,1052.6 580.6,1056.8 580.2,1050.4 579.8,1054.5 579.4,1057.9 579.0,1054.2 578.6,1054.0 578.2,1051.1 577.8,1052.2 577.4,1053.3 577.0,1055.0 576.6,1056.1 576.2,1063.2 575.8,1058.5 575.4,1057.5 575.0,1059.8 574.6,1060.0 574.2,1057.8 573.8,1062.9 573.4,1062.7 573.0,1061.1 572.6,1058.1 572.2,1060.3 571.8,1055.4 571.4,1056.4 571.0,1053.5 570.6,1050.9 570.2,1049.9 569.8,1050.0 569.4,1054.2 569.0,1050.7 568.6,1056.8 568.2,1048.5 567.8,1047.8 567.4,1046.0 567.0,1047.5 566.6,1048.9 566.2,1046.1 565.8,1044.7 565.4,1046.5 565.0,1051.7 564.6,1045.3 564.2,1044.3 563.8,1051.7 563.4,1048.6 563.0,1045.3 562.6,1043.0 562.2,1043.8 561.8,1042.1 561.4,1040.5 561.0,1046.6 560.6,1043.4 560.2,1043.7 559.8,1045.3 559.4,1043.4 559.0,1045.3 558.6,1043.5 558.2,1042.8 557.8,1045.5 557.4,1047.3 557.0,1048.1 556.6,1052.6 556.2,1055.6 555.8,1046.1 555.4,1049.1 555.0,1043.2 554.6,1044.2 554.2,1048.1 553.8,1052.7 553.4,1047.3 553.0,1048.7 552.6,1046.9 552.2,1044.0 551.8,1042.2 551.4,1040.8 551.0,1043.7 550.6,1043.4 550.2,1035.5 549.8,1037.3 549.4,1041.7 549.0,1039.6 548.6,1038.8 548.2,1038.3 547.8,1040.8 547.4,1044.3 547.0,1041.9 546.6,1048.8 546.2,1047.1 545.8,1052.9 545.4,1057.5 545.0,1055.3 544.6,1054.8 544.2,1049.2 543.8,1043.8 543.4,1045.7 543.0,1045.1 542.6,1040.4 542.2,1046.7 541.8,1045.8 541.4,1044.9 541.0,1046.8 540.6,1047.2 540.2,1044.8 539.8,1045.2 539.4,1045.0 539.0,1042.2 538.6,1038.4 538.2,1038.7 537.8,1037.9 537.4,1037.3 537.0,1038.8 536.6,1038.3 536.2,1036.5 535.8,1040.2 535.4,1040.8 535.0,1046.7 534.6,1043.8 534.2,1044.0 533.8,1047.5 533.4,1049.4 533.0,1053.6 532.6,1056.1 532.2,1062.7 531.8,1064.2 531.4,1068.8 531.0,1071.0 530.6,1081.1 530.2,1088.2 529.8,1109.9 529.4,1117.4 529.0,1115.2 528.6,1093.1 528.2,1071.2 527.8,1051.7 527.4,1051.1 527.0,1054.4 526.6,1049.6 526.2,1049.9 525.8,1052.3 525.4,1050.5 525.0,1053.3 524.6,1050.1 524.2,1048.2 523.8,1048.1 523.4,1049.5 523.0,1048.0 522.6,1045.6 522.2,1048.5 521.8,1049.3 521.4,1047.5 521.0,1048.2 520.6,1049.5 520.2,1051.1 519.8,1055.6 519.4,1054.7 519.0,1050.5 518.6,1050.9 518.2,1052.6 517.8,1049.9 517.4,1050.4 517.0,1058.1 516.6,1059.0 516.2,1049.2 515.8,1053.5 515.4,1054.5 515.0,1047.4 514.6,1048.8 514.2,1054.1 513.8,1050.7 513.4,1053.0 513.0,1059.4 512.6,1056.3 512.2,1056.5 511.8,1054.6 511.4,1053.1 511.0,1055.4 510.6,1057.5 510.2,1053.6 509.8,1055.2 509.4,1057.4 509.0,1056.0 508.6,1056.6 508.2,1056.8 507.8,1058.4 507.4,1054.0 507.0,1054.8 506.6,1056.0 506.2,1065.5 505.8,1055.7 505.4,1066.4 505.0,1074.7 504.6,1064.6 504.2,1056.2 503.8,1062.9 503.4,1065.3 503.0,1063.1 502.6,1066.1 502.2,1064.0 501.8,1067.6 501.4,1070.1 501.0,1067.7 500.6,1061.2 500.2,1061.3 499.8,1070.2 499.4,1068.7 499.0,1064.9 498.6,1063.5 498.2,1065.9 497.8,1064.7 497.4,1066.4 497.0,1059.5 496.6,1063.1 496.2,1065.2 495.8,1062.9 495.4,1064.3 495.0,1062.1 494.6,1061.7 494.2,1058.5 493.8,1056.1 493.4,1060.1 493.0,1065.1 492.6,1061.9 492.2,1059.9 491.8,1063.8 491.4,1064.8 491.0,1065.1 490.6,1062.8 490.2,1057.6 489.8,1053.0 489.4,1053.7 489.0,1055.6 488.6,1057.8 488.2,1062.1 487.8,1065.6 487.4,1055.8 487.0,1054.5 486.6,1056.8 486.2,1053.7 485.8,1049.3 485.4,1053.4 485.0,1053.5 484.6,1051.3 484.2,1051.9 483.8,1055.6 483.4,1055.2 483.0,1057.9 482.6,1055.8 482.2,1054.0 481.8,1054.9 481.4,1052.9 481.0,1054.0 480.6,1057.6 480.2,1062.8 479.8,1059.7 479.4,1053.5 479.0,1053.4 478.6,1053.3 478.2,1053.0 477.8,1050.2 477.4,1052.8 477.0,1052.8 476.6,1051.0 476.2,1057.3 475.8,1050.9 475.4,1049.8 475.0,1048.8 474.6,1045.5 474.2,1043.5 473.8,1046.2 473.4,1045.0 473.0,1044.4 472.6,1049.4 472.2,1047.1 471.8,1047.2 471.4,1043.6 471.0,1043.7 470.6,1044.6 470.2,1041.6 469.8,1043.6 469.4,1040.6 469.0,1036.9 468.6,1037.6 468.2,1037.1 467.8,1042.7 467.4,1044.0 467.0,1044.8 466.6,1040.6 466.2,1045.6 465.8,1048.4 465.4,1041.0 465.0,1038.0 464.6,1038.4 464.2,1039.6 463.8,1042.9 463.4,1036.5 463.0,1038.3 462.6,1041.9 462.2,1041.1 461.8,1038.8 461.4,1045.8 461.0,1046.0 460.6,1045.8 460.2,1047.4 459.8,1049.0 459.4,1048.2 459.0,1045.5 458.6,1049.3 458.2,1045.1 457.8,1047.6 457.4,1048.7 457.0,1050.0 456.6,1044.5 456.2,1047.2 455.8,1046.8 455.4,1044.0 455.0,1049.1 454.6,1043.6 454.2,1040.7 453.8,1044.5 453.4,1044.1 453.0,1045.5 452.6,1046.6 452.2,1046.6 451.8,1049.0 451.4,1055.5 451.0,1048.3 450.6,1050.3 450.2,1049.4 449.8,1045.3 449.4,1048.6 449.0,1043.0 448.6,1045.7 448.2,1052.4 447.8,1052.7 447.4,1047.8 447.0,1048.0 446.6,1047.5 446.2,1041.9 445.8,1048.9 445.4,1049.1 445.0,1049.2 444.6,1047.9 444.2,1044.6 443.8,1046.2 443.4,1044.1 443.0,1043.2 442.6,1050.1 442.2,1053.9 441.8,1058.1 441.4,1057.1 441.0,1056.7 440.6,1052.5 440.2,1057.2 439.8,1057.0 439.4,1062.1 439.0,1068.8 438.6,1073.2 438.2,1082.8 437.8,1094.9 437.4,1100.4 437.0,1083.4 436.6,1057.3 436.2,1052.9 435.8,1051.0 435.4,1049.2 435.0,1050.1 434.6,1050.3 434.2,1052.4 433.8,1047.0 433.4,1053.7 433.0,1047.0 432.6,1049.9 432.2,1052.6 431.8,1053.1 431.4,1057.8 431.0,1058.5 430.6,1058.4 430.2,1062.4 429.8,1058.5 429.4,1060.4 429.0,1052.7 428.6,1053.7 428.2,1052.3 427.8,1053.5 427.4,1052.5 427.0,1055.6 426.6,1057.3 426.2,1054.5 425.8,1053.9 425.4,1052.4 425.0,1052.4 424.6,1049.6 424.2,1052.5 423.8,1054.3 423.4,1059.2 423.0,1063.6 422.6,1054.6 422.2,1055.2 421.8,1051.7 421.4,1055.1 421.0,1050.7 420.6,1052.5 420.2,1056.8 419.8,1050.2 419.4,1049.8 419.0,1052.0 418.6,1052.7 418.2,1053.6 417.8,1051.4 417.4,1051.1 417.0,1054.4 416.6,1057.8 416.2,1059.4 415.8,1053.1 415.4,1052.5 415.0,1052.3 414.6,1052.3 414.2,1054.5 413.8,1056.2 413.4,1057.9 413.0,1056.8 412.6,1057.0 412.2,1060.9 411.8,1059.8 411.4,1059.0 411.0,1057.6 410.6,1057.3 410.2,1059.2 409.8,1059.2 409.4,1054.9 409.0,1053.4 408.6,1049.9 408.2,1052.5 407.8,1048.4 407.4,1052.3 407.0,1055.3 406.6,1057.4 406.2,1056.2 405.8,1056.8 405.4,1052.2 405.0,1056.8 404.6,1055.7 404.2,1057.8 403.8,1063.5 403.4,1053.1 403.0,1050.5 402.6,1054.3 402.2,1049.1 401.8,1050.0 401.4,1051.1 401.0,1052.5 400.6,1053.4 400.2,1053.0 399.8,1051.1 399.4,1046.3 399.0,1047.3 398.6,1053.4 398.2,1051.6 397.8,1048.8 397.4,1050.5 397.0,1052.3 396.6,1051.8 396.2,1054.5 395.8,1051.5 395.4,1050.3 395.0,1050.0 394.6,1051.3 394.2,1047.8 393.8,1053.5 393.4,1054.6 393.0,1050.0 392.6,1051.3 392.2,1052.6 391.8,1050.4 391.4,1055.5 391.0,1059.7 390.6,1061.7 390.2,1058.2 389.8,1055.5 389.4,1047.7 389.0,1047.2 388.6,1045.4 388.2,1042.6 387.8,1050.0 387.4,1047.3 387.0,1049.1 386.6,1046.6 386.2,1046.7 385.8,1048.2 385.4,1047.5 385.0,1053.1 384.6,1050.3 384.2,1052.0 383.8,1056.8 383.4,1053.1 383.0,1048.8 382.6,1047.3 382.2,1052.6 381.8,1051.6 381.4,1054.0 381.0,1065.3 380.6,1062.6 380.2,1062.9 379.8,1053.0 379.4,1055.6 379.0,1049.8 378.6,1046.2 378.2,1045.7 377.8,1046.1 377.4,1043.6 377.0,1046.2 376.6,1047.3 376.2,1047.2 375.8,1047.6 375.4,1049.0 375.0,1049.9 374.6,1043.6 374.2,1045.5 373.8,1044.5 373.4,1044.7 373.0,1046.3 372.6,1039.7 372.2,1041.3 371.8,1045.2 371.4,1044.2 371.0,1044.1 370.6,1048.4 370.2,1046.6 369.8,1046.5 369.4,1050.4 369.0,1050.4 368.6,1050.0 368.2,1050.3 367.8,1051.9 367.4,1051.5 367.0,1047.2 366.6,1044.7 366.2,1039.0 365.8,1043.5 365.4,1043.6 365.0,1042.2 364.6,1042.2 364.2,1050.3 363.8,1051.9 363.4,1055.8 363.0,1063.2 362.6,1049.0 362.2,1055.3 361.8,1052.7 361.4,1053.8 361.0,1056.6 360.6,1055.0 360.2,1055.8 359.8,1051.8 359.4,1053.1 359.0,1052.5 358.6,1055.3 358.2,1055.6 357.8,1053.4 357.4,1054.3 357.0,1051.6 356.6,1048.6 356.2,1050.0 355.8,1047.8 355.4,1054.8 355.0,1052.7 354.6,1053.6 354.2,1056.8 353.8,1057.1 353.4,1058.3 353.0,1053.9 352.6,1055.1 352.2,1052.8 351.8,1061.6 351.4,1058.9 351.0,1064.6 350.6,1067.0 350.2,1069.8 349.8,1074.7 349.4,1084.2 349.0,1085.0 348.6,1092.4 348.2,1097.6 347.8,1100.9 347.4,1095.8 347.0,1078.7 346.6,1053.0 346.2,1052.3 345.8,1051.9 345.4,1050.0 345.0,1050.8 344.6,1049.3 344.2,1049.7 343.8,1053.2 343.4,1046.6 343.0,1045.0 342.6,1045.5 342.2,1046.5 341.8,1047.9 341.4,1054.8 341.0,1054.9 340.6,1051.6 340.2,1055.6 339.8,1052.5 339.4,1056.1 339.0,1058.8 338.6,1058.4 338.2,1059.5 337.8,1059.3 337.4,1062.7 337.0,1055.2 336.6,1057.1 336.2,1064.2 335.8,1064.3 335.4,1060.0 335.0,1065.7 334.6,1063.7 334.2,1068.2 333.8,1067.0 333.4,1059.7 333.0,1066.6 332.6,1061.5 332.2,1060.0 331.8,1066.4 331.4,1062.1 331.0,1068.8 330.6,1064.9 330.2,1073.3 329.8,1070.6 329.4,1074.3 329.0,1070.5 328.6,1068.2 328.2,1064.2 327.8,1067.1 327.4,1067.9 327.0,1069.0 326.6,1067.8 326.2,1068.0 325.8,1068.2 325.4,1066.0 325.0,1060.6 324.6,1057.7 324.2,1066.0 323.8,1061.1 323.4,1062.2 323.0,1058.0 322.6,1058.4 322.2,1058.7 321.8,1060.2 321.4,1061.4 321.0,1062.1 320.6,1062.1 320.2,1057.1 319.8,1062.3 319.4,1061.4 319.0,1062.0 318.6,1061.0 318.2,1059.5 317.8,1056.2 317.4,1060.4 317.0,1052.0 316.6,1054.3 316.2,1055.8 315.8,1053.6 315.4,1056.7 315.0,1058.2 314.6,1057.6 314.2,1059.9 313.8,1059.0 313.4,1059.5 313.0,1061.1 312.6,1065.2 312.2,1057.1 311.8,1053.4 311.4,1063.5 311.0,1059.6 310.6,1057.5 310.2,1058.0 309.8,1056.4 309.4,1055.6 309.0,1066.0 308.6,1063.1 308.2,1060.1 307.8,1055.6 307.4,1056.3 307.0,1058.3 306.6,1061.4 306.2,1057.5 305.8,1062.7 305.4,1061.9 305.0,1062.9 304.6,1060.7 304.2,1062.2 303.8,1057.4 303.4,1060.8 303.0,1063.9 302.6,1068.3 302.2,1076.2 301.8,1069.1 301.4,1055.4 301.0,1059.5 300.6,1053.9 300.2,1053.0 299.8,1057.4 299.4,1060.4 299.0,1063.7 298.6,1065.0 298.2,1061.7 297.8,1059.3 297.4,1058.5 297.0,1060.3 296.6,1056.4 296.2,1060.2 295.8,1057.7 295.4,1051.6 295.0,1052.5 294.6,1051.2 294.2,1054.6 293.8,1050.7 293.4,1053.1 293.0,1052.4 292.6,1053.4 292.2,1053.5 291.8,1052.4 291.4,1058.9 291.0,1062.4 290.6,1061.6 290.2,1062.2 289.8,1056.6 289.4,1054.6 289.0,1054.9 288.6,1057.3 288.2,1052.7 287.8,1057.4 287.4,1055.5 287.0,1055.7 286.6,1052.7 286.2,1051.7 285.8,1053.2 285.4,1055.6 285.0,1052.7 284.6,1052.4 284.2,1055.3 283.8,1053.4 283.4,1052.7 283.0,1049.9 282.6,1053.2 282.2,1050.2 281.8,1050.5 281.4,1050.2 281.0,1051.2 280.6,1048.3 280.2,1049.9 279.8,1050.9 279.4,1040.3 279.0,1047.3 278.6,1048.8 278.2,1047.6 277.8,1051.8 277.4,1050.6 277.0,1053.8 276.6,1051.1 276.2,1053.2 275.8,1052.9 275.4,1056.2 275.0,1051.7 274.6,1050.2 274.2,1051.5 273.8,1053.9 273.4,1051.5 273.0,1056.0 272.6,1058.4 272.2,1068.4 271.8,1069.9 271.4,1060.2 271.0,1055.2 270.6,1054.2 270.2,1054.8 269.8,1052.6 269.4,1051.1 269.0,1054.8 268.6,1056.8 268.2,1055.0 267.8,1053.0 267.4,1057.2 267.0,1053.4 266.6,1055.7 266.2,1055.2 265.8,1054.6 265.4,1059.0 265.0,1053.7 264.6,1051.1 264.2,1050.5 263.8,1048.4 263.4,1045.1 263.0,1043.1 262.6,1054.6 262.2,1051.6 261.8,1052.3 261.4,1053.5 261.0,1058.8 260.6,1060.9 260.2,1055.2 259.8,1053.0 259.4,1054.8 259.0,1054.4 258.6,1053.8 258.2,1049.4 257.8,1047.2 257.4,1047.1 257.0,1047.6 256.6,1043.8 256.2,1043.8 255.8,1047.1 255.4,1050.8 255.0,1046.6 254.6,1050.0 254.2,1052.3 253.8,1049.8 253.4,1053.2 253.0,1049.2 252.6,1050.0 252.2,1045.6 251.8,1040.6 251.4,1041.8 251.0,1044.3 250.6,1036.5 250.2,1042.3 249.8,1044.9 249.4,1040.6 249.0,1039.0 248.6,1037.3 248.2,1038.0 247.8,1038.8 247.4,1044.9 247.0,1040.7 246.6,1045.4 246.2,1039.5 245.8,1045.2 245.4,1049.6 245.0,1045.2 244.6,1047.7 244.2,1047.8 243.8,1045.9 243.4,1048.7 243.0,1049.5 242.6,1047.8 242.2,1042.8 241.8,1043.0 241.4,1047.0 241.0,1044.5 240.6,1042.9 240.2,1041.8 239.8,1044.6 239.4,1039.5 239.0,1039.7 238.6,1042.5 238.2,1036.6 237.8,1037.6 237.4,1035.7 237.0,1042.3 236.6,1044.6 236.2,1047.0 235.8,1044.1 235.4,1045.4 235.0,1042.4 234.6,1047.5 234.2,1044.5 233.8,1035.4 233.4,1044.9 233.0,1049.1 232.6,1047.6 232.2,1048.6 231.8,1050.7 231.4,1054.8 231.0,1053.6 230.6,1050.5 230.2,1049.2 229.8,1048.9 229.4,1048.4 229.0,1039.8 228.6,1041.8 228.2,1041.7 227.8,1038.0 227.4,1045.1 227.0,1041.5 226.6,1044.7 226.2,1040.4 225.8,1050.0 225.4,1041.4 225.0,1040.4 224.6,1042.4 224.2,1038.3 223.8,1040.9 223.4,1038.2 223.0,1042.1 222.6,1040.4 222.2,1034.9 221.8,1036.0 221.4,1041.0 221.0,1045.2 220.6,1043.4 220.2,1044.9 219.8,1045.5 219.4,1043.3 219.0,1043.3 218.6,1049.3 218.2,1046.4 217.8,1046.0 217.4,1047.8 217.0,1048.4 216.6,1049.7 216.2,1044.9 215.8,1045.2 215.4,1044.5 215.0,1046.9 214.6,1048.4 214.2,1041.6 213.8,1044.3 213.4,1046.8 213.0,1046.2 212.6,1045.2 212.2,1052.5 211.8,1050.4 211.4,1054.1 211.0,1057.2 210.6,1060.9 210.2,1067.0 209.8,1067.8 209.4,1076.3 209.0,1091.4 208.6,1104.0 208.2,1124.9 207.8,1122.1 207.4,1085.0 207.0,1051.4 206.6,1050.8 206.2,1054.2 205.8,1051.7 205.4,1049.3 205.0,1045.4 204.6,1038.7 204.2,1042.6 203.8,1041.0 203.4,1042.4 203.0,1041.6 202.6,1038.5 202.2,1040.9 201.8,1041.2 201.4,1039.5 201.0,1040.0 200.6,1036.4 200.2,1039.2 199.8,1036.9 199.4,1037.1 199.0,1035.1 198.6,1042.0 198.2,1040.0 197.8,1040.9 197.4,1042.2 197.0,1046.1 196.6,1047.8 196.2,1041.1 195.8,1044.6 195.4,1042.9 195.0,1042.8 194.6,1044.6 194.2,1041.1 193.8,1044.3 193.4,1045.8 193.0,1042.6 192.6,1043.7 192.2,1043.2 191.8,1039.6 191.4,1042.8 191.0,1045.0 190.6,1043.4 190.2,1043.5 189.8,1042.6 189.4,1046.9 189.0,1042.1 188.6,1042.0 188.2,1040.9 187.8,1044.5 187.4,1036.4 187.0,1042.5 186.6,1044.3 186.2,1040.0 185.8,1043.5 185.4,1040.9 185.0,1049.9 184.6,1051.0 184.2,1047.4 183.8,1045.5 183.4,1044.9 183.0,1046.3 182.6,1040.2 182.2,1042.7 181.8,1045.6 181.4,1043.9 181.0,1045.5 180.6,1050.8 180.2,1046.3 179.8,1044.4 179.4,1044.5 179.0,1043.6 178.6,1043.3 178.2,1044.1 177.8,1043.3 177.4,1043.0 177.0,1050.1 176.6,1049.1 176.2,1047.5 175.8,1046.0 175.4,1051.4 175.0,1049.4 174.6,1051.1 174.2,1051.6 173.8,1052.2 173.4,1052.8 173.0,1049.7 172.6,1049.6 172.2,1052.1 171.8,1054.4 171.4,1052.3 171.0,1052.3 170.6,1051.6 170.2,1055.7 169.8,1045.1 169.4,1054.2 169.0,1051.6 168.6,1051.2 168.2,1050.5 167.8,1046.4 167.4,1044.9 167.0,1048.4 166.6,1044.3 166.2,1047.7 165.8,1050.1 165.4,1047.3 165.0,1053.7 164.6,1051.4 164.2,1053.9 163.8,1053.3 163.4,1054.0 163.0,1050.6 162.6,1048.3 162.2,1047.0 161.8,1047.2 161.4,1052.6 161.0,1051.5 160.6,1055.7 160.2,1059.1 159.8,1052.9 159.4,1059.2 159.0,1060.3 158.6,1062.4 158.2,1071.0 157.8,1069.1 157.4,1059.4 157.0,1052.0 156.6,1054.4 156.2,1058.6 155.8,1056.2 155.4,1054.5 155.0,1054.7 154.6,1056.4 154.2,1051.6 153.8,1052.9 153.4,1051.7 153.0,1054.9 152.6,1048.8 152.2,1046.0 151.8,1047.2 151.4,1046.2 151.0,1044.2 150.6,1043.6 150.2,1046.3 149.8,1049.3 149.4,1045.6 149.0,1047.0 148.6,1044.0 148.2,1047.3 147.8,1042.0 147.4,1043.9 147.0,1046.8 146.6,1046.4 146.2,1052.1 145.8,1047.7 145.4,1046.4 145.0,1043.0 144.6,1041.2 144.2,1046.5 143.8,1039.0 143.4,1038.5 143.0,1042.4 142.6,1046.3 142.2,1037.8 141.8,1042.5 141.4,1041.5 141.0,1046.2 140.6,1045.7 140.2,1046.6 139.8,1042.0 139.4,1047.0 139.0,1040.9 138.6,1034.9 138.2,1034.4 137.8,1034.6 137.4,1040.0 137.0,1035.8 136.6,1033.1 136.2,1038.8 135.8,1042.0 135.4,1037.4 135.0,1037.1 134.6,1038.5 134.2,1042.9 133.8,1040.3 133.4,1036.8 133.0,1036.9 132.6,1041.7 132.2,1037.6 131.8,1044.9 131.4,1041.3 131.0,1038.3 130.6,1038.1 130.2,1035.6 129.8,1040.7 129.4,1042.6 129.0,1048.1 128.6,1046.1 128.2,1047.3 127.8,1050.3 127.4,1051.4 127.0,1040.6 126.6,1036.3 126.2,1038.7 125.8,1036.5 125.4,1035.8 125.0,1036.3 124.6,1035.5 124.2,1033.0 123.8,1035.1 123.4,1038.8 123.0,1038.0 122.6,1035.2 122.2,1043.2 121.8,1043.8 121.4,1037.8 121.0,1037.0 120.6,1038.8 120.2,1036.1 119.8,1033.9 119.4,1032.6 119.0,1032.2 118.6,1029.9 118.2,1030.0 117.8,1031.9 117.4,1038.1 117.0,1039.9 116.6,1038.1 116.2,1039.9 115.8,1038.2 115.4,1038.3 115.0,1034.7 114.6,1035.6 114.2,1037.6 113.8,1039.9 113.4,1040.2 113.0,1039.8 112.6,1043.2 112.2,1042.6 111.8,1049.2 111.4,1040.1 111.0,1039.7 110.6,1035.0 110.2,1035.1 109.8,1042.4 109.4,1042.5 109.0,1045.7 108.6,1042.1 108.2,1058.5 107.8,1061.3 107.4,1059.4 107.0,1058.6 106.6,1049.4 106.2,1053.4 105.8,1050.1 105.4,1049.0 105.0,1053.0 104.6,1051.0 104.2,1054.3 103.8,1046.2 103.4,1045.7 103.0,1053.1 102.6,1050.2 102.2,1053.8 101.8,1050.7 101.4,1050.4 101.0,1046.1 100.6,1053.4 100.2,1055.6 99.8,1054.1 99.4,1054.2 99.0,1054.2 98.6,1052.1 98.2,1056.3 97.8,1055.5 97.4,1051.7 97.0,1048.1 96.6,1050.9 96.2,1047.6 95.8,1050.9 95.4,1044.9 95.0,1046.2 94.6,1050.0 94.2,1048.7 93.8,1043.1 93.4,1046.6 93.0,1047.4 92.6,1047.2 92.2,1044.1 91.8,1047.2 91.4,1045.6 91.0,1042.3 90.6,1048.4 90.2,1042.9 89.8,1051.2 89.4,1045.3 89.0,1042.4 88.6,1050.4 88.2,1051.4 87.8,1053.1 87.4,1051.9 87.0,1048.4 86.6,1043.2 86.2,1042.5 85.8,1040.5 85.4,1043.6 85.0,1042.4 84.6,1044.3 84.2,1049.0 83.8,1045.4 83.4,1050.4 83.0,1053.5 82.6,1051.5 82.2,1055.8 81.8,1048.7 81.4,1058.5 81.0,1054.4 80.6,1053.1 80.2,1052.2 79.8,1047.9 79.4,1049.9 79.0,1048.6 78.6,1050.2 78.2,1049.3 77.8,1046.8 77.4,1052.9 77.0,1055.0 76.6,1055.6 76.2,1051.3 75.8,1049.9 75.4,1052.2 75.0,1053.4 74.6,1051.6 74.2,1055.9 73.8,1051.6 73.4,1054.8 73.0,1049.6 72.6,1049.9 72.2,1055.2 71.8,1053.7 71.4,1052.2 71.0,1053.3 70.6,1049.3 70.2,1046.9 69.8,1049.9 69.4,1053.9 69.0,1057.0 68.6,1053.6 68.2,1054.9 67.8,1053.0 67.4,1053.7 67.0,1053.4 66.6,1056.3 66.2,1055.8 65.8,1061.0 65.4,1055.3 65.0,1051.1 64.6,1052.6 64.2,1051.0 63.8,1053.9 63.4,1059.0 63.0,1058.7 62.6,1057.5 62.2,1059.7 61.8,1056.5 61.4,1063.1 61.0,1059.7 60.6,1053.9 60.2,1055.7 59.8,1055.0 59.4,1052.0 59.0,1053.2 58.6,1053.5 58.2,1054.0 57.8,1050.8 57.4,1050.9 57.0,1054.5 56.6,1056.3 56.2,1054.6 55.8,1051.1 55.4,1056.1 55.0,1056.5 54.6,1051.9 54.2,1053.8 53.8,1056.0 53.4,1058.0 53.0,1050.3 52.6,1055.0 52.2,1053.6 51.8,1055.5 51.4,1053.4 51.0,1051.4 50.6,1049.3 50.2,1048.5 49.8,1050.4 49.4,1054.5 49.0,1053.8 48.6,1050.7 48.2,1055.3 47.8,1054.8 47.4,1055.5 47.0,1054.7 46.6,1052.6 46.2,1051.4 45.8,1050.9 45.4,1055.1 45.0,1055.4 44.6,1057.4 44.2,1056.1 43.8,1052.6 43.4,1047.4 43.0,1045.4 42.6,1046.5 42.2,1052.2 41.8,1052.0 41.4,1053.5 41.0,1053.2 40.6,1048.9 40.2,1048.6 39.8,1049.4 39.4,1048.7 39.0,1055.4 38.6,1049.1 38.2,1049.3 37.8,1048.6 37.4,1046.0 37.0,1048.6 36.6,1045.5 36.2,1047.8 35.8,1048.1 35.4,1052.6 35.0,1048.0 34.6,1045.0 34.2,1048.0 33.8,1054.1 33.4,1051.6 33.0,1047.7 32.6,1050.5 32.2,1053.1" fill="#6497FA" stroke="#6497FA" stroke-width="0.45" stroke-linejoin="round" opacity="0.92"/>
<polyline points="653.5,1196.3 848.2,1196.3 848.2,1119.8" fill="none" stroke="#000" stroke-width="3" stroke-linecap="round" stroke-linejoin="miter"/>
<text x="763" y="1181.3" font-size="40" text-anchor="middle" fill="#000" font-family='"Liberation Sans", sans-serif'>20 pA</text>
<text x="763.5" y="1234" font-size="40" text-anchor="middle" fill="#000" font-family='"Liberation Sans", sans-serif'>1 s</text>
<text x="902.3" y="715.5" font-size="64" text-anchor="start" font-weight="bold" fill="#000" font-family='"Liberation Sans", sans-serif'>f</text>
<rect x="1079.6" y="1034.6" width="90.4" height="200.4000000000001" fill="#696969" stroke="#000" stroke-width="2.2"/>
<rect x="1198.6" y="881.3" width="89.9" height="353.70000000000005" fill="#5F9BEA" stroke="#000" stroke-width="2.2"/>
<line x1="1065.3" y1="677.5" x2="1065.3" y2="1236.2" stroke="#000" stroke-width="2.4" stroke-linecap="butt"/>
<line x1="1054.3" y1="1235" x2="1303.8" y2="1235" stroke="#000" stroke-width="2.4" stroke-linecap="butt"/>
<line x1="1054.3" y1="1080.2" x2="1065.3" y2="1080.2" stroke="#000" stroke-width="2.4" stroke-linecap="butt"/>
<line x1="1054.3" y1="925.4" x2="1065.3" y2="925.4" stroke="#000" stroke-width="2.4" stroke-linecap="butt"/>
<line x1="1054.3" y1="770.5999999999999" x2="1065.3" y2="770.5999999999999" stroke="#000" stroke-width="2.4" stroke-linecap="butt"/>
<text transform="translate(1047 1244.8) scale(0.96 1)" font-size="32.6" text-anchor="end" fill="#000" font-family='"Liberation Sans", sans-serif'>0.0</text>
<text transform="translate(1047 1090.0) scale(0.96 1)" font-size="32.6" text-anchor="end" fill="#000" font-family='"Liberation Sans", sans-serif'>0.5</text>
<text transform="translate(1047 935.1999999999999) scale(0.96 1)" font-size="32.6" text-anchor="end" fill="#000" font-family='"Liberation Sans", sans-serif'>1.0</text>
<text transform="translate(1047 780.3999999999999) scale(0.96 1)" font-size="32.6" text-anchor="end" fill="#000" font-family='"Liberation Sans", sans-serif'>1.5</text>
<line x1="1124.3" y1="1001.5" x2="1124.3" y2="1067.8" stroke="#000" stroke-width="1.8" stroke-linecap="butt"/>
<line x1="1110.3" y1="1001.5" x2="1138.3" y2="1001.5" stroke="#000" stroke-width="1.8" stroke-linecap="butt"/>
<line x1="1110.3" y1="1067.8" x2="1138.3" y2="1067.8" stroke="#000" stroke-width="1.8" stroke-linecap="butt"/>
<line x1="1243.3" y1="850.5" x2="1243.3" y2="911.5" stroke="#000" stroke-width="1.8" stroke-linecap="butt"/>
<line x1="1229.3" y1="850.5" x2="1257.3" y2="850.5" stroke="#000" stroke-width="1.8" stroke-linecap="butt"/>
<line x1="1229.3" y1="911.5" x2="1257.3" y2="911.5" stroke="#000" stroke-width="1.8" stroke-linecap="butt"/>
<polygon points="1107,953.25 1114,960.25 1107,967.25 1100,960.25" fill="#000"/>
<polygon points="1141.5,976.5 1148.5,983.5 1141.5,990.5 1134.5,983.5" fill="#000"/>
<polygon points="1124.25,995 1131.25,1002 1124.25,1009 1117.25,1002" fill="#000"/>
<polygon points="1124.25,1096.25 1131.25,1103.25 1124.25,1110.25 1117.25,1103.25" fill="#000"/>
<polygon points="1124.25,1117.75 1131.25,1124.75 1124.25,1131.75 1117.25,1124.75" fill="#000"/>
<polygon points="1243.25,737.5 1250.25,744.5 1243.25,751.5 1236.25,744.5" fill="#000"/>
<polygon points="1235,875 1242,882 1235,889 1228,882" fill="#000"/>
<polygon points="1269,877.5 1276,884.5 1269,891.5 1262,884.5" fill="#000"/>
<polygon points="1218,889.25 1225,896.25 1218,903.25 1211,896.25" fill="#000"/>
<polygon points="1251.75,903.75 1258.75,910.75 1251.75,917.75 1244.75,910.75" fill="#000"/>
<polygon points="1243.25,963.25 1250.25,970.25 1243.25,977.25 1236.25,970.25" fill="#000"/>
<text x="1124.8" y="1270.6" font-size="31.2" text-anchor="middle" fill="#000" font-family='"Liberation Sans", sans-serif'>WT</text>
<text x="1243.8" y="1270.6" font-size="31.8" text-anchor="middle" fill="#000" font-family='"Liberation Sans", sans-serif'>KO</text>
<text x="996" y="977" font-size="47.5" text-anchor="middle" fill="#000" font-family='"Liberation Sans", sans-serif' transform="rotate(-90 996 977)">Interevent Interval (S)</text>
<text x="1244.6" y="721.3" font-size="38" text-anchor="middle" fill="#000" font-family='"Liberation Serif", serif'>**</text>
<text x="1325.7" y="714.6" font-size="64" text-anchor="start" font-weight="bold" fill="#000" font-family='"Liberation Sans", sans-serif'>g</text>
<line x1="1477.7" y1="712.6" x2="1477.7" y2="1184.2" stroke="#000" stroke-width="2" stroke-linecap="butt"/>
<line x1="1476.7" y1="1183.2" x2="1993" y2="1183.2" stroke="#000" stroke-width="2" stroke-linecap="butt"/>
<line x1="1468.5" y1="1179.2" x2="1477.7" y2="1179.2" stroke="#000" stroke-width="2" stroke-linecap="butt"/>
<text transform="translate(1462 1188.0) scale(0.915 1)" font-size="31.8" text-anchor="end" fill="#000" font-family='"Liberation Sans", sans-serif'>0.0</text>
<line x1="1468.5" y1="956.4000000000001" x2="1477.7" y2="956.4000000000001" stroke="#000" stroke-width="2" stroke-linecap="butt"/>
<text transform="translate(1462 965.2) scale(0.915 1)" font-size="31.8" text-anchor="end" fill="#000" font-family='"Liberation Sans", sans-serif'>0.5</text>
<line x1="1468.5" y1="733.6" x2="1477.7" y2="733.6" stroke="#000" stroke-width="2" stroke-linecap="butt"/>
<text transform="translate(1462 742.4) scale(0.915 1)" font-size="31.8" text-anchor="end" fill="#000" font-family='"Liberation Sans", sans-serif'>1.0</text>
<line x1="1477.0" y1="1183.2" x2="1477.0" y2="1192.5" stroke="#000" stroke-width="2" stroke-linecap="butt"/>
<text transform="translate(1477.0 1223) scale(0.915 1)" font-size="31.8" text-anchor="middle" fill="#000" font-family='"Liberation Sans", sans-serif'>0</text>
<line x1="1602.75" y1="1183.2" x2="1602.75" y2="1192.5" stroke="#000" stroke-width="2" stroke-linecap="butt"/>
<text transform="translate(1602.75 1223) scale(0.915 1)" font-size="31.8" text-anchor="middle" fill="#000" font-family='"Liberation Sans", sans-serif'>10</text>
<line x1="1728.5" y1="1183.2" x2="1728.5" y2="1192.5" stroke="#000" stroke-width="2" stroke-linecap="butt"/>
<text transform="translate(1728.5 1223) scale(0.915 1)" font-size="31.8" text-anchor="middle" fill="#000" font-family='"Liberation Sans", sans-serif'>20</text>
<line x1="1854.25" y1="1183.2" x2="1854.25" y2="1192.5" stroke="#000" stroke-width="2" stroke-linecap="butt"/>
<text transform="translate(1854.25 1223) scale(0.915 1)" font-size="31.8" text-anchor="middle" fill="#000" font-family='"Liberation Sans", sans-serif'>30</text>
<line x1="1980.0" y1="1183.2" x2="1980.0" y2="1192.5" stroke="#000" stroke-width="2" stroke-linecap="butt"/>
<text transform="translate(1980.0 1223) scale(0.915 1)" font-size="31.8" text-anchor="middle" fill="#000" font-family='"Liberation Sans", sans-serif'>40</text>
<text x="1736" y="1269.8" font-size="40" text-anchor="middle" fill="#000" font-family='"Liberation Sans", sans-serif'>Amplitude (pA)</text>
<text x="1410.5" y="946" font-size="40" text-anchor="middle" fill="#000" font-family='"Liberation Sans", sans-serif' transform="rotate(-90 1410.5 946)">cumulative probability</text>
<polyline points="1477.0,1179.2 1516.0,1179.2 1519.3,1178.5 1531.1,1174.1 1537.9,1169.4 1543.0,1162.6 1556.5,1140.3 1570.0,1112.5 1587.0,1068.6 1593.7,1048.3 1607.3,1000.9 1615.7,970.0 1627.5,930.8 1637.7,900.3 1656.3,860.4 1663.0,853.0 1674.9,835.4 1688.4,820.8 1698.6,809.0 1707.0,800.5 1712.1,797.2 1718.9,789.4 1739.2,777.9 1751.0,772.8 1762.9,764.3 1769.6,762.7 1776.4,757.6 1788.2,754.2 1800.0,748.1 1820.3,744.7 1847.4,742.4 1877.9,739.6 1915.1,736.9 1948.9,735.6 1995.6,734.6" fill="none" stroke="#000" stroke-width="2.4" stroke-linejoin="round"/>
<polyline points="1477.0,1179.2 1499.0,1179.2 1505.8,1176.8 1512.5,1171.7 1519.3,1163.3 1524.4,1153.1 1531.1,1142.0 1537.9,1126.1 1543.0,1108.1 1549.7,1099.0 1559.9,1075.3 1568.3,1055.0 1576.8,1028.0 1587.0,994.1 1597.1,970.0 1610.6,934.2 1620.8,910.5 1634.3,880.0 1644.5,858.0 1651.2,849.6 1656.3,837.8 1663.0,827.6 1674.9,815.8 1685.0,802.2 1698.6,786.3 1712.1,776.9 1725.6,769.0 1739.2,764.0 1752.7,758.9 1769.6,754.2 1779.8,749.8 1796.7,746.4 1820.3,744.0 1847.4,740.7 1881.3,739.0 1915.1,736.9 1948.9,735.6 1995.6,734.6" fill="none" stroke="#5A94EC" stroke-width="2.4" stroke-linejoin="round"/>
<line x1="1836.6" y1="835.4" x2="1905.6" y2="835.4" stroke="#000" stroke-width="2.2" stroke-linecap="butt"/>
<line x1="1836.6" y1="873.6" x2="1905.6" y2="873.6" stroke="#5A94EC" stroke-width="2.2" stroke-linecap="butt"/>
<text x="1914.5" y="846.2" font-size="31.2" text-anchor="start" fill="#000" font-family='"Liberation Sans", sans-serif'>WT</text>
<text x="1912.5" y="884.4" font-size="31.8" text-anchor="start" fill="#000" font-family='"Liberation Sans", sans-serif'>KO</text>
</svg>
</body></html>
